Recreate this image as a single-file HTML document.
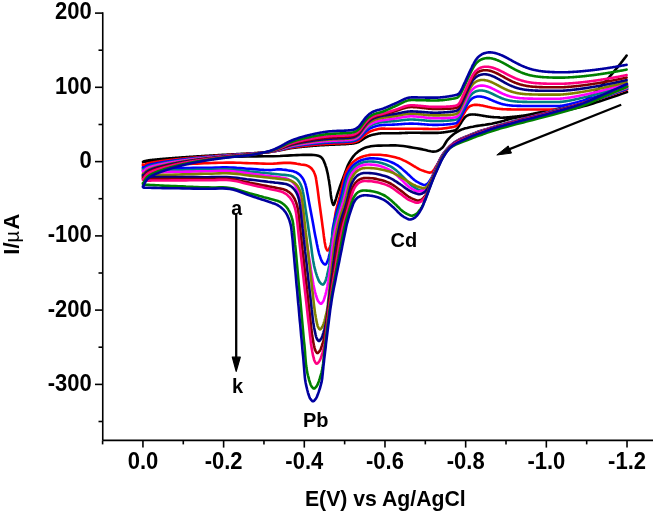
<!DOCTYPE html><html><head><meta charset="utf-8"><style>html,body{margin:0;padding:0;background:#fff;}svg{display:block}</style></head><body>
<svg width="653" height="514" viewBox="0 0 653 514" style="will-change:transform">
<g fill="none" stroke-width="2.6" stroke-linejoin="round" stroke-linecap="round">
<path stroke="#000000" d="M143.6,161.5 L144.1,161.3 L144.6,161.2 L145.1,161.0 L145.6,160.9 L146.1,160.8 L146.6,160.7 L147.1,160.6 L147.6,160.5 L148.1,160.4 L148.6,160.3 L149.1,160.3 L149.6,160.2 L150.1,160.1 L150.6,160.1 L151.1,160.0 L151.6,160.0 L152.1,159.9 L152.6,159.9 L153.1,159.8 L153.6,159.8 L154.1,159.7 L154.6,159.7 L155.1,159.6 L155.6,159.6 L156.1,159.5 L156.6,159.5 L157.1,159.4 L157.6,159.4 L158.1,159.3 L158.6,159.3 L159.1,159.2 L159.6,159.2 L160.1,159.1 L160.6,159.1 L161.1,159.1 L161.6,159.0 L162.1,159.0 L162.6,158.9 L163.1,158.9 L163.6,158.8 L164.1,158.8 L164.6,158.8 L165.1,158.7 L165.6,158.7 L166.1,158.6 L166.6,158.6 L167.1,158.6 L167.6,158.5 L168.1,158.5 L168.6,158.4 L169.1,158.4 L169.6,158.3 L170.1,158.3 L170.6,158.3 L171.1,158.2 L171.6,158.2 L172.1,158.2 L172.6,158.1 L173.1,158.1 L173.6,158.0 L174.1,158.0 L174.6,158.0 L175.1,157.9 L175.6,157.9 L176.1,157.9 L176.6,157.8 L177.1,157.8 L177.6,157.7 L178.1,157.7 L178.6,157.7 L179.1,157.6 L179.6,157.6 L180.1,157.6 L180.6,157.5 L181.1,157.5 L181.6,157.4 L182.1,157.4 L182.6,157.4 L183.1,157.3 L183.6,157.3 L184.1,157.3 L184.6,157.2 L185.1,157.2 L185.6,157.2 L186.1,157.1 L186.6,157.1 L187.1,157.1 L187.6,157.0 L188.1,157.0 L188.6,157.0 L189.1,156.9 L189.6,156.9 L190.1,156.9 L190.6,156.8 L191.1,156.8 L191.6,156.8 L192.1,156.7 L192.6,156.7 L193.1,156.7 L193.6,156.6 L194.1,156.6 L194.6,156.6 L195.1,156.5 L195.6,156.5 L196.1,156.5 L196.6,156.4 L197.1,156.4 L197.6,156.4 L198.1,156.3 L198.6,156.3 L199.1,156.3 L199.6,156.2 L200.1,156.2 L200.6,156.2 L201.1,156.2 L201.6,156.1 L202.1,156.1 L202.6,156.1 L203.1,156.0 L203.6,156.0 L204.1,156.0 L204.6,155.9 L205.1,155.9 L205.6,155.9 L206.1,155.8 L206.6,155.8 L207.1,155.8 L207.6,155.8 L208.1,155.7 L208.6,155.7 L209.1,155.7 L209.6,155.6 L210.1,155.6 L210.6,155.6 L211.1,155.6 L211.6,155.5 L212.1,155.5 L212.6,155.5 L213.1,155.4 L213.6,155.4 L214.1,155.4 L214.6,155.3 L215.1,155.3 L215.6,155.3 L216.1,155.3 L216.6,155.2 L217.1,155.2 L217.6,155.2 L218.1,155.1 L218.6,155.1 L219.1,155.1 L219.6,155.1 L220.1,155.0 L220.6,155.0 L221.1,155.0 L221.6,154.9 L222.1,154.9 L222.6,154.9 L223.1,154.9 L223.6,154.8 L224.1,154.8 L224.6,154.8 L225.1,154.8 L225.6,154.7 L226.1,154.7 L226.6,154.7 L227.1,154.6 L227.6,154.6 L228.1,154.6 L228.6,154.6 L229.1,154.5 L229.6,154.5 L230.1,154.5 L230.6,154.5 L231.1,154.4 L231.6,154.4 L232.1,154.4 L232.6,154.3 L233.1,154.3 L233.6,154.3 L234.1,154.3 L234.6,154.2 L235.1,154.2 L235.6,154.2 L236.1,154.2 L236.6,154.1 L237.1,154.1 L237.6,154.1 L238.1,154.1 L238.6,154.0 L239.1,154.0 L239.6,154.0 L240.1,154.0 L240.6,153.9 L241.1,153.9 L241.6,153.9 L242.1,153.9 L242.6,153.8 L243.1,153.8 L243.6,153.8 L244.1,153.8 L244.6,153.7 L245.1,153.7 L245.6,153.7 L246.1,153.7 L246.6,153.6 L247.1,153.6 L247.6,153.6 L248.1,153.6 L248.6,153.5 L249.1,153.5 L249.6,153.5 L250.1,153.4 L250.6,153.4 L251.1,153.4 L251.6,153.3 L252.1,153.3 L252.6,153.3 L253.1,153.2 L253.6,153.2 L254.1,153.2 L254.6,153.1 L255.1,153.1 L255.6,153.1 L256.1,153.0 L256.6,153.0 L257.1,153.0 L257.6,152.9 L258.1,152.9 L258.6,152.9 L259.1,152.8 L259.6,152.8 L260.1,152.7 L260.6,152.7 L261.1,152.7 L261.6,152.6 L262.1,152.6 L262.6,152.6 L263.1,152.5 L263.6,152.5 L264.1,152.4 L264.6,152.4 L265.1,152.4 L265.6,152.3 L266.1,152.3 L266.6,152.2 L267.1,152.2 L267.6,152.1 L268.1,152.1 L268.6,152.0 L269.1,152.0 L269.6,151.9 L270.1,151.9 L270.6,151.8 L271.1,151.7 L271.6,151.7 L272.1,151.6 L272.6,151.5 L273.1,151.5 L273.6,151.4 L274.1,151.3 L274.6,151.2 L275.1,151.2 L275.6,151.1 L276.1,151.0 L276.6,150.9 L277.1,150.8 L277.6,150.7 L278.1,150.7 L278.6,150.6 L279.1,150.5 L279.6,150.4 L280.1,150.3 L280.6,150.2 L281.1,150.1 L281.6,150.0 L282.1,149.9 L282.6,149.8 L283.1,149.7 L283.6,149.6 L284.1,149.5 L284.6,149.4 L285.1,149.3 L285.6,149.2 L286.1,149.1 L286.6,149.0 L287.1,148.9 L287.6,148.8 L288.1,148.7 L288.6,148.6 L289.1,148.5 L289.6,148.4 L290.1,148.3 L290.6,148.3 L291.1,148.2 L291.6,148.1 L292.1,148.0 L292.6,148.0 L293.1,147.9 L293.6,147.8 L294.1,147.8 L294.6,147.7 L295.1,147.6 L295.6,147.6 L296.1,147.5 L296.6,147.4 L297.1,147.4 L297.6,147.3 L298.1,147.3 L298.6,147.2 L299.1,147.1 L299.6,147.1 L300.1,147.0 L300.6,147.0 L301.1,146.9 L301.6,146.9 L302.1,146.8 L302.6,146.8 L303.1,146.7 L303.6,146.7 L304.1,146.6 L304.6,146.6 L305.1,146.5 L305.6,146.5 L306.1,146.4 L306.6,146.4 L307.1,146.4 L307.6,146.3 L308.1,146.3 L308.6,146.2 L309.1,146.2 L309.6,146.1 L310.1,146.1 L310.6,146.0 L311.1,146.0 L311.6,146.0 L312.1,145.9 L312.6,145.9 L313.1,145.8 L313.6,145.8 L314.1,145.8 L314.6,145.7 L315.1,145.7 L315.6,145.6 L316.1,145.6 L316.6,145.6 L317.1,145.5 L317.6,145.5 L318.1,145.4 L318.6,145.4 L319.1,145.4 L319.6,145.3 L320.1,145.3 L320.6,145.3 L321.1,145.3 L321.6,145.2 L322.1,145.2 L322.6,145.2 L323.1,145.1 L323.6,145.1 L324.1,145.1 L324.6,145.1 L325.1,145.0 L325.6,145.0 L326.1,145.0 L326.6,145.0 L327.1,144.9 L327.6,144.9 L328.1,144.9 L328.6,144.9 L329.1,144.8 L329.6,144.8 L330.1,144.8 L330.6,144.8 L331.1,144.7 L331.6,144.7 L332.1,144.7 L332.6,144.7 L333.1,144.7 L333.6,144.6 L334.1,144.6 L334.6,144.6 L335.1,144.6 L335.6,144.5 L336.1,144.5 L336.6,144.5 L337.1,144.5 L337.6,144.5 L338.1,144.4 L338.6,144.4 L339.1,144.4 L339.6,144.4 L340.1,144.4 L340.6,144.3 L341.1,144.3 L341.6,144.3 L342.1,144.3 L342.6,144.2 L343.1,144.2 L343.6,144.2 L344.1,144.2 L344.6,144.1 L345.1,144.1 L345.6,144.1 L346.1,144.1 L346.6,144.0 L347.1,144.0 L347.6,144.0 L348.1,143.9 L348.6,143.9 L349.1,143.8 L349.6,143.8 L350.1,143.8 L350.6,143.7 L351.1,143.7 L351.6,143.6 L352.1,143.6 L352.6,143.5 L353.1,143.4 L353.6,143.4 L354.1,143.3 L354.6,143.2 L355.1,143.1 L355.6,143.0 L356.1,142.9 L356.6,142.7 L357.1,142.6 L357.6,142.4 L358.1,142.2 L358.6,142.0 L359.1,141.8 L359.6,141.5 L360.1,141.2 L360.6,140.9 L361.1,140.6 L361.6,140.2 L362.1,139.9 L362.6,139.6 L363.1,139.2 L363.6,138.9 L364.1,138.6 L364.6,138.2 L365.1,137.9 L365.6,137.6 L366.1,137.3 L366.6,137.1 L367.1,136.8 L367.6,136.6 L368.1,136.3 L368.6,136.1 L369.1,135.9 L369.6,135.7 L370.1,135.5 L370.6,135.4 L371.1,135.2 L371.6,135.1 L372.1,134.9 L372.6,134.8 L373.1,134.7 L373.6,134.6 L374.1,134.5 L374.6,134.4 L375.1,134.3 L375.6,134.2 L376.1,134.1 L376.6,134.0 L377.1,133.9 L377.6,133.8 L378.1,133.7 L378.6,133.6 L379.1,133.5 L379.6,133.5 L380.1,133.4 L380.6,133.4 L381.1,133.3 L381.6,133.3 L382.1,133.3 L382.6,133.3 L383.1,133.3 L383.6,133.3 L384.1,133.3 L384.6,133.3 L385.1,133.3 L385.6,133.3 L386.1,133.3 L386.6,133.3 L387.1,133.3 L387.6,133.3 L388.1,133.3 L388.6,133.3 L389.1,133.3 L389.6,133.3 L390.1,133.3 L390.6,133.3 L391.1,133.3 L391.6,133.3 L392.1,133.3 L392.6,133.3 L393.1,133.3 L393.6,133.3 L394.1,133.3 L394.6,133.2 L395.1,133.2 L395.6,133.2 L396.1,133.2 L396.6,133.2 L397.1,133.2 L397.6,133.2 L398.1,133.2 L398.6,133.2 L399.1,133.2 L399.6,133.1 L400.1,133.1 L400.6,133.1 L401.1,133.1 L401.6,133.1 L402.1,133.0 L402.6,133.0 L403.1,133.0 L403.6,133.0 L404.1,133.0 L404.6,133.0 L405.1,132.9 L405.6,132.9 L406.1,132.9 L406.6,132.9 L407.1,132.9 L407.6,132.9 L408.1,132.8 L408.6,132.8 L409.1,132.8 L409.6,132.8 L410.1,132.8 L410.6,132.8 L411.1,132.8 L411.6,132.8 L412.1,132.8 L412.6,132.8 L413.1,132.8 L413.6,132.8 L414.1,132.8 L414.6,132.8 L415.1,132.8 L415.6,132.8 L416.1,132.8 L416.6,132.8 L417.1,132.8 L417.6,132.8 L418.1,132.8 L418.6,132.8 L419.1,132.8 L419.6,132.8 L420.1,132.8 L420.6,132.9 L421.1,132.9 L421.6,132.9 L422.1,132.9 L422.6,132.9 L423.1,132.9 L423.6,132.9 L424.1,132.9 L424.6,132.9 L425.1,132.9 L425.6,132.9 L426.1,132.9 L426.6,132.9 L427.1,132.9 L427.6,132.9 L428.1,132.9 L428.6,132.9 L429.1,132.9 L429.6,132.9 L430.1,132.9 L430.6,132.9 L431.1,132.9 L431.6,132.9 L432.1,132.9 L432.6,132.9 L433.1,132.9 L433.6,132.9 L434.1,132.9 L434.6,132.9 L435.1,132.9 L435.6,132.9 L436.1,132.9 L436.6,132.9 L437.1,132.9 L437.6,132.9 L438.1,132.9 L438.6,132.8 L439.1,132.8 L439.6,132.8 L440.1,132.7 L440.6,132.7 L441.1,132.6 L441.6,132.6 L442.1,132.5 L442.6,132.5 L443.1,132.4 L443.6,132.4 L444.1,132.3 L444.6,132.2 L445.1,132.2 L445.6,132.1 L446.1,132.0 L446.6,131.9 L447.1,131.9 L447.6,131.8 L448.1,131.7 L448.6,131.6 L449.1,131.5 L449.6,131.5 L450.1,131.4 L450.6,131.3 L451.1,131.2 L451.6,131.1 L452.1,131.0 L452.6,130.9 L453.1,130.8 L453.6,130.7 L454.1,130.5 L454.6,130.4 L455.1,130.2 L455.6,129.9 L456.1,129.6 L456.6,129.2 L457.1,128.7 L457.6,128.1 L458.1,127.4 L458.6,126.6 L459.1,125.9 L459.6,125.1 L460.1,124.3 L460.6,123.5 L461.1,122.7 L461.6,121.9 L462.1,121.1 L462.6,120.4 L463.1,119.6 L463.6,118.9 L464.1,118.3 L464.6,117.7 L465.1,117.2 L465.6,116.7 L466.1,116.3 L466.6,115.9 L467.1,115.6 L467.6,115.4 L468.1,115.2 L468.6,115.0 L469.1,114.8 L469.6,114.7 L470.1,114.6 L470.6,114.6 L471.1,114.5 L471.6,114.5 L472.1,114.5 L472.6,114.4 L473.1,114.5 L473.6,114.5 L474.1,114.5 L474.6,114.5 L475.1,114.6 L475.6,114.6 L476.1,114.7 L476.6,114.7 L477.1,114.8 L477.6,114.9 L478.1,114.9 L478.6,115.0 L479.1,115.1 L479.6,115.2 L480.1,115.3 L480.6,115.3 L481.1,115.4 L481.6,115.5 L482.1,115.6 L482.6,115.7 L483.1,115.8 L483.6,115.9 L484.1,115.9 L484.6,116.0 L485.1,116.1 L485.6,116.2 L486.1,116.3 L486.6,116.4 L487.1,116.4 L487.6,116.5 L488.1,116.6 L488.6,116.6 L489.1,116.7 L489.6,116.8 L490.1,116.8 L490.6,116.9 L491.1,116.9 L491.6,117.0 L492.1,117.0 L492.6,117.1 L493.1,117.1 L493.6,117.1 L494.1,117.2 L494.6,117.2 L495.1,117.2 L495.6,117.3 L496.1,117.3 L496.6,117.3 L497.1,117.3 L497.6,117.3 L498.1,117.4 L498.6,117.4 L499.1,117.4 L499.6,117.4 L500.1,117.8 L500.6,117.8 L501.1,117.8 L501.6,117.7 L502.1,117.7 L502.6,117.7 L503.1,117.7 L503.6,117.6 L504.1,117.6 L504.6,117.6 L505.1,117.5 L505.6,117.5 L506.1,117.5 L506.6,117.4 L507.1,117.4 L507.6,117.4 L508.1,117.3 L508.6,117.3 L509.1,117.2 L509.6,117.2 L510.1,117.1 L510.6,117.1 L511.1,117.0 L511.6,117.0 L512.1,116.9 L512.6,116.9 L513.1,116.8 L513.6,116.8 L514.1,116.7 L514.6,116.7 L515.1,116.6 L515.6,116.6 L516.1,116.5 L516.6,116.5 L517.1,116.4 L517.6,116.3 L518.1,116.3 L518.6,116.2 L519.1,116.2 L519.6,116.1 L520.1,116.0 L520.6,116.0 L521.1,115.9 L521.6,115.9 L522.1,115.8 L522.6,115.7 L523.1,115.7 L523.6,115.6 L524.1,115.5 L524.6,115.4 L525.1,115.3 L525.6,115.3 L526.1,115.2 L526.6,115.1 L527.1,115.0 L527.6,114.9 L528.1,114.8 L528.6,114.7 L529.1,114.6 L529.6,114.5 L530.1,114.4 L530.6,114.3 L531.1,114.2 L531.6,114.1 L532.1,114.0 L532.6,113.9 L533.1,113.8 L533.6,113.7 L534.1,113.5 L534.6,113.4 L535.1,113.3 L535.6,113.2 L536.1,113.1 L536.6,113.0 L537.1,112.9 L537.6,112.8 L538.1,112.7 L538.6,112.6 L539.1,112.5 L539.6,112.4 L540.1,112.3 L540.6,112.2 L541.1,112.1 L541.6,112.0 L542.1,111.9 L542.6,111.8 L543.1,111.7 L543.6,111.6 L544.1,111.5 L544.6,111.4 L545.1,111.3 L545.6,111.2 L546.1,111.1 L546.6,111.0 L547.1,110.9 L547.6,110.8 L548.1,110.7 L548.6,110.6 L549.1,110.5 L549.6,110.4 L550.1,110.3 L550.6,110.3 L551.1,110.2 L551.6,110.1 L552.1,110.0 L552.6,109.9 L553.1,109.8 L553.6,109.7 L554.1,109.6 L554.6,109.5 L555.1,109.4 L555.6,109.2 L556.1,109.1 L556.6,109.0 L557.1,108.9 L557.6,108.8 L558.1,108.7 L558.6,108.6 L559.1,108.5 L559.6,108.4 L560.1,108.3 L560.6,108.2 L561.1,108.1 L561.6,107.9 L562.1,107.8 L562.6,107.7 L563.1,107.6 L563.6,107.5 L564.1,107.4 L564.6,107.3 L565.1,107.2 L565.6,107.1 L566.1,107.0 L566.6,106.9 L567.1,106.8 L567.6,106.7 L568.1,106.6 L568.6,106.5 L569.1,106.4 L569.6,106.3 L570.1,106.1 L570.6,106.0 L571.1,105.9 L571.6,105.8 L572.1,105.7 L572.6,105.5 L573.1,105.4 L573.6,105.3 L574.1,105.1 L574.6,105.0 L575.1,104.9 L575.6,104.7 L576.1,104.6 L576.6,104.4 L577.1,104.2 L577.6,104.1 L578.1,103.9 L578.6,103.7 L579.1,103.5 L579.6,103.4 L580.1,103.2 L580.6,103.0 L581.1,102.7 L581.6,102.5 L582.1,102.2 L582.6,101.9 L583.1,101.6 L583.6,101.3 L584.1,101.0 L584.6,100.7 L585.1,100.3 L585.6,100.0 L586.1,99.6 L586.6,99.2 L587.1,98.8 L587.6,98.4 L588.1,98.0 L588.6,97.6 L589.1,97.2 L589.6,96.8 L590.1,96.3 L590.6,95.9 L591.1,95.4 L591.6,95.0 L592.1,94.6 L592.6,94.1 L593.1,93.7 L593.6,93.2 L594.1,92.8 L594.6,92.4 L595.1,91.9 L595.6,91.5 L596.1,91.0 L596.6,90.6 L597.1,90.1 L597.6,89.6 L598.1,89.1 L598.6,88.6 L599.1,88.1 L599.6,87.6 L600.1,87.1 L600.6,86.6 L601.1,86.1 L601.6,85.6 L602.1,85.0 L602.6,84.5 L603.1,84.0 L603.6,83.4 L604.1,82.9 L604.6,82.3 L605.1,81.8 L605.6,81.2 L606.1,80.6 L606.6,80.1 L607.1,79.5 L607.6,79.0 L608.1,78.4 L608.6,77.8 L609.1,77.3 L609.6,76.7 L610.1,76.1 L610.6,75.5 L611.1,75.0 L611.6,74.4 L612.1,73.8 L612.6,73.2 L613.1,72.6 L613.6,72.0 L614.1,71.4 L614.6,70.8 L615.1,70.2 L615.6,69.6 L616.1,69.0 L616.6,68.4 L617.1,67.8 L617.6,67.2 L618.1,66.6 L618.6,65.9 L619.1,65.3 L619.6,64.7 L620.1,64.1 L620.6,63.4 L621.1,62.8 L621.6,62.1 L622.1,61.5 L622.6,60.8 L623.1,60.2 L623.6,59.5 L624.1,58.9 L624.6,58.2 L625.1,57.6 L625.6,56.9 L626.1,56.2 L626.6,55.5 M627.0,92.0 L622.5,93.6 L617.9,95.2 L613.3,96.7 L608.7,98.3 L604.3,99.8 L600.0,101.2 L596.5,102.3 L593.1,103.4 L589.8,104.4 L586.6,105.4 L583.3,106.3 L580.0,107.2 L576.7,108.0 L573.4,108.7 L570.0,109.4 L566.7,110.1 L563.3,110.7 L560.0,111.2 L556.7,111.7 L553.3,112.1 L550.0,112.4 L546.7,112.7 L543.3,113.1 L540.0,113.5 L536.6,114.0 L533.1,114.5 L529.7,115.1 L526.3,115.6 L523.0,116.2 L520.0,116.8 L517.8,117.2 L515.7,117.7 L513.6,118.1 L511.7,118.6 L509.8,119.0 L508.0,119.5 L506.6,119.9 L505.2,120.3 L504.0,120.7 L502.7,121.1 L501.4,121.4 L500.0,121.8 L498.4,122.2 L496.8,122.6 L495.2,122.9 L493.5,123.3 L491.8,123.7 L490.0,124.0 L487.7,124.4 L485.2,124.8 L482.6,125.1 L480.0,125.5 L477.4,125.9 L475.0,126.3 L472.9,126.7 L470.9,127.0 L468.9,127.4 L467.0,127.9 L465.2,128.3 L463.4,128.9 L462.0,129.4 L460.6,130.0 L459.3,130.6 L458.1,131.3 L456.8,132.0 L455.6,132.8 L454.2,133.8 L452.9,134.8 L451.5,135.9 L450.2,137.1 L449.0,138.3 L447.8,139.6 L446.7,141.0 L445.8,142.5 L444.9,144.0 L444.0,145.5 L443.1,146.9 L442.0,148.0 L441.0,148.8 L440.0,149.6 L438.9,150.2 L437.8,150.8 L436.5,151.2 L435.2,151.5 L433.1,151.6 L430.7,151.3 L428.1,150.8 L425.5,150.1 L422.7,149.4 L420.0,148.9 L416.8,148.3 L413.4,147.7 L410.0,147.1 L406.5,146.5 L403.2,146.0 L400.0,145.7 L397.5,145.5 L395.2,145.4 L392.9,145.4 L390.6,145.4 L388.3,145.5 L386.0,145.5 L383.5,145.5 L380.8,145.6 L378.2,145.6 L375.6,145.7 L373.1,146.0 L370.8,146.3 L369.0,146.7 L367.4,147.1 L365.7,147.6 L364.2,148.1 L362.7,148.8 L361.3,149.5 L360.0,150.3 L358.8,151.1 L357.7,152.0 L356.6,152.9 L355.5,153.9 L354.5,155.0 L353.5,156.2 L352.5,157.4 L351.6,158.7 L350.7,160.1 L349.8,161.6 L349.0,163.1 L348.0,165.1 L347.1,167.3 L346.2,169.6 L345.3,172.0 L344.5,174.3 L343.6,176.7 L342.7,179.2 L341.7,181.8 L340.7,184.4 L339.8,187.0 L339.0,189.4 L338.2,191.7 L337.7,193.2 L337.2,194.7 L336.8,196.1 L336.4,197.5 L336.0,198.8 L335.6,200.0 L335.3,201.0 L334.9,202.1 L334.5,203.2 L334.2,204.1 L333.8,204.7 L333.5,204.9 L333.1,204.6 L332.8,203.8 L332.4,202.6 L332.0,201.3 L331.7,199.8 L331.4,198.5 L331.1,196.7 L330.8,194.7 L330.6,192.6 L330.3,190.4 L330.1,188.2 L329.8,186.0 L329.4,183.7 L329.1,181.3 L328.6,178.8 L328.2,176.4 L327.8,174.1 L327.3,172.0 L326.9,170.4 L326.6,168.9 L326.2,167.5 L325.7,166.1 L325.3,164.8 L324.8,163.5 L324.3,162.4 L323.9,161.3 L323.4,160.2 L322.8,159.2 L322.2,158.3 L321.5,157.5 L320.8,156.9 L320.0,156.5 L319.1,156.1 L318.2,155.8 L317.1,155.5 L316.0,155.3 L313.9,155.0 L311.4,154.9 L308.7,154.8 L305.8,154.9 L302.9,154.9 L300.0,155.0 L296.9,155.1 L293.8,155.2 L290.7,155.4 L287.4,155.6 L283.9,155.8 L280.0,156.0 L272.9,156.2 L264.9,156.3 L256.2,156.4 L247.3,156.5 L238.4,156.6 L230.0,156.8 L222.4,157.1 L214.7,157.4 L207.1,157.7 L199.7,158.1 L192.6,158.4 L186.0,158.8 L181.2,159.1 L176.6,159.4 L172.2,159.6 L168.0,159.9 L163.9,160.2 L160.0,160.5 L157.0,160.7 L154.1,160.9 L151.3,161.2 L148.5,161.4 L145.8,161.6 L143.0,161.8"/>
<path stroke="#ff0000" d="M627.0,89.5 L622.5,91.0 L617.9,92.6 L613.3,94.2 L608.7,95.8 L604.3,97.2 L600.0,98.5 L596.6,99.4 L593.4,100.3 L590.3,101.0 L587.1,101.8 L583.7,102.6 L580.0,103.5 L574.0,105.1 L567.2,106.9 L560.0,108.9 L552.8,110.8 L546.0,112.7 L540.0,114.3 L536.3,115.3 L532.8,116.2 L529.6,117.0 L526.4,117.8 L523.3,118.6 L520.0,119.5 L516.6,120.4 L513.1,121.4 L509.6,122.3 L506.2,123.3 L502.9,124.2 L500.0,125.0 L498.1,125.5 L496.4,126.1 L494.8,126.5 L493.2,127.0 L491.6,127.5 L490.0,128.0 L488.3,128.5 L486.7,129.0 L485.0,129.4 L483.3,129.9 L481.7,130.4 L480.0,131.0 L478.3,131.6 L476.7,132.3 L475.0,132.9 L473.4,133.6 L471.7,134.3 L470.0,135.0 L468.2,135.7 L466.3,136.4 L464.4,137.2 L462.6,137.9 L460.8,138.7 L459.2,139.5 L457.8,140.3 L456.5,141.1 L455.2,141.9 L454.0,142.7 L452.9,143.5 L451.8,144.4 L450.9,145.2 L450.0,146.0 L449.1,146.8 L448.3,147.6 L447.5,148.5 L446.7,149.3 L446.1,150.0 L445.5,150.8 L444.9,151.5 L444.3,152.3 L443.7,153.0 L443.2,153.8 L442.7,154.5 L442.2,155.3 L441.7,156.1 L441.3,156.8 L440.8,157.6 L440.4,158.3 L440.1,158.9 L439.8,159.5 L439.5,160.1 L439.2,160.8 L438.9,161.4 L438.5,162.1 L438.0,163.1 L437.3,164.2 L436.7,165.4 L436.0,166.6 L435.3,167.6 L434.7,168.6 L434.3,169.2 L433.9,169.8 L433.6,170.3 L433.2,170.8 L432.8,171.3 L432.4,171.6 L432.0,171.9 L431.6,172.1 L431.2,172.3 L430.8,172.4 L430.4,172.5 L430.0,172.6 L429.6,172.6 L429.1,172.6 L428.7,172.5 L428.3,172.4 L427.8,172.2 L427.2,172.1 L426.2,171.8 L425.1,171.4 L423.9,171.0 L422.6,170.6 L421.4,170.1 L420.1,169.6 L418.6,168.8 L417.1,168.0 L415.5,167.0 L413.9,166.1 L412.3,165.1 L410.7,164.2 L409.0,163.2 L407.2,162.2 L405.4,161.2 L403.5,160.3 L401.6,159.4 L399.7,158.6 L397.5,157.9 L395.2,157.3 L392.8,156.7 L390.5,156.2 L388.2,155.8 L385.9,155.4 L384.0,155.2 L382.1,155.0 L380.2,154.8 L378.4,154.7 L376.6,154.7 L374.9,154.7 L373.6,154.7 L372.4,154.8 L371.3,154.8 L370.1,154.9 L368.9,155.1 L367.8,155.3 L366.4,155.5 L365.0,155.9 L363.6,156.3 L362.2,156.7 L360.9,157.2 L359.6,157.8 L358.4,158.4 L357.2,159.0 L356.1,159.8 L355.0,160.5 L353.9,161.4 L352.9,162.3 L352.0,163.2 L351.0,164.3 L350.2,165.4 L349.3,166.5 L348.5,167.6 L347.8,168.8 L347.3,169.7 L346.8,170.7 L346.3,171.6 L345.9,172.6 L345.5,173.7 L345.0,174.9 L344.2,177.8 L343.3,181.2 L342.4,185.0 L341.5,189.0 L340.6,192.9 L339.8,196.5 L339.0,199.4 L338.3,202.2 L337.5,205.0 L336.8,207.7 L336.1,210.5 L335.5,213.2 L335.1,216.1 L334.7,219.0 L334.4,222.0 L334.2,224.8 L333.9,227.5 L333.6,230.0 L333.4,231.6 L333.1,233.1 L332.9,234.5 L332.6,235.9 L332.3,237.2 L332.1,238.5 L331.8,239.6 L331.6,240.6 L331.4,241.7 L331.1,242.7 L330.9,243.6 L330.7,244.5 L330.5,245.2 L330.3,245.8 L330.1,246.4 L329.9,246.9 L329.7,247.5 L329.5,248.0 L329.2,248.5 L328.9,249.1 L328.6,249.6 L328.2,250.1 L327.9,250.4 L327.6,250.5 L327.3,250.4 L327.0,250.0 L326.8,249.6 L326.5,249.1 L326.2,248.5 L326.0,248.0 L325.8,247.5 L325.7,246.9 L325.5,246.4 L325.4,245.8 L325.3,245.1 L325.2,244.5 L325.0,243.6 L324.8,242.7 L324.6,241.7 L324.5,240.6 L324.3,239.6 L324.2,238.5 L324.0,237.2 L323.8,235.9 L323.7,234.6 L323.5,233.2 L323.3,231.7 L323.1,230.0 L322.6,226.6 L322.1,222.7 L321.5,218.3 L320.9,213.9 L320.3,209.4 L319.7,205.1 L319.1,200.7 L318.5,196.0 L317.9,191.3 L317.3,186.9 L316.7,183.1 L316.3,180.1 L316.1,179.2 L316.0,178.5 L315.9,177.8 L315.8,177.2 L315.6,176.6 L315.4,176.0 L315.2,175.2 L314.9,174.4 L314.6,173.6 L314.3,172.9 L314.0,172.1 L313.6,171.4 L313.2,170.8 L312.8,170.2 L312.4,169.6 L312.0,169.0 L311.5,168.5 L311.0,168.0 L310.5,167.6 L309.9,167.2 L309.4,166.8 L308.8,166.4 L308.2,166.1 L307.6,165.8 L307.1,165.6 L306.6,165.4 L306.0,165.3 L305.5,165.1 L305.0,165.0 L304.5,164.9 L304.1,164.9 L303.8,164.8 L303.5,164.8 L303.1,164.8 L302.7,164.8 L302.2,164.7 L300.8,164.5 L299.0,164.1 L297.0,163.8 L294.8,163.4 L292.5,163.1 L290.2,162.9 L287.2,162.8 L283.9,162.9 L280.4,163.1 L276.9,163.4 L273.4,163.6 L270.0,163.7 L266.7,163.7 L263.3,163.6 L260.0,163.5 L256.7,163.4 L253.3,163.3 L250.0,163.2 L246.7,163.1 L243.4,163.0 L240.1,162.8 L236.7,162.7 L233.4,162.6 L230.0,162.6 L226.4,162.6 L222.7,162.7 L219.1,162.8 L215.4,162.9 L211.7,163.0 L208.0,163.2 L204.3,163.3 L200.6,163.4 L197.0,163.6 L193.3,163.7 L189.6,163.9 L186.0,164.0 L182.4,164.2 L178.8,164.3 L175.2,164.5 L171.6,164.6 L168.2,164.8 L165.0,164.9 L162.6,165.0 L160.3,165.1 L158.2,165.3 L156.0,165.4 L154.0,165.5 L152.0,165.6 L150.4,165.6 L148.9,165.7 L147.4,165.8 L145.9,165.9 L143.9,166.1 L142.9,165.4 L142.9,164.4 L143.6,165.5 L144.1,165.1 L144.6,164.8 L145.1,164.5 L145.6,164.2 L146.1,164.0 L146.6,163.8 L147.1,163.6 L147.6,163.5 L148.1,163.3 L148.6,163.2 L149.1,163.1 L149.6,163.0 L150.1,162.9 L150.6,162.8 L151.1,162.7 L151.6,162.6 L152.1,162.5 L152.6,162.4 L153.1,162.3 L153.6,162.2 L154.1,162.1 L154.6,162.1 L155.1,162.0 L155.6,161.9 L156.1,161.8 L156.6,161.8 L157.1,161.7 L157.6,161.6 L158.1,161.5 L158.6,161.5 L159.1,161.4 L159.6,161.3 L160.1,161.3 L160.6,161.2 L161.1,161.1 L161.6,161.1 L162.1,161.0 L162.6,160.9 L163.1,160.9 L163.6,160.8 L164.1,160.7 L164.6,160.7 L165.1,160.6 L165.6,160.5 L166.1,160.5 L166.6,160.4 L167.1,160.4 L167.6,160.3 L168.1,160.2 L168.6,160.2 L169.1,160.1 L169.6,160.1 L170.1,160.0 L170.6,159.9 L171.1,159.9 L171.6,159.8 L172.1,159.8 L172.6,159.7 L173.1,159.7 L173.6,159.6 L174.1,159.5 L174.6,159.5 L175.1,159.4 L175.6,159.4 L176.1,159.3 L176.6,159.3 L177.1,159.2 L177.6,159.2 L178.1,159.1 L178.6,159.1 L179.1,159.0 L179.6,159.0 L180.1,158.9 L180.6,158.9 L181.1,158.8 L181.6,158.8 L182.1,158.7 L182.6,158.7 L183.1,158.6 L183.6,158.6 L184.1,158.5 L184.6,158.5 L185.1,158.4 L185.6,158.4 L186.1,158.3 L186.6,158.3 L187.1,158.2 L187.6,158.2 L188.1,158.1 L188.6,158.1 L189.1,158.0 L189.6,158.0 L190.1,157.9 L190.6,157.9 L191.1,157.9 L191.6,157.8 L192.1,157.8 L192.6,157.7 L193.1,157.7 L193.6,157.6 L194.1,157.6 L194.6,157.5 L195.1,157.5 L195.6,157.5 L196.1,157.4 L196.6,157.4 L197.1,157.3 L197.6,157.3 L198.1,157.2 L198.6,157.2 L199.1,157.2 L199.6,157.1 L200.1,157.1 L200.6,157.0 L201.1,157.0 L201.6,157.0 L202.1,156.9 L202.6,156.9 L203.1,156.8 L203.6,156.8 L204.1,156.8 L204.6,156.7 L205.1,156.7 L205.6,156.6 L206.1,156.6 L206.6,156.6 L207.1,156.5 L207.6,156.5 L208.1,156.5 L208.6,156.4 L209.1,156.4 L209.6,156.3 L210.1,156.3 L210.6,156.3 L211.1,156.2 L211.6,156.2 L212.1,156.2 L212.6,156.1 L213.1,156.1 L213.6,156.0 L214.1,156.0 L214.6,156.0 L215.1,155.9 L215.6,155.9 L216.1,155.9 L216.6,155.8 L217.1,155.8 L217.6,155.8 L218.1,155.7 L218.6,155.7 L219.1,155.7 L219.6,155.6 L220.1,155.6 L220.6,155.6 L221.1,155.5 L221.6,155.5 L222.1,155.5 L222.6,155.4 L223.1,155.4 L223.6,155.4 L224.1,155.3 L224.6,155.3 L225.1,155.3 L225.6,155.2 L226.1,155.2 L226.6,155.2 L227.1,155.1 L227.6,155.1 L228.1,155.1 L228.6,155.0 L229.1,155.0 L229.6,155.0 L230.1,154.9 L230.6,154.9 L231.1,154.9 L231.6,154.8 L232.1,154.8 L232.6,154.8 L233.1,154.7 L233.6,154.7 L234.1,154.7 L234.6,154.6 L235.1,154.6 L235.6,154.6 L236.1,154.6 L236.6,154.5 L237.1,154.5 L237.6,154.5 L238.1,154.4 L238.6,154.4 L239.1,154.4 L239.6,154.3 L240.1,154.3 L240.6,154.3 L241.1,154.3 L241.6,154.2 L242.1,154.2 L242.6,154.2 L243.1,154.2 L243.6,154.1 L244.1,154.1 L244.6,154.1 L245.1,154.0 L245.6,154.0 L246.1,154.0 L246.6,153.9 L247.1,153.9 L247.6,153.9 L248.1,153.9 L248.6,153.8 L249.1,153.8 L249.6,153.8 L250.1,153.7 L250.6,153.7 L251.1,153.7 L251.6,153.6 L252.1,153.6 L252.6,153.5 L253.1,153.5 L253.6,153.5 L254.1,153.4 L254.6,153.4 L255.1,153.3 L255.6,153.3 L256.1,153.3 L256.6,153.2 L257.1,153.2 L257.6,153.1 L258.1,153.1 L258.6,153.1 L259.1,153.0 L259.6,153.0 L260.1,152.9 L260.6,152.9 L261.1,152.8 L261.6,152.8 L262.1,152.8 L262.6,152.7 L263.1,152.7 L263.6,152.6 L264.1,152.6 L264.6,152.5 L265.1,152.5 L265.6,152.4 L266.1,152.4 L266.6,152.3 L267.1,152.3 L267.6,152.2 L268.1,152.2 L268.6,152.1 L269.1,152.0 L269.6,152.0 L270.1,151.9 L270.6,151.9 L271.1,151.8 L271.6,151.7 L272.1,151.6 L272.6,151.6 L273.1,151.5 L273.6,151.4 L274.1,151.3 L274.6,151.2 L275.1,151.1 L275.6,151.0 L276.1,150.9 L276.6,150.8 L277.1,150.7 L277.6,150.6 L278.1,150.5 L278.6,150.4 L279.1,150.3 L279.6,150.2 L280.1,150.1 L280.6,150.0 L281.1,149.9 L281.6,149.8 L282.1,149.7 L282.6,149.6 L283.1,149.5 L283.6,149.3 L284.1,149.2 L284.6,149.1 L285.1,149.0 L285.6,148.8 L286.1,148.7 L286.6,148.6 L287.1,148.5 L287.6,148.4 L288.1,148.3 L288.6,148.2 L289.1,148.1 L289.6,148.0 L290.1,147.9 L290.6,147.8 L291.1,147.7 L291.6,147.6 L292.1,147.5 L292.6,147.4 L293.1,147.4 L293.6,147.3 L294.1,147.2 L294.6,147.1 L295.1,147.0 L295.6,147.0 L296.1,146.9 L296.6,146.8 L297.1,146.8 L297.6,146.7 L298.1,146.6 L298.6,146.6 L299.1,146.5 L299.6,146.4 L300.1,146.4 L300.6,146.3 L301.1,146.2 L301.6,146.2 L302.1,146.1 L302.6,146.1 L303.1,146.0 L303.6,146.0 L304.1,145.9 L304.6,145.8 L305.1,145.8 L305.6,145.7 L306.1,145.7 L306.6,145.6 L307.1,145.6 L307.6,145.5 L308.1,145.5 L308.6,145.4 L309.1,145.4 L309.6,145.3 L310.1,145.3 L310.6,145.2 L311.1,145.2 L311.6,145.1 L312.1,145.1 L312.6,145.0 L313.1,145.0 L313.6,144.9 L314.1,144.9 L314.6,144.8 L315.1,144.8 L315.6,144.8 L316.1,144.7 L316.6,144.7 L317.1,144.6 L317.6,144.6 L318.1,144.5 L318.6,144.5 L319.1,144.5 L319.6,144.4 L320.1,144.4 L320.6,144.4 L321.1,144.3 L321.6,144.3 L322.1,144.3 L322.6,144.2 L323.1,144.2 L323.6,144.2 L324.1,144.1 L324.6,144.1 L325.1,144.1 L325.6,144.0 L326.1,144.0 L326.6,144.0 L327.1,144.0 L327.6,143.9 L328.1,143.9 L328.6,143.9 L329.1,143.9 L329.6,143.8 L330.1,143.8 L330.6,143.8 L331.1,143.7 L331.6,143.7 L332.1,143.7 L332.6,143.7 L333.1,143.6 L333.6,143.6 L334.1,143.6 L334.6,143.6 L335.1,143.6 L335.6,143.5 L336.1,143.5 L336.6,143.5 L337.1,143.5 L337.6,143.5 L338.1,143.4 L338.6,143.4 L339.1,143.4 L339.6,143.4 L340.1,143.4 L340.6,143.3 L341.1,143.3 L341.6,143.3 L342.1,143.3 L342.6,143.3 L343.1,143.2 L343.6,143.2 L344.1,143.2 L344.6,143.2 L345.1,143.1 L345.6,143.1 L346.1,143.1 L346.6,143.0 L347.1,143.0 L347.6,143.0 L348.1,142.9 L348.6,142.9 L349.1,142.9 L349.6,142.8 L350.1,142.8 L350.6,142.7 L351.1,142.7 L351.6,142.6 L352.1,142.6 L352.6,142.5 L353.1,142.4 L353.6,142.3 L354.1,142.2 L354.6,142.1 L355.1,141.9 L355.6,141.8 L356.1,141.6 L356.6,141.4 L357.1,141.2 L357.6,140.9 L358.1,140.7 L358.6,140.4 L359.1,140.0 L359.6,139.7 L360.1,139.3 L360.6,138.8 L361.1,138.4 L361.6,137.9 L362.1,137.5 L362.6,137.0 L363.1,136.5 L363.6,136.1 L364.1,135.6 L364.6,135.2 L365.1,134.8 L365.6,134.4 L366.1,134.0 L366.6,133.6 L367.1,133.3 L367.6,132.9 L368.1,132.6 L368.6,132.3 L369.1,132.0 L369.6,131.8 L370.1,131.5 L370.6,131.3 L371.1,131.1 L371.6,130.9 L372.1,130.7 L372.6,130.5 L373.1,130.4 L373.6,130.2 L374.1,130.1 L374.6,129.9 L375.1,129.8 L375.6,129.7 L376.1,129.5 L376.6,129.4 L377.1,129.3 L377.6,129.2 L378.1,129.1 L378.6,128.9 L379.1,128.9 L379.6,128.8 L380.1,128.7 L380.6,128.7 L381.1,128.6 L381.6,128.6 L382.1,128.6 L382.6,128.6 L383.1,128.6 L383.6,128.6 L384.1,128.6 L384.6,128.6 L385.1,128.7 L385.6,128.7 L386.1,128.7 L386.6,128.7 L387.1,128.7 L387.6,128.7 L388.1,128.7 L388.6,128.7 L389.1,128.8 L389.6,128.8 L390.1,128.8 L390.6,128.8 L391.1,128.8 L391.6,128.8 L392.1,128.8 L392.6,128.8 L393.1,128.8 L393.6,128.8 L394.1,128.8 L394.6,128.8 L395.1,128.8 L395.6,128.8 L396.1,128.8 L396.6,128.8 L397.1,128.8 L397.6,128.8 L398.1,128.8 L398.6,128.8 L399.1,128.8 L399.6,128.8 L400.1,128.8 L400.6,128.8 L401.1,128.8 L401.6,128.8 L402.1,128.8 L402.6,128.8 L403.1,128.8 L403.6,128.8 L404.1,128.8 L404.6,128.8 L405.1,128.7 L405.6,128.7 L406.1,128.7 L406.6,128.7 L407.1,128.7 L407.6,128.7 L408.1,128.7 L408.6,128.7 L409.1,128.7 L409.6,128.7 L410.1,128.7 L410.6,128.7 L411.1,128.7 L411.6,128.7 L412.1,128.7 L412.6,128.7 L413.1,128.7 L413.6,128.7 L414.1,128.7 L414.6,128.7 L415.1,128.7 L415.6,128.7 L416.1,128.7 L416.6,128.7 L417.1,128.7 L417.6,128.8 L418.1,128.8 L418.6,128.8 L419.1,128.8 L419.6,128.8 L420.1,128.8 L420.6,128.8 L421.1,128.8 L421.6,128.8 L422.1,128.8 L422.6,128.8 L423.1,128.9 L423.6,128.9 L424.1,128.9 L424.6,128.9 L425.1,128.9 L425.6,128.9 L426.1,128.9 L426.6,128.9 L427.1,128.9 L427.6,128.9 L428.1,128.9 L428.6,128.9 L429.1,129.0 L429.6,129.0 L430.1,129.0 L430.6,129.0 L431.1,129.0 L431.6,129.0 L432.1,129.0 L432.6,129.0 L433.1,129.0 L433.6,129.0 L434.1,129.0 L434.6,129.0 L435.1,129.0 L435.6,129.0 L436.1,129.0 L436.6,129.0 L437.1,129.0 L437.6,128.9 L438.1,128.9 L438.6,128.9 L439.1,128.9 L439.6,128.8 L440.1,128.8 L440.6,128.7 L441.1,128.7 L441.6,128.7 L442.1,128.6 L442.6,128.6 L443.1,128.5 L443.6,128.4 L444.1,128.4 L444.6,128.3 L445.1,128.3 L445.6,128.2 L446.1,128.1 L446.6,128.1 L447.1,128.0 L447.6,127.9 L448.1,127.8 L448.6,127.8 L449.1,127.7 L449.6,127.6 L450.1,127.5 L450.6,127.4 L451.1,127.4 L451.6,127.3 L452.1,127.2 L452.6,127.1 L453.1,127.0 L453.6,126.9 L454.1,126.7 L454.6,126.6 L455.1,126.5 L455.6,126.3 L456.1,126.0 L456.6,125.6 L457.1,125.2 L457.6,124.6 L458.1,123.9 L458.6,123.2 L459.1,122.3 L459.6,121.4 L460.1,120.6 L460.6,119.6 L461.1,118.7 L461.6,117.8 L462.1,116.9 L462.6,116.0 L463.1,115.1 L463.6,114.2 L464.1,113.3 L464.6,112.5 L465.1,111.6 L465.6,110.8 L466.1,110.1 L466.6,109.4 L467.1,108.8 L467.6,108.2 L468.1,107.7 L468.6,107.2 L469.1,106.8 L469.6,106.5 L470.1,106.2 L470.6,105.9 L471.1,105.7 L471.6,105.5 L472.1,105.4 L472.6,105.2 L473.1,105.1 L473.6,105.0 L474.1,104.9 L474.6,104.9 L475.1,104.9 L475.6,104.9 L476.1,104.9 L476.6,104.9 L477.1,104.9 L477.6,104.9 L478.1,105.0 L478.6,105.0 L479.1,105.1 L479.6,105.1 L480.1,105.2 L480.6,105.3 L481.1,105.4 L481.6,105.5 L482.1,105.5 L482.6,105.6 L483.1,105.7 L483.6,105.9 L484.1,106.0 L484.6,106.1 L485.1,106.2 L485.6,106.3 L486.1,106.4 L486.6,106.5 L487.1,106.6 L487.6,106.8 L488.1,106.9 L488.6,107.0 L489.1,107.1 L489.6,107.2 L490.1,107.3 L490.6,107.4 L491.1,107.6 L491.6,107.7 L492.1,107.8 L492.6,107.9 L493.1,108.0 L493.6,108.1 L494.1,108.1 L494.6,108.2 L495.1,108.3 L495.6,108.4 L496.1,108.5 L496.6,108.5 L497.1,108.6 L497.6,108.7 L498.1,108.7 L498.6,108.8 L499.1,108.8 L499.6,108.9 L500.1,108.9 L500.6,109.0 L501.1,109.0 L501.6,109.1 L502.1,109.1 L502.6,109.1 L503.1,109.2 L503.6,109.2 L504.1,109.2 L504.6,109.3 L505.1,109.3 L505.6,109.3 L506.1,109.3 L506.6,109.3 L507.1,109.4 L507.6,109.4 L508.1,109.4 L508.6,109.4 L509.1,109.4 L509.6,109.4 L510.1,109.4 L510.6,109.4 L511.1,109.4 L511.6,109.5 L512.1,109.5 L512.6,109.5 L513.1,109.5 L513.6,109.5 L514.1,109.5 L514.6,109.5 L515.1,109.5 L515.6,109.5 L516.1,109.5 L516.6,109.5 L517.1,109.5 L517.6,109.5 L518.1,109.5 L518.6,109.5 L519.1,109.5 L519.6,109.5 L520.1,109.5 L520.6,109.5 L521.1,109.5 L521.6,109.5 L522.1,109.5 L522.6,109.5 L523.1,109.5 L523.6,109.5 L524.1,109.5 L524.6,109.5 L525.1,109.5 L525.6,109.5 L526.1,109.5 L526.6,109.5 L527.1,109.5 L527.6,109.5 L528.1,109.5 L528.6,109.5 L529.1,109.5 L529.6,109.5 L530.1,109.5 L530.6,109.5 L531.1,109.5 L531.6,109.5 L532.1,109.5 L532.6,109.5 L533.1,109.5 L533.6,109.5 L534.1,109.5 L534.6,109.5 L535.1,109.5 L535.6,109.5 L536.1,109.5 L536.6,109.5 L537.1,109.5 L537.6,109.5 L538.1,109.5 L538.6,109.5 L539.1,109.5 L539.6,109.5 L540.1,109.5 L540.6,109.5 L541.1,109.5 L541.6,109.5 L542.1,109.5 L542.6,109.5 L543.1,109.5 L543.6,109.5 L544.1,109.5 L544.6,109.5 L545.1,109.5 L545.6,109.5 L546.1,109.5 L546.6,109.5 L547.1,109.5 L547.6,109.5 L548.1,109.5 L548.6,109.5 L549.1,109.5 L549.6,109.5 L550.1,109.5 L550.6,109.5 L551.1,109.5 L551.6,109.5 L552.1,109.5 L552.6,109.5 L553.1,109.5 L553.6,109.5 L554.1,109.5 L554.6,109.5 L555.1,109.5 L555.6,109.5 L556.1,109.5 L556.6,109.5 L557.1,109.5 L557.6,109.5 L558.1,109.5 L558.6,109.5 L559.1,109.5 L559.6,109.4 L560.1,109.4 L560.6,109.3 L561.1,109.3 L561.6,109.2 L562.1,109.1 L562.6,109.0 L563.1,108.9 L563.6,108.8 L564.1,108.6 L564.6,108.5 L565.1,108.4 L565.6,108.3 L566.1,108.2 L566.6,108.0 L567.1,107.9 L567.6,107.8 L568.1,107.6 L568.6,107.5 L569.1,107.4 L569.6,107.2 L570.1,107.1 L570.6,107.0 L571.1,106.8 L571.6,106.7 L572.1,106.6 L572.6,106.4 L573.1,106.3 L573.6,106.1 L574.1,106.0 L574.6,105.9 L575.1,105.7 L575.6,105.6 L576.1,105.4 L576.6,105.3 L577.1,105.1 L577.6,105.0 L578.1,104.8 L578.6,104.7 L579.1,104.5 L579.6,104.4 L580.1,104.2 L580.6,104.1 L581.1,103.9 L581.6,103.8 L582.1,103.6 L582.6,103.5 L583.1,103.3 L583.6,103.2 L584.1,103.0 L584.6,102.9 L585.1,102.7 L585.6,102.6 L586.1,102.4 L586.6,102.2 L587.1,102.1 L587.6,101.9 L588.1,101.8 L588.6,101.6 L589.1,101.5 L589.6,101.3 L590.1,101.1 L590.6,101.0 L591.1,100.8 L591.6,100.7 L592.1,100.5 L592.6,100.3 L593.1,100.2 L593.6,100.0 L594.1,99.8 L594.6,99.7 L595.1,99.5 L595.6,99.4 L596.1,99.2 L596.6,99.0 L597.1,98.9 L597.6,98.7 L598.1,98.5 L598.6,98.4 L599.1,98.2 L599.6,98.0 L600.1,97.9 L600.6,97.7 L601.1,97.5 L601.6,97.4 L602.1,97.2 L602.6,97.0 L603.1,96.9 L603.6,96.7 L604.1,96.5 L604.6,96.3 L605.1,96.2 L605.6,96.0 L606.1,95.8 L606.6,95.7 L607.1,95.5 L607.6,95.3 L608.1,95.2 L608.6,95.0 L609.1,94.8 L609.6,94.6 L610.1,94.5 L610.6,94.3 L611.1,94.1 L611.6,93.9 L612.1,93.8 L612.6,93.6 L613.1,93.4 L613.6,93.3 L614.1,93.1 L614.6,92.9 L615.1,92.7 L615.6,92.6 L616.1,92.4 L616.6,92.2 L617.1,92.0 L617.6,91.9 L618.1,91.7 L618.6,91.5 L619.1,91.3 L619.6,91.1 L620.1,91.0 L620.6,90.8 L621.1,90.6 L621.6,90.4 L622.1,90.3 L622.6,90.1 L623.1,89.9 L623.6,89.7 L624.1,89.5 L624.6,89.4 L625.1,89.2 L625.6,89.0 L626.1,88.8 L626.6,88.6"/>
<path stroke="#0000ff" d="M627.0,88.9 L622.5,90.5 L617.9,92.1 L613.3,93.8 L608.7,95.4 L604.3,96.9 L600.0,98.2 L596.6,99.2 L593.4,100.1 L590.3,100.9 L587.1,101.8 L583.7,102.6 L580.0,103.6 L574.0,105.3 L567.2,107.1 L560.0,109.1 L552.8,111.0 L546.0,112.9 L540.0,114.5 L536.3,115.5 L532.8,116.4 L529.6,117.2 L526.4,118.0 L523.3,118.8 L520.0,119.7 L516.6,120.6 L513.1,121.5 L509.6,122.5 L506.2,123.4 L502.9,124.3 L500.0,125.2 L498.1,125.7 L496.4,126.2 L494.8,126.7 L493.2,127.2 L491.6,127.7 L490.0,128.2 L488.3,128.7 L486.7,129.2 L485.0,129.7 L483.3,130.2 L481.7,130.7 L480.0,131.2 L478.3,131.8 L476.7,132.5 L475.1,133.1 L473.4,133.8 L471.7,134.5 L470.0,135.2 L467.8,136.1 L465.5,137.0 L463.2,138.0 L460.8,139.0 L458.6,140.1 L456.6,141.2 L455.1,142.2 L453.6,143.2 L452.2,144.3 L450.9,145.4 L449.7,146.5 L448.5,147.7 L447.5,148.7 L446.5,149.8 L445.6,150.8 L444.8,151.9 L444.0,153.0 L443.2,154.1 L442.6,155.1 L441.9,156.1 L441.4,157.1 L440.8,158.1 L440.3,159.1 L439.7,160.1 L439.2,161.1 L438.7,162.1 L438.3,163.1 L437.8,164.1 L437.4,165.1 L436.9,166.1 L436.5,166.9 L436.1,167.8 L435.8,168.6 L435.4,169.5 L435.0,170.3 L434.7,171.1 L434.4,171.7 L434.1,172.4 L433.8,173.0 L433.5,173.7 L433.2,174.3 L432.9,175.0 L432.4,176.0 L431.9,177.0 L431.3,178.1 L430.7,179.1 L430.1,180.1 L429.5,181.0 L429.1,181.6 L428.7,182.2 L428.3,182.7 L427.9,183.2 L427.4,183.7 L427.0,184.0 L426.6,184.3 L426.2,184.5 L425.8,184.7 L425.4,184.9 L424.9,185.0 L424.5,185.0 L424.1,185.0 L423.7,184.9 L423.3,184.8 L422.8,184.6 L422.4,184.4 L421.9,184.2 L420.9,183.8 L419.9,183.3 L418.7,182.7 L417.5,182.0 L416.3,181.3 L415.1,180.5 L413.6,179.4 L412.2,178.1 L410.7,176.7 L409.3,175.3 L407.7,173.9 L406.2,172.5 L404.5,171.1 L402.9,169.6 L401.2,168.1 L399.4,166.7 L397.6,165.4 L395.7,164.3 L393.7,163.2 L391.5,162.2 L389.3,161.4 L387.0,160.6 L384.8,160.0 L382.7,159.5 L380.8,159.1 L379.0,158.8 L377.2,158.6 L375.5,158.5 L373.8,158.4 L372.2,158.4 L371.1,158.4 L370.0,158.4 L369.0,158.5 L368.0,158.6 L367.1,158.7 L366.0,158.9 L364.9,159.2 L363.6,159.5 L362.4,159.9 L361.2,160.3 L360.1,160.8 L358.9,161.3 L357.9,161.9 L356.9,162.5 L355.9,163.2 L354.9,163.9 L354.0,164.7 L353.1,165.5 L352.3,166.4 L351.4,167.4 L350.6,168.5 L349.9,169.5 L349.2,170.6 L348.6,171.7 L348.1,172.6 L347.6,173.4 L347.2,174.3 L346.8,175.2 L346.5,176.3 L346.0,177.5 L345.2,180.1 L344.4,183.3 L343.6,186.9 L342.7,190.5 L341.9,194.1 L341.0,197.5 L340.3,200.2 L339.5,202.8 L338.7,205.3 L338.0,207.9 L337.2,210.4 L336.5,213.0 L335.8,215.6 L335.1,218.1 L334.5,220.7 L333.8,223.3 L333.3,225.9 L332.8,228.5 L332.5,231.1 L332.2,233.8 L332.1,236.5 L331.9,239.2 L331.8,241.7 L331.5,244.0 L331.3,245.6 L331.0,247.1 L330.8,248.5 L330.5,249.9 L330.2,251.2 L329.9,252.5 L329.7,253.6 L329.4,254.6 L329.2,255.7 L328.9,256.7 L328.7,257.6 L328.4,258.5 L328.2,259.2 L328.0,259.8 L327.9,260.4 L327.7,260.9 L327.4,261.5 L327.2,262.0 L326.9,262.5 L326.6,263.1 L326.3,263.6 L325.9,264.0 L325.6,264.4 L325.2,264.5 L324.7,264.4 L324.2,264.1 L323.7,263.7 L323.2,263.1 L322.7,262.5 L322.3,262.0 L322.0,261.5 L321.7,260.9 L321.4,260.4 L321.2,259.8 L321.0,259.2 L320.7,258.5 L320.4,257.6 L320.1,256.7 L319.8,255.7 L319.4,254.6 L319.1,253.6 L318.8,252.5 L318.5,251.2 L318.2,250.0 L317.9,248.7 L317.6,247.3 L317.3,245.7 L316.9,244.0 L316.2,240.3 L315.3,236.0 L314.4,231.2 L313.5,226.1 L312.6,221.1 L311.7,216.3 L310.8,211.4 L309.8,206.2 L308.8,201.0 L307.9,196.1 L307.1,191.9 L306.5,188.6 L306.2,187.7 L306.1,186.9 L305.9,186.2 L305.7,185.5 L305.6,184.9 L305.3,184.1 L305.0,183.3 L304.7,182.5 L304.4,181.6 L304.0,180.8 L303.6,179.9 L303.2,179.2 L302.8,178.5 L302.3,177.8 L301.8,177.1 L301.3,176.5 L300.8,175.9 L300.3,175.3 L299.7,174.8 L299.1,174.3 L298.5,173.8 L297.9,173.4 L297.2,173.0 L296.6,172.6 L296.1,172.3 L295.5,172.1 L295.0,171.9 L294.4,171.7 L293.9,171.5 L293.4,171.3 L293.0,171.2 L292.6,171.1 L292.3,171.0 L291.9,171.0 L291.5,170.9 L291.0,170.8 L289.5,170.6 L287.6,170.3 L285.5,169.9 L283.2,169.7 L281.0,169.4 L279.0,169.3 L277.5,169.4 L276.0,169.5 L274.6,169.7 L273.2,169.8 L271.7,170.0 L270.0,170.1 L267.1,170.0 L263.9,169.9 L260.5,169.7 L257.0,169.4 L253.4,169.1 L250.0,168.9 L246.7,168.7 L243.4,168.4 L240.1,168.1 L236.7,167.9 L233.4,167.6 L230.0,167.5 L226.4,167.4 L222.7,167.4 L219.1,167.5 L215.4,167.6 L211.7,167.7 L208.0,167.7 L204.3,167.8 L200.6,167.8 L197.0,167.9 L193.3,167.9 L189.6,168.0 L186.0,168.0 L182.4,168.1 L178.8,168.2 L175.2,168.2 L171.6,168.3 L168.2,168.3 L165.0,168.4 L162.6,168.4 L160.3,168.5 L158.2,168.5 L156.0,168.6 L154.0,168.6 L152.0,168.6 L150.4,168.7 L148.9,168.7 L147.4,168.7 L145.9,168.7 L143.9,168.9 L142.9,168.2 L142.9,167.2 L143.6,168.1 L144.1,167.6 L144.6,167.2 L145.1,166.8 L145.6,166.5 L146.1,166.2 L146.6,165.9 L147.1,165.7 L147.6,165.5 L148.1,165.3 L148.6,165.1 L149.1,165.0 L149.6,164.8 L150.1,164.7 L150.6,164.5 L151.1,164.4 L151.6,164.3 L152.1,164.2 L152.6,164.1 L153.1,164.0 L153.6,163.9 L154.1,163.8 L154.6,163.7 L155.1,163.6 L155.6,163.5 L156.1,163.4 L156.6,163.3 L157.1,163.2 L157.6,163.1 L158.1,163.0 L158.6,162.9 L159.1,162.8 L159.6,162.7 L160.1,162.7 L160.6,162.6 L161.1,162.5 L161.6,162.4 L162.1,162.3 L162.6,162.3 L163.1,162.2 L163.6,162.1 L164.1,162.0 L164.6,161.9 L165.1,161.9 L165.6,161.8 L166.1,161.7 L166.6,161.6 L167.1,161.6 L167.6,161.5 L168.1,161.4 L168.6,161.3 L169.1,161.3 L169.6,161.2 L170.1,161.1 L170.6,161.1 L171.1,161.0 L171.6,160.9 L172.1,160.9 L172.6,160.8 L173.1,160.7 L173.6,160.6 L174.1,160.6 L174.6,160.5 L175.1,160.4 L175.6,160.4 L176.1,160.3 L176.6,160.3 L177.1,160.2 L177.6,160.1 L178.1,160.1 L178.6,160.0 L179.1,159.9 L179.6,159.9 L180.1,159.8 L180.6,159.8 L181.1,159.7 L181.6,159.6 L182.1,159.6 L182.6,159.5 L183.1,159.5 L183.6,159.4 L184.1,159.3 L184.6,159.3 L185.1,159.2 L185.6,159.2 L186.1,159.1 L186.6,159.1 L187.1,159.0 L187.6,158.9 L188.1,158.9 L188.6,158.8 L189.1,158.8 L189.6,158.7 L190.1,158.7 L190.6,158.6 L191.1,158.6 L191.6,158.5 L192.1,158.5 L192.6,158.4 L193.1,158.4 L193.6,158.3 L194.1,158.3 L194.6,158.2 L195.1,158.2 L195.6,158.1 L196.1,158.1 L196.6,158.0 L197.1,158.0 L197.6,157.9 L198.1,157.9 L198.6,157.8 L199.1,157.8 L199.6,157.7 L200.1,157.7 L200.6,157.6 L201.1,157.6 L201.6,157.5 L202.1,157.5 L202.6,157.4 L203.1,157.4 L203.6,157.3 L204.1,157.3 L204.6,157.2 L205.1,157.2 L205.6,157.2 L206.1,157.1 L206.6,157.1 L207.1,157.0 L207.6,157.0 L208.1,156.9 L208.6,156.9 L209.1,156.9 L209.6,156.8 L210.1,156.8 L210.6,156.7 L211.1,156.7 L211.6,156.6 L212.1,156.6 L212.6,156.6 L213.1,156.5 L213.6,156.5 L214.1,156.4 L214.6,156.4 L215.1,156.4 L215.6,156.3 L216.1,156.3 L216.6,156.2 L217.1,156.2 L217.6,156.2 L218.1,156.1 L218.6,156.1 L219.1,156.0 L219.6,156.0 L220.1,156.0 L220.6,155.9 L221.1,155.9 L221.6,155.8 L222.1,155.8 L222.6,155.8 L223.1,155.7 L223.6,155.7 L224.1,155.7 L224.6,155.6 L225.1,155.6 L225.6,155.6 L226.1,155.5 L226.6,155.5 L227.1,155.4 L227.6,155.4 L228.1,155.4 L228.6,155.3 L229.1,155.3 L229.6,155.3 L230.1,155.2 L230.6,155.2 L231.1,155.2 L231.6,155.1 L232.1,155.1 L232.6,155.1 L233.1,155.0 L233.6,155.0 L234.1,155.0 L234.6,154.9 L235.1,154.9 L235.6,154.8 L236.1,154.8 L236.6,154.8 L237.1,154.7 L237.6,154.7 L238.1,154.7 L238.6,154.7 L239.1,154.6 L239.6,154.6 L240.1,154.6 L240.6,154.5 L241.1,154.5 L241.6,154.5 L242.1,154.4 L242.6,154.4 L243.1,154.4 L243.6,154.3 L244.1,154.3 L244.6,154.3 L245.1,154.3 L245.6,154.2 L246.1,154.2 L246.6,154.2 L247.1,154.1 L247.6,154.1 L248.1,154.1 L248.6,154.0 L249.1,154.0 L249.6,153.9 L250.1,153.9 L250.6,153.9 L251.1,153.8 L251.6,153.8 L252.1,153.8 L252.6,153.7 L253.1,153.7 L253.6,153.6 L254.1,153.6 L254.6,153.5 L255.1,153.5 L255.6,153.4 L256.1,153.4 L256.6,153.3 L257.1,153.3 L257.6,153.2 L258.1,153.2 L258.6,153.1 L259.1,153.1 L259.6,153.0 L260.1,153.0 L260.6,152.9 L261.1,152.9 L261.6,152.8 L262.1,152.8 L262.6,152.7 L263.1,152.7 L263.6,152.6 L264.1,152.6 L264.6,152.5 L265.1,152.5 L265.6,152.4 L266.1,152.4 L266.6,152.3 L267.1,152.2 L267.6,152.2 L268.1,152.1 L268.6,152.1 L269.1,152.0 L269.6,151.9 L270.1,151.8 L270.6,151.8 L271.1,151.7 L271.6,151.6 L272.1,151.5 L272.6,151.4 L273.1,151.3 L273.6,151.2 L274.1,151.1 L274.6,151.0 L275.1,150.9 L275.6,150.8 L276.1,150.7 L276.6,150.6 L277.1,150.5 L277.6,150.4 L278.1,150.2 L278.6,150.1 L279.1,150.0 L279.6,149.9 L280.1,149.8 L280.6,149.7 L281.1,149.5 L281.6,149.4 L282.1,149.3 L282.6,149.1 L283.1,149.0 L283.6,148.9 L284.1,148.7 L284.6,148.6 L285.1,148.4 L285.6,148.3 L286.1,148.2 L286.6,148.0 L287.1,147.9 L287.6,147.8 L288.1,147.6 L288.6,147.5 L289.1,147.4 L289.6,147.3 L290.1,147.2 L290.6,147.1 L291.1,147.0 L291.6,146.9 L292.1,146.8 L292.6,146.7 L293.1,146.6 L293.6,146.5 L294.1,146.4 L294.6,146.3 L295.1,146.2 L295.6,146.2 L296.1,146.1 L296.6,146.0 L297.1,145.9 L297.6,145.8 L298.1,145.8 L298.6,145.7 L299.1,145.6 L299.6,145.5 L300.1,145.5 L300.6,145.4 L301.1,145.3 L301.6,145.2 L302.1,145.2 L302.6,145.1 L303.1,145.0 L303.6,145.0 L304.1,144.9 L304.6,144.9 L305.1,144.8 L305.6,144.7 L306.1,144.7 L306.6,144.6 L307.1,144.5 L307.6,144.5 L308.1,144.4 L308.6,144.4 L309.1,144.3 L309.6,144.3 L310.1,144.2 L310.6,144.1 L311.1,144.1 L311.6,144.0 L312.1,144.0 L312.6,143.9 L313.1,143.9 L313.6,143.8 L314.1,143.8 L314.6,143.7 L315.1,143.7 L315.6,143.6 L316.1,143.5 L316.6,143.5 L317.1,143.5 L317.6,143.4 L318.1,143.4 L318.6,143.3 L319.1,143.3 L319.6,143.2 L320.1,143.2 L320.6,143.1 L321.1,143.1 L321.6,143.1 L322.1,143.0 L322.6,143.0 L323.1,143.0 L323.6,142.9 L324.1,142.9 L324.6,142.8 L325.1,142.8 L325.6,142.8 L326.1,142.7 L326.6,142.7 L327.1,142.7 L327.6,142.6 L328.1,142.6 L328.6,142.6 L329.1,142.6 L329.6,142.5 L330.1,142.5 L330.6,142.5 L331.1,142.4 L331.6,142.4 L332.1,142.4 L332.6,142.4 L333.1,142.3 L333.6,142.3 L334.1,142.3 L334.6,142.3 L335.1,142.3 L335.6,142.2 L336.1,142.2 L336.6,142.2 L337.1,142.2 L337.6,142.2 L338.1,142.1 L338.6,142.1 L339.1,142.1 L339.6,142.1 L340.1,142.1 L340.6,142.0 L341.1,142.0 L341.6,142.0 L342.1,142.0 L342.6,142.0 L343.1,141.9 L343.6,141.9 L344.1,141.9 L344.6,141.9 L345.1,141.8 L345.6,141.8 L346.1,141.8 L346.6,141.7 L347.1,141.7 L347.6,141.7 L348.1,141.6 L348.6,141.6 L349.1,141.6 L349.6,141.5 L350.1,141.5 L350.6,141.4 L351.1,141.4 L351.6,141.3 L352.1,141.2 L352.6,141.2 L353.1,141.1 L353.6,140.9 L354.1,140.8 L354.6,140.7 L355.1,140.5 L355.6,140.3 L356.1,140.1 L356.6,139.9 L357.1,139.6 L357.6,139.4 L358.1,139.0 L358.6,138.7 L359.1,138.3 L359.6,137.9 L360.1,137.4 L360.6,136.9 L361.1,136.4 L361.6,135.8 L362.1,135.3 L362.6,134.8 L363.1,134.2 L363.6,133.7 L364.1,133.2 L364.6,132.7 L365.1,132.2 L365.6,131.7 L366.1,131.3 L366.6,130.8 L367.1,130.4 L367.6,130.1 L368.1,129.7 L368.6,129.3 L369.1,129.0 L369.6,128.7 L370.1,128.4 L370.6,128.2 L371.1,127.9 L371.6,127.7 L372.1,127.5 L372.6,127.3 L373.1,127.1 L373.6,126.9 L374.1,126.7 L374.6,126.6 L375.1,126.4 L375.6,126.3 L376.1,126.1 L376.6,126.0 L377.1,125.9 L377.6,125.7 L378.1,125.6 L378.6,125.5 L379.1,125.4 L379.6,125.3 L380.1,125.2 L380.6,125.2 L381.1,125.1 L381.6,125.1 L382.1,125.0 L382.6,125.0 L383.1,125.0 L383.6,124.9 L384.1,124.9 L384.6,124.9 L385.1,124.9 L385.6,124.9 L386.1,124.8 L386.6,124.8 L387.1,124.8 L387.6,124.8 L388.1,124.8 L388.6,124.8 L389.1,124.7 L389.6,124.7 L390.1,124.7 L390.6,124.7 L391.1,124.7 L391.6,124.7 L392.1,124.7 L392.6,124.6 L393.1,124.6 L393.6,124.6 L394.1,124.6 L394.6,124.6 L395.1,124.5 L395.6,124.5 L396.1,124.5 L396.6,124.5 L397.1,124.4 L397.6,124.4 L398.1,124.4 L398.6,124.3 L399.1,124.3 L399.6,124.2 L400.1,124.2 L400.6,124.2 L401.1,124.1 L401.6,124.1 L402.1,124.1 L402.6,124.0 L403.1,124.0 L403.6,123.9 L404.1,123.9 L404.6,123.9 L405.1,123.8 L405.6,123.8 L406.1,123.8 L406.6,123.7 L407.1,123.7 L407.6,123.7 L408.1,123.7 L408.6,123.7 L409.1,123.6 L409.6,123.6 L410.1,123.6 L410.6,123.6 L411.1,123.6 L411.6,123.6 L412.1,123.6 L412.6,123.6 L413.1,123.6 L413.6,123.7 L414.1,123.7 L414.6,123.7 L415.1,123.7 L415.6,123.7 L416.1,123.8 L416.6,123.8 L417.1,123.8 L417.6,123.8 L418.1,123.9 L418.6,123.9 L419.1,123.9 L419.6,124.0 L420.1,124.0 L420.6,124.1 L421.1,124.1 L421.6,124.1 L422.1,124.2 L422.6,124.2 L423.1,124.3 L423.6,124.3 L424.1,124.3 L424.6,124.4 L425.1,124.4 L425.6,124.5 L426.1,124.5 L426.6,124.5 L427.1,124.6 L427.6,124.6 L428.1,124.6 L428.6,124.7 L429.1,124.7 L429.6,124.7 L430.1,124.8 L430.6,124.8 L431.1,124.8 L431.6,124.8 L432.1,124.8 L432.6,124.9 L433.1,124.9 L433.6,124.9 L434.1,124.9 L434.6,124.9 L435.1,124.9 L435.6,124.9 L436.1,124.9 L436.6,124.9 L437.1,124.9 L437.6,124.9 L438.1,124.9 L438.6,124.8 L439.1,124.8 L439.6,124.8 L440.1,124.8 L440.6,124.8 L441.1,124.8 L441.6,124.7 L442.1,124.7 L442.6,124.7 L443.1,124.7 L443.6,124.6 L444.1,124.6 L444.6,124.6 L445.1,124.5 L445.6,124.5 L446.1,124.5 L446.6,124.4 L447.1,124.4 L447.6,124.3 L448.1,124.3 L448.6,124.3 L449.1,124.2 L449.6,124.2 L450.1,124.1 L450.6,124.1 L451.1,124.0 L451.6,124.0 L452.1,123.9 L452.6,123.8 L453.1,123.8 L453.6,123.7 L454.1,123.6 L454.6,123.5 L455.1,123.4 L455.6,123.3 L456.1,123.1 L456.6,122.8 L457.1,122.4 L457.6,122.0 L458.1,121.4 L458.6,120.6 L459.1,119.8 L459.6,119.0 L460.1,118.0 L460.6,117.1 L461.1,116.1 L461.6,115.1 L462.1,114.2 L462.6,113.2 L463.1,112.2 L463.6,111.2 L464.1,110.2 L464.6,109.3 L465.1,108.3 L465.6,107.4 L466.1,106.4 L466.6,105.5 L467.1,104.6 L467.6,103.8 L468.1,103.0 L468.6,102.2 L469.1,101.5 L469.6,100.9 L470.1,100.3 L470.6,99.8 L471.1,99.3 L471.6,98.9 L472.1,98.5 L472.6,98.2 L473.1,97.9 L473.6,97.7 L474.1,97.4 L474.6,97.2 L475.1,97.1 L475.6,96.9 L476.1,96.8 L476.6,96.7 L477.1,96.6 L477.6,96.5 L478.1,96.5 L478.6,96.5 L479.1,96.5 L479.6,96.5 L480.1,96.5 L480.6,96.6 L481.1,96.6 L481.6,96.7 L482.1,96.8 L482.6,96.9 L483.1,97.0 L483.6,97.1 L484.1,97.2 L484.6,97.4 L485.1,97.5 L485.6,97.7 L486.1,97.9 L486.6,98.1 L487.1,98.2 L487.6,98.4 L488.1,98.6 L488.6,98.8 L489.1,99.0 L489.6,99.3 L490.1,99.5 L490.6,99.7 L491.1,99.9 L491.6,100.1 L492.1,100.3 L492.6,100.6 L493.1,100.8 L493.6,101.0 L494.1,101.2 L494.6,101.4 L495.1,101.6 L495.6,101.8 L496.1,102.0 L496.6,102.2 L497.1,102.4 L497.6,102.6 L498.1,102.8 L498.6,103.0 L499.1,103.1 L499.6,103.3 L500.1,103.5 L500.6,103.6 L501.1,103.8 L501.6,103.9 L502.1,104.0 L502.6,104.2 L503.1,104.3 L503.6,104.4 L504.1,104.5 L504.6,104.6 L505.1,104.7 L505.6,104.8 L506.1,104.9 L506.6,105.0 L507.1,105.1 L507.6,105.1 L508.1,105.2 L508.6,105.3 L509.1,105.3 L509.6,105.4 L510.1,105.4 L510.6,105.5 L511.1,105.5 L511.6,105.6 L512.1,105.6 L512.6,105.7 L513.1,105.7 L513.6,105.7 L514.1,105.7 L514.6,105.8 L515.1,105.8 L515.6,105.8 L516.1,105.8 L516.6,105.8 L517.1,105.9 L517.6,105.9 L518.1,105.9 L518.6,105.9 L519.1,105.9 L519.6,105.9 L520.1,105.9 L520.6,105.9 L521.1,105.9 L521.6,106.0 L522.1,106.0 L522.6,106.0 L523.1,106.0 L523.6,106.0 L524.1,106.0 L524.6,106.0 L525.1,106.0 L525.6,106.0 L526.1,106.0 L526.6,106.0 L527.1,106.0 L527.6,106.0 L528.1,106.0 L528.6,106.0 L529.1,106.0 L529.6,106.0 L530.1,106.0 L530.6,106.0 L531.1,106.0 L531.6,106.0 L532.1,106.0 L532.6,106.0 L533.1,106.0 L533.6,106.0 L534.1,106.0 L534.6,106.0 L535.1,106.0 L535.6,106.0 L536.1,106.0 L536.6,106.0 L537.1,106.0 L537.6,106.0 L538.1,106.0 L538.6,106.0 L539.1,106.0 L539.6,106.0 L540.1,106.0 L540.6,106.0 L541.1,106.0 L541.6,106.0 L542.1,106.0 L542.6,106.0 L543.1,106.0 L543.6,106.0 L544.1,106.0 L544.6,106.0 L545.1,106.0 L545.6,106.0 L546.1,106.0 L546.6,106.0 L547.1,106.0 L547.6,106.0 L548.1,106.0 L548.6,106.0 L549.1,106.0 L549.6,106.0 L550.1,106.0 L550.6,106.0 L551.1,106.0 L551.6,106.0 L552.1,106.0 L552.6,106.0 L553.1,106.0 L553.6,106.0 L554.1,106.0 L554.6,106.0 L555.1,106.0 L555.6,106.0 L556.1,106.0 L556.6,106.0 L557.1,106.0 L557.6,106.0 L558.1,106.0 L558.6,106.0 L559.1,106.0 L559.6,106.0 L560.1,105.9 L560.6,105.9 L561.1,105.8 L561.6,105.8 L562.1,105.7 L562.6,105.6 L563.1,105.5 L563.6,105.4 L564.1,105.3 L564.6,105.2 L565.1,105.1 L565.6,105.0 L566.1,104.9 L566.6,104.8 L567.1,104.7 L567.6,104.6 L568.1,104.5 L568.6,104.4 L569.1,104.3 L569.6,104.1 L570.1,104.0 L570.6,103.9 L571.1,103.8 L571.6,103.7 L572.1,103.5 L572.6,103.4 L573.1,103.3 L573.6,103.2 L574.1,103.0 L574.6,102.9 L575.1,102.8 L575.6,102.7 L576.1,102.5 L576.6,102.4 L577.1,102.3 L577.6,102.1 L578.1,102.0 L578.6,101.9 L579.1,101.7 L579.6,101.6 L580.1,101.5 L580.6,101.3 L581.1,101.2 L581.6,101.0 L582.1,100.9 L582.6,100.8 L583.1,100.6 L583.6,100.5 L584.1,100.3 L584.6,100.2 L585.1,100.1 L585.6,99.9 L586.1,99.8 L586.6,99.6 L587.1,99.5 L587.6,99.3 L588.1,99.2 L588.6,99.0 L589.1,98.9 L589.6,98.7 L590.1,98.6 L590.6,98.5 L591.1,98.3 L591.6,98.2 L592.1,98.0 L592.6,97.8 L593.1,97.7 L593.6,97.5 L594.1,97.4 L594.6,97.2 L595.1,97.1 L595.6,96.9 L596.1,96.8 L596.6,96.6 L597.1,96.5 L597.6,96.3 L598.1,96.2 L598.6,96.0 L599.1,95.8 L599.6,95.7 L600.1,95.5 L600.6,95.4 L601.1,95.2 L601.6,95.1 L602.1,94.9 L602.6,94.7 L603.1,94.6 L603.6,94.4 L604.1,94.2 L604.6,94.1 L605.1,93.9 L605.6,93.8 L606.1,93.6 L606.6,93.4 L607.1,93.3 L607.6,93.1 L608.1,92.9 L608.6,92.8 L609.1,92.6 L609.6,92.5 L610.1,92.3 L610.6,92.1 L611.1,92.0 L611.6,91.8 L612.1,91.6 L612.6,91.5 L613.1,91.3 L613.6,91.1 L614.1,90.9 L614.6,90.8 L615.1,90.6 L615.6,90.4 L616.1,90.3 L616.6,90.1 L617.1,89.9 L617.6,89.8 L618.1,89.6 L618.6,89.4 L619.1,89.2 L619.6,89.1 L620.1,88.9 L620.6,88.7 L621.1,88.6 L621.6,88.4 L622.1,88.2 L622.6,88.0 L623.1,87.9 L623.6,87.7 L624.1,87.5 L624.6,87.3 L625.1,87.2 L625.6,87.0 L626.1,86.8 L626.6,86.6"/>
<path stroke="#008080" d="M627.0,88.3 L622.5,89.9 L617.9,91.6 L613.3,93.3 L608.7,95.0 L604.3,96.5 L600.0,97.9 L596.6,99.0 L593.4,100.0 L590.3,100.9 L587.1,101.8 L583.7,102.7 L580.0,103.7 L574.0,105.4 L567.2,107.3 L560.0,109.3 L552.8,111.2 L546.0,113.1 L540.0,114.7 L536.3,115.7 L532.8,116.5 L529.6,117.4 L526.4,118.2 L523.3,119.0 L520.0,119.9 L516.6,120.8 L513.1,121.7 L509.6,122.7 L506.2,123.6 L502.9,124.5 L500.0,125.3 L498.1,125.9 L496.4,126.4 L494.8,126.9 L493.2,127.4 L491.6,127.9 L490.0,128.4 L488.3,128.9 L486.7,129.4 L485.0,129.9 L483.3,130.4 L481.7,130.9 L480.0,131.5 L478.3,132.1 L476.7,132.7 L475.1,133.3 L473.5,134.0 L471.8,134.7 L470.0,135.4 L467.7,136.4 L465.2,137.4 L462.6,138.5 L460.1,139.6 L457.7,140.8 L455.6,142.0 L454.0,143.1 L452.5,144.3 L451.1,145.5 L449.8,146.7 L448.5,147.9 L447.3,149.2 L446.3,150.3 L445.3,151.5 L444.5,152.7 L443.6,153.9 L442.8,155.1 L442.0,156.4 L441.4,157.4 L440.8,158.5 L440.2,159.6 L439.7,160.7 L439.1,161.9 L438.6,163.0 L438.1,164.1 L437.5,165.2 L437.0,166.3 L436.5,167.4 L436.1,168.5 L435.6,169.6 L435.1,170.5 L434.7,171.5 L434.3,172.4 L433.9,173.3 L433.5,174.2 L433.1,175.1 L432.8,175.8 L432.5,176.5 L432.2,177.3 L432.0,178.0 L431.6,178.7 L431.3,179.5 L430.7,180.6 L430.1,181.8 L429.4,183.1 L428.7,184.4 L428.0,185.5 L427.3,186.5 L426.7,187.1 L426.2,187.7 L425.7,188.3 L425.2,188.7 L424.6,189.2 L424.1,189.5 L423.6,189.8 L423.0,190.1 L422.5,190.2 L421.9,190.4 L421.4,190.5 L420.9,190.5 L420.5,190.5 L420.1,190.4 L419.7,190.2 L419.3,190.1 L418.8,189.9 L418.4,189.6 L417.4,189.2 L416.4,188.6 L415.2,188.0 L414.1,187.2 L412.9,186.4 L411.7,185.6 L410.3,184.4 L408.9,183.0 L407.5,181.5 L406.1,179.9 L404.6,178.4 L403.1,176.9 L401.5,175.3 L399.9,173.7 L398.2,172.1 L396.5,170.6 L394.8,169.2 L392.9,167.9 L390.9,166.7 L388.8,165.7 L386.6,164.8 L384.4,163.9 L382.3,163.2 L380.2,162.7 L378.4,162.3 L376.6,162.0 L374.8,161.8 L373.1,161.6 L371.5,161.5 L370.0,161.5 L369.0,161.5 L368.1,161.5 L367.3,161.6 L366.4,161.7 L365.6,161.8 L364.7,162.0 L363.7,162.2 L362.7,162.5 L361.6,162.9 L360.6,163.3 L359.6,163.7 L358.6,164.2 L357.7,164.8 L356.8,165.3 L355.9,166.0 L355.1,166.7 L354.3,167.4 L353.5,168.2 L352.8,169.1 L352.1,170.0 L351.4,170.9 L350.7,171.9 L350.1,172.9 L349.5,173.9 L349.1,174.8 L348.7,175.6 L348.3,176.4 L348.0,177.3 L347.6,178.3 L347.2,179.4 L346.4,182.1 L345.6,185.3 L344.8,188.9 L343.9,192.6 L343.0,196.3 L342.1,199.7 L341.3,202.5 L340.4,205.2 L339.6,207.9 L338.7,210.5 L337.9,213.1 L337.1,215.8 L336.4,218.5 L335.6,221.2 L335.0,223.8 L334.3,226.5 L333.7,229.2 L333.1,231.9 L332.6,234.6 L332.2,237.3 L331.8,239.9 L331.4,242.6 L331.1,245.3 L330.8,248.0 L330.5,250.7 L330.3,253.6 L330.1,256.4 L329.9,259.1 L329.7,261.7 L329.4,264.1 L329.2,265.7 L328.9,267.2 L328.6,268.6 L328.3,270.0 L328.0,271.3 L327.7,272.6 L327.5,273.7 L327.2,274.7 L327.0,275.8 L326.7,276.8 L326.4,277.7 L326.2,278.6 L326.0,279.3 L325.8,279.9 L325.6,280.5 L325.4,281.0 L325.2,281.6 L324.9,282.1 L324.6,282.6 L324.3,283.2 L323.9,283.7 L323.6,284.1 L323.2,284.5 L322.8,284.6 L322.3,284.5 L321.8,284.2 L321.2,283.8 L320.6,283.2 L320.1,282.6 L319.7,282.1 L319.3,281.6 L319.0,281.0 L318.7,280.5 L318.4,279.9 L318.2,279.3 L317.9,278.6 L317.6,277.7 L317.2,276.8 L316.9,275.8 L316.6,274.7 L316.2,273.7 L315.9,272.6 L315.5,271.3 L315.2,270.0 L314.8,268.7 L314.5,267.3 L314.1,265.8 L313.8,264.1 L313.2,260.9 L312.6,257.1 L312.0,253.1 L311.5,248.9 L310.9,244.6 L310.3,240.6 L309.7,236.7 L309.1,232.8 L308.5,228.8 L308.0,224.9 L307.4,221.0 L306.8,217.1 L306.2,213.0 L305.5,208.6 L304.9,204.2 L304.3,200.1 L303.8,196.5 L303.3,193.6 L303.1,192.6 L302.9,191.7 L302.8,191.0 L302.7,190.3 L302.5,189.6 L302.3,188.8 L302.0,188.0 L301.7,187.1 L301.4,186.2 L301.0,185.3 L300.6,184.4 L300.2,183.6 L299.8,182.9 L299.4,182.2 L298.9,181.5 L298.4,180.8 L297.9,180.2 L297.4,179.6 L296.8,179.1 L296.2,178.6 L295.6,178.1 L294.9,177.7 L294.3,177.3 L293.6,176.9 L293.1,176.6 L292.5,176.4 L292.0,176.2 L291.4,176.0 L290.9,175.8 L290.3,175.7 L289.9,175.6 L289.5,175.5 L289.2,175.5 L288.8,175.4 L288.4,175.4 L287.8,175.3 L286.3,175.1 L284.4,174.9 L282.1,174.7 L279.9,174.5 L277.7,174.3 L275.8,174.1 L274.8,174.0 L273.9,173.9 L273.0,173.8 L272.1,173.7 L271.2,173.6 L270.0,173.5 L267.4,173.2 L264.2,172.9 L260.7,172.6 L257.1,172.2 L253.5,171.8 L250.0,171.5 L246.7,171.1 L243.4,170.8 L240.1,170.4 L236.7,170.0 L233.4,169.7 L230.0,169.5 L226.4,169.4 L222.7,169.4 L219.1,169.5 L215.4,169.6 L211.7,169.7 L208.0,169.8 L204.3,169.8 L200.6,169.9 L197.0,169.9 L193.3,170.0 L189.6,170.1 L186.0,170.1 L182.4,170.2 L178.8,170.3 L175.2,170.3 L171.6,170.4 L168.2,170.5 L165.0,170.5 L162.6,170.6 L160.3,170.6 L158.2,170.7 L156.0,170.7 L154.0,170.8 L152.0,170.8 L150.4,170.8 L148.9,170.9 L147.4,170.9 L145.9,170.9 L143.9,171.1 L142.9,170.4 L142.9,169.4 L143.6,170.2 L144.1,169.6 L144.6,169.1 L145.1,168.6 L145.6,168.2 L146.1,167.9 L146.6,167.6 L147.1,167.3 L147.6,167.0 L148.1,166.8 L148.6,166.6 L149.1,166.4 L149.6,166.3 L150.1,166.1 L150.6,165.9 L151.1,165.8 L151.6,165.7 L152.1,165.5 L152.6,165.4 L153.1,165.3 L153.6,165.1 L154.1,165.0 L154.6,164.9 L155.1,164.8 L155.6,164.7 L156.1,164.6 L156.6,164.5 L157.1,164.4 L157.6,164.3 L158.1,164.2 L158.6,164.1 L159.1,164.0 L159.6,163.9 L160.1,163.8 L160.6,163.7 L161.1,163.6 L161.6,163.5 L162.1,163.4 L162.6,163.3 L163.1,163.2 L163.6,163.1 L164.1,163.0 L164.6,162.9 L165.1,162.9 L165.6,162.8 L166.1,162.7 L166.6,162.6 L167.1,162.5 L167.6,162.4 L168.1,162.3 L168.6,162.3 L169.1,162.2 L169.6,162.1 L170.1,162.0 L170.6,161.9 L171.1,161.9 L171.6,161.8 L172.1,161.7 L172.6,161.6 L173.1,161.5 L173.6,161.5 L174.1,161.4 L174.6,161.3 L175.1,161.2 L175.6,161.2 L176.1,161.1 L176.6,161.0 L177.1,160.9 L177.6,160.9 L178.1,160.8 L178.6,160.7 L179.1,160.7 L179.6,160.6 L180.1,160.5 L180.6,160.5 L181.1,160.4 L181.6,160.3 L182.1,160.2 L182.6,160.2 L183.1,160.1 L183.6,160.1 L184.1,160.0 L184.6,159.9 L185.1,159.9 L185.6,159.8 L186.1,159.7 L186.6,159.7 L187.1,159.6 L187.6,159.5 L188.1,159.5 L188.6,159.4 L189.1,159.4 L189.6,159.3 L190.1,159.2 L190.6,159.2 L191.1,159.1 L191.6,159.1 L192.1,159.0 L192.6,158.9 L193.1,158.9 L193.6,158.8 L194.1,158.8 L194.6,158.7 L195.1,158.7 L195.6,158.6 L196.1,158.5 L196.6,158.5 L197.1,158.4 L197.6,158.4 L198.1,158.3 L198.6,158.3 L199.1,158.2 L199.6,158.2 L200.1,158.1 L200.6,158.1 L201.1,158.0 L201.6,158.0 L202.1,157.9 L202.6,157.9 L203.1,157.8 L203.6,157.8 L204.1,157.7 L204.6,157.7 L205.1,157.6 L205.6,157.6 L206.1,157.5 L206.6,157.5 L207.1,157.4 L207.6,157.4 L208.1,157.3 L208.6,157.3 L209.1,157.2 L209.6,157.2 L210.1,157.1 L210.6,157.1 L211.1,157.0 L211.6,157.0 L212.1,157.0 L212.6,156.9 L213.1,156.9 L213.6,156.8 L214.1,156.8 L214.6,156.7 L215.1,156.7 L215.6,156.6 L216.1,156.6 L216.6,156.6 L217.1,156.5 L217.6,156.5 L218.1,156.4 L218.6,156.4 L219.1,156.3 L219.6,156.3 L220.1,156.3 L220.6,156.2 L221.1,156.2 L221.6,156.1 L222.1,156.1 L222.6,156.0 L223.1,156.0 L223.6,156.0 L224.1,155.9 L224.6,155.9 L225.1,155.8 L225.6,155.8 L226.1,155.8 L226.6,155.7 L227.1,155.7 L227.6,155.7 L228.1,155.6 L228.6,155.6 L229.1,155.5 L229.6,155.5 L230.1,155.5 L230.6,155.4 L231.1,155.4 L231.6,155.3 L232.1,155.3 L232.6,155.3 L233.1,155.2 L233.6,155.2 L234.1,155.2 L234.6,155.1 L235.1,155.1 L235.6,155.1 L236.1,155.0 L236.6,155.0 L237.1,154.9 L237.6,154.9 L238.1,154.9 L238.6,154.8 L239.1,154.8 L239.6,154.8 L240.1,154.7 L240.6,154.7 L241.1,154.7 L241.6,154.7 L242.1,154.6 L242.6,154.6 L243.1,154.6 L243.6,154.5 L244.1,154.5 L244.6,154.5 L245.1,154.4 L245.6,154.4 L246.1,154.4 L246.6,154.3 L247.1,154.3 L247.6,154.3 L248.1,154.2 L248.6,154.2 L249.1,154.1 L249.6,154.1 L250.1,154.1 L250.6,154.0 L251.1,154.0 L251.6,153.9 L252.1,153.9 L252.6,153.8 L253.1,153.8 L253.6,153.7 L254.1,153.7 L254.6,153.6 L255.1,153.6 L255.6,153.5 L256.1,153.5 L256.6,153.4 L257.1,153.4 L257.6,153.3 L258.1,153.3 L258.6,153.2 L259.1,153.2 L259.6,153.1 L260.1,153.1 L260.6,153.0 L261.1,153.0 L261.6,152.9 L262.1,152.9 L262.6,152.8 L263.1,152.7 L263.6,152.7 L264.1,152.6 L264.6,152.6 L265.1,152.5 L265.6,152.4 L266.1,152.4 L266.6,152.3 L267.1,152.3 L267.6,152.2 L268.1,152.1 L268.6,152.0 L269.1,152.0 L269.6,151.9 L270.1,151.8 L270.6,151.7 L271.1,151.6 L271.6,151.6 L272.1,151.5 L272.6,151.4 L273.1,151.3 L273.6,151.1 L274.1,151.0 L274.6,150.9 L275.1,150.8 L275.6,150.7 L276.1,150.6 L276.6,150.5 L277.1,150.3 L277.6,150.2 L278.1,150.1 L278.6,150.0 L279.1,149.8 L279.6,149.7 L280.1,149.6 L280.6,149.5 L281.1,149.3 L281.6,149.2 L282.1,149.0 L282.6,148.9 L283.1,148.7 L283.6,148.6 L284.1,148.4 L284.6,148.3 L285.1,148.1 L285.6,148.0 L286.1,147.8 L286.6,147.7 L287.1,147.5 L287.6,147.4 L288.1,147.3 L288.6,147.1 L289.1,147.0 L289.6,146.9 L290.1,146.8 L290.6,146.7 L291.1,146.5 L291.6,146.4 L292.1,146.3 L292.6,146.2 L293.1,146.1 L293.6,146.0 L294.1,145.9 L294.6,145.8 L295.1,145.7 L295.6,145.7 L296.1,145.6 L296.6,145.5 L297.1,145.4 L297.6,145.3 L298.1,145.2 L298.6,145.1 L299.1,145.1 L299.6,145.0 L300.1,144.9 L300.6,144.8 L301.1,144.8 L301.6,144.7 L302.1,144.6 L302.6,144.5 L303.1,144.5 L303.6,144.4 L304.1,144.3 L304.6,144.2 L305.1,144.2 L305.6,144.1 L306.1,144.0 L306.6,144.0 L307.1,143.9 L307.6,143.9 L308.1,143.8 L308.6,143.7 L309.1,143.7 L309.6,143.6 L310.1,143.5 L310.6,143.5 L311.1,143.4 L311.6,143.4 L312.1,143.3 L312.6,143.2 L313.1,143.2 L313.6,143.1 L314.1,143.1 L314.6,143.0 L315.1,142.9 L315.6,142.9 L316.1,142.8 L316.6,142.8 L317.1,142.7 L317.6,142.7 L318.1,142.6 L318.6,142.6 L319.1,142.5 L319.6,142.5 L320.1,142.4 L320.6,142.4 L321.1,142.3 L321.6,142.3 L322.1,142.3 L322.6,142.2 L323.1,142.2 L323.6,142.1 L324.1,142.1 L324.6,142.1 L325.1,142.0 L325.6,142.0 L326.1,142.0 L326.6,141.9 L327.1,141.9 L327.6,141.9 L328.1,141.8 L328.6,141.8 L329.1,141.8 L329.6,141.7 L330.1,141.7 L330.6,141.7 L331.1,141.6 L331.6,141.6 L332.1,141.6 L332.6,141.6 L333.1,141.5 L333.6,141.5 L334.1,141.5 L334.6,141.5 L335.1,141.4 L335.6,141.4 L336.1,141.4 L336.6,141.4 L337.1,141.4 L337.6,141.4 L338.1,141.3 L338.6,141.3 L339.1,141.3 L339.6,141.3 L340.1,141.3 L340.6,141.2 L341.1,141.2 L341.6,141.2 L342.1,141.2 L342.6,141.2 L343.1,141.1 L343.6,141.1 L344.1,141.1 L344.6,141.1 L345.1,141.0 L345.6,141.0 L346.1,141.0 L346.6,141.0 L347.1,140.9 L347.6,140.9 L348.1,140.9 L348.6,140.8 L349.1,140.8 L349.6,140.7 L350.1,140.7 L350.6,140.6 L351.1,140.6 L351.6,140.5 L352.1,140.4 L352.6,140.3 L353.1,140.2 L353.6,140.1 L354.1,140.0 L354.6,139.8 L355.1,139.6 L355.6,139.4 L356.1,139.1 L356.6,138.9 L357.1,138.6 L357.6,138.3 L358.1,137.9 L358.6,137.5 L359.1,137.1 L359.6,136.6 L360.1,136.0 L360.6,135.5 L361.1,134.9 L361.6,134.3 L362.1,133.7 L362.6,133.1 L363.1,132.5 L363.6,131.9 L364.1,131.3 L364.6,130.7 L365.1,130.2 L365.6,129.6 L366.1,129.1 L366.6,128.6 L367.1,128.2 L367.6,127.8 L368.1,127.3 L368.6,127.0 L369.1,126.6 L369.6,126.2 L370.1,125.9 L370.6,125.6 L371.1,125.3 L371.6,125.1 L372.1,124.8 L372.6,124.6 L373.1,124.4 L373.6,124.2 L374.1,124.0 L374.6,123.8 L375.1,123.6 L375.6,123.5 L376.1,123.3 L376.6,123.2 L377.1,123.0 L377.6,122.9 L378.1,122.8 L378.6,122.7 L379.1,122.6 L379.6,122.5 L380.1,122.4 L380.6,122.3 L381.1,122.2 L381.6,122.1 L382.1,122.1 L382.6,122.0 L383.1,122.0 L383.6,121.9 L384.1,121.9 L384.6,121.8 L385.1,121.8 L385.6,121.7 L386.1,121.7 L386.6,121.7 L387.1,121.6 L387.6,121.6 L388.1,121.5 L388.6,121.5 L389.1,121.5 L389.6,121.4 L390.1,121.4 L390.6,121.4 L391.1,121.3 L391.6,121.3 L392.1,121.3 L392.6,121.2 L393.1,121.2 L393.6,121.2 L394.1,121.1 L394.6,121.1 L395.1,121.0 L395.6,121.0 L396.1,120.9 L396.6,120.9 L397.1,120.8 L397.6,120.8 L398.1,120.7 L398.6,120.7 L399.1,120.6 L399.6,120.5 L400.1,120.5 L400.6,120.4 L401.1,120.3 L401.6,120.3 L402.1,120.2 L402.6,120.2 L403.1,120.1 L403.6,120.0 L404.1,120.0 L404.6,119.9 L405.1,119.9 L405.6,119.8 L406.1,119.8 L406.6,119.7 L407.1,119.7 L407.6,119.6 L408.1,119.6 L408.6,119.6 L409.1,119.6 L409.6,119.5 L410.1,119.5 L410.6,119.5 L411.1,119.5 L411.6,119.5 L412.1,119.5 L412.6,119.5 L413.1,119.5 L413.6,119.6 L414.1,119.6 L414.6,119.6 L415.1,119.6 L415.6,119.7 L416.1,119.7 L416.6,119.7 L417.1,119.8 L417.6,119.8 L418.1,119.8 L418.6,119.9 L419.1,119.9 L419.6,120.0 L420.1,120.0 L420.6,120.0 L421.1,120.1 L421.6,120.1 L422.1,120.2 L422.6,120.2 L423.1,120.3 L423.6,120.3 L424.1,120.4 L424.6,120.4 L425.1,120.5 L425.6,120.5 L426.1,120.6 L426.6,120.6 L427.1,120.7 L427.6,120.7 L428.1,120.7 L428.6,120.8 L429.1,120.8 L429.6,120.8 L430.1,120.9 L430.6,120.9 L431.1,120.9 L431.6,121.0 L432.1,121.0 L432.6,121.0 L433.1,121.0 L433.6,121.0 L434.1,121.0 L434.6,121.0 L435.1,121.0 L435.6,121.0 L436.1,121.0 L436.6,121.0 L437.1,121.0 L437.6,121.0 L438.1,121.0 L438.6,121.0 L439.1,121.0 L439.6,121.0 L440.1,121.0 L440.6,121.0 L441.1,120.9 L441.6,120.9 L442.1,120.9 L442.6,120.9 L443.1,120.9 L443.6,120.9 L444.1,120.8 L444.6,120.8 L445.1,120.8 L445.6,120.8 L446.1,120.7 L446.6,120.7 L447.1,120.7 L447.6,120.6 L448.1,120.6 L448.6,120.6 L449.1,120.5 L449.6,120.5 L450.1,120.4 L450.6,120.4 L451.1,120.4 L451.6,120.3 L452.1,120.3 L452.6,120.2 L453.1,120.1 L453.6,120.1 L454.1,120.0 L454.6,119.9 L455.1,119.8 L455.6,119.7 L456.1,119.5 L456.6,119.3 L457.1,119.0 L457.6,118.6 L458.1,118.0 L458.6,117.4 L459.1,116.6 L459.6,115.8 L460.1,114.9 L460.6,113.9 L461.1,112.9 L461.6,111.9 L462.1,111.0 L462.6,110.0 L463.1,109.0 L463.6,108.0 L464.1,107.0 L464.6,106.0 L465.1,105.0 L465.6,104.0 L466.1,103.0 L466.6,102.1 L467.1,101.1 L467.6,100.2 L468.1,99.3 L468.6,98.4 L469.1,97.6 L469.6,96.8 L470.1,96.1 L470.6,95.4 L471.1,94.8 L471.6,94.3 L472.1,93.8 L472.6,93.3 L473.1,92.9 L473.6,92.6 L474.1,92.3 L474.6,92.0 L475.1,91.7 L475.6,91.5 L476.1,91.3 L476.6,91.1 L477.1,91.0 L477.6,90.9 L478.1,90.7 L478.6,90.7 L479.1,90.6 L479.6,90.5 L480.1,90.5 L480.6,90.5 L481.1,90.5 L481.6,90.5 L482.1,90.5 L482.6,90.6 L483.1,90.7 L483.6,90.7 L484.1,90.8 L484.6,90.9 L485.1,91.1 L485.6,91.2 L486.1,91.3 L486.6,91.5 L487.1,91.7 L487.6,91.8 L488.1,92.0 L488.6,92.2 L489.1,92.4 L489.6,92.6 L490.1,92.8 L490.6,93.1 L491.1,93.3 L491.6,93.5 L492.1,93.7 L492.6,94.0 L493.1,94.2 L493.6,94.5 L494.1,94.7 L494.6,95.0 L495.1,95.2 L495.6,95.4 L496.1,95.7 L496.6,95.9 L497.1,96.2 L497.6,96.4 L498.1,96.6 L498.6,96.9 L499.1,97.1 L499.6,97.3 L500.1,97.5 L500.6,97.8 L501.1,98.0 L501.6,98.2 L502.1,98.4 L502.6,98.5 L503.1,98.7 L503.6,98.9 L504.1,99.1 L504.6,99.3 L505.1,99.4 L505.6,99.6 L506.1,99.7 L506.6,99.9 L507.1,100.0 L507.6,100.1 L508.1,100.2 L508.6,100.4 L509.1,100.5 L509.6,100.6 L510.1,100.7 L510.6,100.8 L511.1,100.9 L511.6,100.9 L512.1,101.0 L512.6,101.1 L513.1,101.2 L513.6,101.2 L514.1,101.3 L514.6,101.3 L515.1,101.4 L515.6,101.4 L516.1,101.5 L516.6,101.5 L517.1,101.6 L517.6,101.6 L518.1,101.6 L518.6,101.7 L519.1,101.7 L519.6,101.7 L520.1,101.8 L520.6,101.8 L521.1,101.8 L521.6,101.8 L522.1,101.8 L522.6,101.9 L523.1,101.9 L523.6,101.9 L524.1,101.9 L524.6,101.9 L525.1,101.9 L525.6,101.9 L526.1,101.9 L526.6,101.9 L527.1,101.9 L527.6,102.0 L528.1,102.0 L528.6,102.0 L529.1,102.0 L529.6,102.0 L530.1,102.0 L530.6,102.0 L531.1,102.0 L531.6,102.0 L532.1,102.0 L532.6,102.0 L533.1,102.0 L533.6,102.0 L534.1,102.0 L534.6,102.0 L535.1,102.0 L535.6,102.0 L536.1,102.0 L536.6,102.0 L537.1,102.0 L537.6,102.0 L538.1,102.0 L538.6,102.0 L539.1,102.0 L539.6,102.0 L540.1,102.0 L540.6,102.0 L541.1,102.0 L541.6,102.0 L542.1,102.0 L542.6,102.0 L543.1,102.0 L543.6,102.0 L544.1,102.0 L544.6,102.0 L545.1,102.0 L545.6,102.0 L546.1,102.0 L546.6,102.0 L547.1,102.0 L547.6,102.0 L548.1,102.0 L548.6,102.0 L549.1,102.0 L549.6,102.0 L550.1,102.0 L550.6,102.0 L551.1,102.0 L551.6,102.0 L552.1,102.0 L552.6,102.0 L553.1,102.0 L553.6,102.0 L554.1,102.0 L554.6,102.0 L555.1,102.0 L555.6,102.0 L556.1,102.0 L556.6,102.0 L557.1,102.0 L557.6,102.0 L558.1,102.0 L558.6,102.0 L559.1,102.0 L559.6,102.0 L560.1,101.9 L560.6,101.9 L561.1,101.9 L561.6,101.8 L562.1,101.8 L562.6,101.7 L563.1,101.6 L563.6,101.6 L564.1,101.5 L564.6,101.4 L565.1,101.4 L565.6,101.3 L566.1,101.2 L566.6,101.1 L567.1,101.0 L567.6,100.9 L568.1,100.8 L568.6,100.7 L569.1,100.7 L569.6,100.6 L570.1,100.5 L570.6,100.4 L571.1,100.3 L571.6,100.2 L572.1,100.1 L572.6,100.0 L573.1,99.9 L573.6,99.8 L574.1,99.7 L574.6,99.5 L575.1,99.4 L575.6,99.3 L576.1,99.2 L576.6,99.1 L577.1,99.0 L577.6,98.9 L578.1,98.8 L578.6,98.7 L579.1,98.6 L579.6,98.4 L580.1,98.3 L580.6,98.2 L581.1,98.1 L581.6,98.0 L582.1,97.9 L582.6,97.7 L583.1,97.6 L583.6,97.5 L584.1,97.4 L584.6,97.2 L585.1,97.1 L585.6,97.0 L586.1,96.9 L586.6,96.7 L587.1,96.6 L587.6,96.5 L588.1,96.4 L588.6,96.2 L589.1,96.1 L589.6,96.0 L590.1,95.9 L590.6,95.7 L591.1,95.6 L591.6,95.5 L592.1,95.3 L592.6,95.2 L593.1,95.1 L593.6,94.9 L594.1,94.8 L594.6,94.7 L595.1,94.5 L595.6,94.4 L596.1,94.3 L596.6,94.1 L597.1,94.0 L597.6,93.8 L598.1,93.7 L598.6,93.6 L599.1,93.4 L599.6,93.3 L600.1,93.2 L600.6,93.0 L601.1,92.9 L601.6,92.7 L602.1,92.6 L602.6,92.4 L603.1,92.3 L603.6,92.2 L604.1,92.0 L604.6,91.9 L605.1,91.7 L605.6,91.6 L606.1,91.4 L606.6,91.3 L607.1,91.1 L607.6,91.0 L608.1,90.8 L608.6,90.7 L609.1,90.6 L609.6,90.4 L610.1,90.3 L610.6,90.1 L611.1,90.0 L611.6,89.8 L612.1,89.7 L612.6,89.5 L613.1,89.4 L613.6,89.2 L614.1,89.0 L614.6,88.9 L615.1,88.7 L615.6,88.6 L616.1,88.4 L616.6,88.3 L617.1,88.1 L617.6,88.0 L618.1,87.8 L618.6,87.7 L619.1,87.5 L619.6,87.4 L620.1,87.2 L620.6,87.0 L621.1,86.9 L621.6,86.7 L622.1,86.6 L622.6,86.4 L623.1,86.2 L623.6,86.1 L624.1,85.9 L624.6,85.8 L625.1,85.6 L625.6,85.5 L626.1,85.3 L626.6,85.1"/>
<path stroke="#ff00ff" d="M627.0,87.7 L622.5,89.4 L617.9,91.1 L613.3,92.9 L608.7,94.6 L604.3,96.2 L600.0,97.7 L596.6,98.8 L593.4,99.8 L590.3,100.8 L587.1,101.8 L583.7,102.8 L580.0,103.8 L574.0,105.6 L567.2,107.5 L560.0,109.5 L552.8,111.4 L546.0,113.2 L540.0,114.9 L536.3,115.8 L532.8,116.7 L529.6,117.6 L526.4,118.4 L523.3,119.2 L520.0,120.0 L516.6,120.9 L513.1,121.9 L509.6,122.8 L506.2,123.8 L502.9,124.7 L500.0,125.5 L498.1,126.0 L496.4,126.6 L494.8,127.1 L493.2,127.5 L491.6,128.0 L490.0,128.5 L488.3,129.0 L486.7,129.6 L485.0,130.1 L483.3,130.6 L481.7,131.2 L480.0,131.7 L478.3,132.3 L476.7,132.9 L475.1,133.6 L473.5,134.2 L471.8,134.9 L470.0,135.6 L467.7,136.6 L465.1,137.6 L462.5,138.7 L459.9,139.9 L457.5,141.1 L455.4,142.3 L453.8,143.4 L452.3,144.6 L450.9,145.8 L449.6,147.1 L448.4,148.3 L447.2,149.6 L446.2,150.8 L445.3,152.0 L444.4,153.2 L443.5,154.4 L442.7,155.6 L442.0,156.9 L441.3,158.0 L440.7,159.1 L440.2,160.2 L439.6,161.3 L439.1,162.4 L438.6,163.6 L438.0,164.7 L437.5,165.8 L437.0,167.0 L436.5,168.1 L436.0,169.2 L435.5,170.3 L435.1,171.2 L434.6,172.2 L434.2,173.1 L433.8,174.1 L433.4,175.0 L433.0,175.9 L432.7,176.6 L432.4,177.4 L432.2,178.1 L431.9,178.8 L431.6,179.5 L431.2,180.3 L430.6,181.5 L429.9,182.7 L429.1,184.1 L428.3,185.3 L427.4,186.5 L426.6,187.5 L425.9,188.2 L425.2,188.8 L424.5,189.3 L423.8,189.8 L423.0,190.2 L422.3,190.5 L421.6,190.8 L420.8,191.1 L420.1,191.3 L419.4,191.4 L418.6,191.5 L418.0,191.5 L417.6,191.5 L417.2,191.4 L416.8,191.2 L416.4,191.1 L416.0,190.9 L415.5,190.7 L414.6,190.3 L413.6,189.7 L412.4,189.1 L411.3,188.5 L410.1,187.7 L409.0,186.9 L407.6,185.8 L406.2,184.5 L404.8,183.1 L403.4,181.6 L402.0,180.2 L400.5,178.8 L398.9,177.4 L397.3,175.9 L395.7,174.4 L394.0,173.0 L392.3,171.6 L390.5,170.4 L388.5,169.4 L386.5,168.4 L384.3,167.5 L382.2,166.8 L380.1,166.1 L378.0,165.6 L376.2,165.2 L374.5,164.9 L372.7,164.7 L371.0,164.6 L369.4,164.5 L368.0,164.5 L367.2,164.5 L366.4,164.5 L365.7,164.6 L365.0,164.7 L364.3,164.8 L363.6,165.0 L362.7,165.2 L361.8,165.5 L360.9,165.8 L360.0,166.2 L359.2,166.6 L358.4,167.0 L357.6,167.5 L356.8,168.1 L356.1,168.7 L355.4,169.4 L354.7,170.0 L354.0,170.8 L353.4,171.6 L352.7,172.4 L352.1,173.3 L351.6,174.3 L351.0,175.2 L350.5,176.1 L350.1,176.9 L349.8,177.7 L349.5,178.5 L349.1,179.3 L348.8,180.2 L348.5,181.2 L347.8,183.6 L347.1,186.5 L346.3,189.7 L345.5,193.0 L344.7,196.2 L344.0,199.2 L343.3,201.6 L342.5,204.0 L341.8,206.3 L341.1,208.6 L340.3,210.9 L339.7,213.2 L339.0,215.5 L338.3,217.9 L337.7,220.2 L337.0,222.5 L336.4,224.9 L335.8,227.2 L335.3,229.6 L334.8,231.9 L334.3,234.2 L333.8,236.6 L333.4,238.9 L333.0,241.2 L332.7,243.6 L332.5,245.9 L332.2,248.2 L332.0,250.6 L331.8,252.9 L331.6,255.3 L331.3,257.6 L331.1,259.9 L330.8,262.3 L330.5,264.6 L330.3,266.9 L330.0,269.3 L329.7,271.7 L329.3,274.1 L329.0,276.5 L328.6,278.9 L328.3,281.2 L327.9,283.3 L327.6,284.9 L327.4,286.4 L327.1,287.8 L326.8,289.2 L326.5,290.5 L326.2,291.8 L325.9,292.9 L325.6,293.9 L325.4,295.0 L325.1,296.0 L324.8,296.9 L324.5,297.8 L324.3,298.5 L324.1,299.1 L323.9,299.7 L323.7,300.2 L323.5,300.8 L323.2,301.3 L322.9,301.8 L322.5,302.4 L322.2,302.9 L321.8,303.3 L321.4,303.7 L321.0,303.8 L320.6,303.7 L320.1,303.4 L319.6,302.9 L319.1,302.4 L318.7,301.8 L318.3,301.3 L318.0,300.8 L317.7,300.2 L317.4,299.7 L317.2,299.1 L317.0,298.5 L316.8,297.8 L316.5,296.9 L316.2,296.0 L315.9,295.0 L315.6,293.9 L315.3,292.9 L315.0,291.8 L314.7,290.5 L314.4,289.2 L314.1,287.9 L313.8,286.5 L313.5,285.0 L313.2,283.3 L312.7,280.3 L312.1,276.9 L311.5,273.2 L310.9,269.4 L310.4,265.6 L309.8,261.9 L309.2,258.3 L308.6,254.8 L308.1,251.2 L307.5,247.6 L306.9,244.0 L306.3,240.5 L305.8,236.9 L305.2,233.3 L304.6,229.8 L304.1,226.2 L303.5,222.6 L302.9,219.1 L302.3,215.3 L301.7,211.4 L301.1,207.4 L300.5,203.7 L300.0,200.4 L299.5,197.7 L299.3,196.6 L299.1,195.7 L299.0,194.9 L298.8,194.2 L298.6,193.4 L298.4,192.6 L298.1,191.7 L297.8,190.7 L297.4,189.8 L297.1,188.8 L296.6,187.9 L296.2,187.1 L295.8,186.3 L295.3,185.5 L294.8,184.8 L294.3,184.1 L293.7,183.4 L293.2,182.8 L292.6,182.2 L291.9,181.7 L291.3,181.1 L290.6,180.6 L290.0,180.2 L289.3,179.8 L288.7,179.5 L288.1,179.2 L287.5,179.0 L287.0,178.8 L286.4,178.6 L285.8,178.4 L285.4,178.3 L285.0,178.2 L284.7,178.2 L284.3,178.1 L283.8,178.0 L283.3,177.9 L281.7,177.7 L279.5,177.4 L277.1,177.1 L274.7,176.8 L272.7,176.5 L271.3,176.4 L271.0,176.3 L270.8,176.3 L270.7,176.3 L270.5,176.3 L270.3,176.2 L270.0,176.2 L268.0,175.9 L265.1,175.6 L261.5,175.1 L257.5,174.6 L253.6,174.1 L250.0,173.6 L246.7,173.1 L243.4,172.6 L240.1,172.1 L236.7,171.7 L233.4,171.3 L230.0,171.0 L226.4,170.9 L222.8,170.9 L219.1,170.9 L215.4,171.0 L211.7,171.2 L208.0,171.3 L204.3,171.3 L200.6,171.4 L197.0,171.4 L193.3,171.5 L189.6,171.6 L186.0,171.6 L182.4,171.7 L178.8,171.8 L175.2,171.8 L171.6,171.9 L168.2,172.0 L165.0,172.0 L162.6,172.1 L160.3,172.1 L158.2,172.2 L156.0,172.2 L154.0,172.3 L152.0,172.3 L150.4,172.3 L148.9,172.4 L147.4,172.4 L145.9,172.4 L143.9,172.6 L142.9,171.9 L142.9,170.9 L143.6,171.6 L144.1,170.9 L144.6,170.3 L145.1,169.8 L145.6,169.4 L146.1,169.0 L146.6,168.7 L147.1,168.4 L147.6,168.1 L148.1,167.9 L148.6,167.6 L149.1,167.4 L149.6,167.2 L150.1,167.1 L150.6,166.9 L151.1,166.7 L151.6,166.6 L152.1,166.4 L152.6,166.3 L153.1,166.2 L153.6,166.0 L154.1,165.9 L154.6,165.8 L155.1,165.6 L155.6,165.5 L156.1,165.4 L156.6,165.3 L157.1,165.2 L157.6,165.1 L158.1,165.0 L158.6,164.8 L159.1,164.7 L159.6,164.6 L160.1,164.5 L160.6,164.4 L161.1,164.3 L161.6,164.2 L162.1,164.1 L162.6,164.0 L163.1,163.9 L163.6,163.8 L164.1,163.7 L164.6,163.6 L165.1,163.5 L165.6,163.4 L166.1,163.3 L166.6,163.2 L167.1,163.2 L167.6,163.1 L168.1,163.0 L168.6,162.9 L169.1,162.8 L169.6,162.7 L170.1,162.6 L170.6,162.5 L171.1,162.4 L171.6,162.4 L172.1,162.3 L172.6,162.2 L173.1,162.1 L173.6,162.0 L174.1,161.9 L174.6,161.9 L175.1,161.8 L175.6,161.7 L176.1,161.6 L176.6,161.5 L177.1,161.5 L177.6,161.4 L178.1,161.3 L178.6,161.2 L179.1,161.2 L179.6,161.1 L180.1,161.0 L180.6,160.9 L181.1,160.9 L181.6,160.8 L182.1,160.7 L182.6,160.6 L183.1,160.6 L183.6,160.5 L184.1,160.4 L184.6,160.4 L185.1,160.3 L185.6,160.2 L186.1,160.2 L186.6,160.1 L187.1,160.0 L187.6,160.0 L188.1,159.9 L188.6,159.8 L189.1,159.8 L189.6,159.7 L190.1,159.6 L190.6,159.6 L191.1,159.5 L191.6,159.4 L192.1,159.4 L192.6,159.3 L193.1,159.2 L193.6,159.2 L194.1,159.1 L194.6,159.1 L195.1,159.0 L195.6,158.9 L196.1,158.9 L196.6,158.8 L197.1,158.8 L197.6,158.7 L198.1,158.7 L198.6,158.6 L199.1,158.5 L199.6,158.5 L200.1,158.4 L200.6,158.4 L201.1,158.3 L201.6,158.3 L202.1,158.2 L202.6,158.2 L203.1,158.1 L203.6,158.0 L204.1,158.0 L204.6,157.9 L205.1,157.9 L205.6,157.8 L206.1,157.8 L206.6,157.7 L207.1,157.7 L207.6,157.6 L208.1,157.6 L208.6,157.5 L209.1,157.5 L209.6,157.4 L210.1,157.4 L210.6,157.3 L211.1,157.3 L211.6,157.2 L212.1,157.2 L212.6,157.1 L213.1,157.1 L213.6,157.0 L214.1,157.0 L214.6,157.0 L215.1,156.9 L215.6,156.9 L216.1,156.8 L216.6,156.8 L217.1,156.7 L217.6,156.7 L218.1,156.6 L218.6,156.6 L219.1,156.5 L219.6,156.5 L220.1,156.5 L220.6,156.4 L221.1,156.4 L221.6,156.3 L222.1,156.3 L222.6,156.2 L223.1,156.2 L223.6,156.2 L224.1,156.1 L224.6,156.1 L225.1,156.0 L225.6,156.0 L226.1,155.9 L226.6,155.9 L227.1,155.9 L227.6,155.8 L228.1,155.8 L228.6,155.7 L229.1,155.7 L229.6,155.7 L230.1,155.6 L230.6,155.6 L231.1,155.5 L231.6,155.5 L232.1,155.5 L232.6,155.4 L233.1,155.4 L233.6,155.3 L234.1,155.3 L234.6,155.3 L235.1,155.2 L235.6,155.2 L236.1,155.2 L236.6,155.1 L237.1,155.1 L237.6,155.0 L238.1,155.0 L238.6,155.0 L239.1,154.9 L239.6,154.9 L240.1,154.9 L240.6,154.8 L241.1,154.8 L241.6,154.8 L242.1,154.7 L242.6,154.7 L243.1,154.7 L243.6,154.6 L244.1,154.6 L244.6,154.6 L245.1,154.5 L245.6,154.5 L246.1,154.5 L246.6,154.4 L247.1,154.4 L247.6,154.4 L248.1,154.3 L248.6,154.3 L249.1,154.2 L249.6,154.2 L250.1,154.2 L250.6,154.1 L251.1,154.1 L251.6,154.0 L252.1,154.0 L252.6,153.9 L253.1,153.9 L253.6,153.8 L254.1,153.8 L254.6,153.7 L255.1,153.7 L255.6,153.6 L256.1,153.6 L256.6,153.5 L257.1,153.4 L257.6,153.4 L258.1,153.3 L258.6,153.3 L259.1,153.2 L259.6,153.2 L260.1,153.1 L260.6,153.0 L261.1,153.0 L261.6,152.9 L262.1,152.9 L262.6,152.8 L263.1,152.7 L263.6,152.7 L264.1,152.6 L264.6,152.6 L265.1,152.5 L265.6,152.4 L266.1,152.4 L266.6,152.3 L267.1,152.2 L267.6,152.2 L268.1,152.1 L268.6,152.0 L269.1,151.9 L269.6,151.8 L270.1,151.8 L270.6,151.7 L271.1,151.6 L271.6,151.5 L272.1,151.4 L272.6,151.3 L273.1,151.2 L273.6,151.0 L274.1,150.9 L274.6,150.8 L275.1,150.7 L275.6,150.6 L276.1,150.4 L276.6,150.3 L277.1,150.2 L277.6,150.0 L278.1,149.9 L278.6,149.8 L279.1,149.6 L279.6,149.5 L280.1,149.4 L280.6,149.2 L281.1,149.1 L281.6,148.9 L282.1,148.8 L282.6,148.6 L283.1,148.5 L283.6,148.3 L284.1,148.1 L284.6,148.0 L285.1,147.8 L285.6,147.6 L286.1,147.5 L286.6,147.3 L287.1,147.2 L287.6,147.0 L288.1,146.9 L288.6,146.7 L289.1,146.6 L289.6,146.5 L290.1,146.3 L290.6,146.2 L291.1,146.1 L291.6,146.0 L292.1,145.9 L292.6,145.8 L293.1,145.6 L293.6,145.5 L294.1,145.4 L294.6,145.3 L295.1,145.2 L295.6,145.1 L296.1,145.0 L296.6,145.0 L297.1,144.9 L297.6,144.8 L298.1,144.7 L298.6,144.6 L299.1,144.5 L299.6,144.4 L300.1,144.3 L300.6,144.3 L301.1,144.2 L301.6,144.1 L302.1,144.0 L302.6,143.9 L303.1,143.9 L303.6,143.8 L304.1,143.7 L304.6,143.6 L305.1,143.6 L305.6,143.5 L306.1,143.4 L306.6,143.4 L307.1,143.3 L307.6,143.2 L308.1,143.1 L308.6,143.1 L309.1,143.0 L309.6,142.9 L310.1,142.9 L310.6,142.8 L311.1,142.7 L311.6,142.7 L312.1,142.6 L312.6,142.6 L313.1,142.5 L313.6,142.4 L314.1,142.4 L314.6,142.3 L315.1,142.2 L315.6,142.2 L316.1,142.1 L316.6,142.1 L317.1,142.0 L317.6,141.9 L318.1,141.9 L318.6,141.8 L319.1,141.8 L319.6,141.7 L320.1,141.7 L320.6,141.6 L321.1,141.6 L321.6,141.6 L322.1,141.5 L322.6,141.5 L323.1,141.4 L323.6,141.4 L324.1,141.3 L324.6,141.3 L325.1,141.3 L325.6,141.2 L326.1,141.2 L326.6,141.1 L327.1,141.1 L327.6,141.1 L328.1,141.0 L328.6,141.0 L329.1,141.0 L329.6,140.9 L330.1,140.9 L330.6,140.9 L331.1,140.8 L331.6,140.8 L332.1,140.8 L332.6,140.8 L333.1,140.7 L333.6,140.7 L334.1,140.7 L334.6,140.7 L335.1,140.6 L335.6,140.6 L336.1,140.6 L336.6,140.6 L337.1,140.6 L337.6,140.5 L338.1,140.5 L338.6,140.5 L339.1,140.5 L339.6,140.5 L340.1,140.5 L340.6,140.4 L341.1,140.4 L341.6,140.4 L342.1,140.4 L342.6,140.4 L343.1,140.3 L343.6,140.3 L344.1,140.3 L344.6,140.3 L345.1,140.2 L345.6,140.2 L346.1,140.2 L346.6,140.2 L347.1,140.1 L347.6,140.1 L348.1,140.1 L348.6,140.0 L349.1,140.0 L349.6,139.9 L350.1,139.9 L350.6,139.8 L351.1,139.8 L351.6,139.7 L352.1,139.6 L352.6,139.5 L353.1,139.4 L353.6,139.3 L354.1,139.1 L354.6,138.9 L355.1,138.7 L355.6,138.5 L356.1,138.3 L356.6,138.0 L357.1,137.7 L357.6,137.4 L358.1,137.0 L358.6,136.6 L359.1,136.1 L359.6,135.6 L360.1,135.0 L360.6,134.4 L361.1,133.8 L361.6,133.2 L362.1,132.6 L362.6,131.9 L363.1,131.3 L363.6,130.6 L364.1,130.0 L364.6,129.4 L365.1,128.8 L365.6,128.3 L366.1,127.7 L366.6,127.2 L367.1,126.8 L367.6,126.3 L368.1,125.9 L368.6,125.5 L369.1,125.1 L369.6,124.7 L370.1,124.4 L370.6,124.1 L371.1,123.8 L371.6,123.5 L372.1,123.2 L372.6,123.0 L373.1,122.8 L373.6,122.5 L374.1,122.3 L374.6,122.2 L375.1,122.0 L375.6,121.8 L376.1,121.7 L376.6,121.5 L377.1,121.4 L377.6,121.2 L378.1,121.1 L378.6,121.0 L379.1,120.9 L379.6,120.8 L380.1,120.7 L380.6,120.6 L381.1,120.5 L381.6,120.4 L382.1,120.3 L382.6,120.2 L383.1,120.2 L383.6,120.1 L384.1,120.0 L384.6,119.9 L385.1,119.9 L385.6,119.8 L386.1,119.7 L386.6,119.7 L387.1,119.6 L387.6,119.5 L388.1,119.5 L388.6,119.4 L389.1,119.3 L389.6,119.3 L390.1,119.2 L390.6,119.2 L391.1,119.1 L391.6,119.0 L392.1,119.0 L392.6,118.9 L393.1,118.8 L393.6,118.8 L394.1,118.7 L394.6,118.6 L395.1,118.6 L395.6,118.5 L396.1,118.4 L396.6,118.3 L397.1,118.3 L397.6,118.2 L398.1,118.1 L398.6,118.0 L399.1,117.9 L399.6,117.8 L400.1,117.7 L400.6,117.6 L401.1,117.5 L401.6,117.4 L402.1,117.3 L402.6,117.2 L403.1,117.2 L403.6,117.1 L404.1,117.0 L404.6,116.9 L405.1,116.8 L405.6,116.8 L406.1,116.7 L406.6,116.6 L407.1,116.6 L407.6,116.5 L408.1,116.5 L408.6,116.4 L409.1,116.4 L409.6,116.4 L410.1,116.3 L410.6,116.3 L411.1,116.3 L411.6,116.3 L412.1,116.3 L412.6,116.3 L413.1,116.4 L413.6,116.4 L414.1,116.4 L414.6,116.4 L415.1,116.5 L415.6,116.5 L416.1,116.5 L416.6,116.6 L417.1,116.6 L417.6,116.7 L418.1,116.7 L418.6,116.8 L419.1,116.8 L419.6,116.9 L420.1,116.9 L420.6,117.0 L421.1,117.0 L421.6,117.1 L422.1,117.1 L422.6,117.2 L423.1,117.3 L423.6,117.3 L424.1,117.4 L424.6,117.4 L425.1,117.5 L425.6,117.6 L426.1,117.6 L426.6,117.7 L427.1,117.7 L427.6,117.8 L428.1,117.8 L428.6,117.9 L429.1,117.9 L429.6,117.9 L430.1,118.0 L430.6,118.0 L431.1,118.1 L431.6,118.1 L432.1,118.1 L432.6,118.1 L433.1,118.2 L433.6,118.2 L434.1,118.2 L434.6,118.2 L435.1,118.2 L435.6,118.2 L436.1,118.2 L436.6,118.2 L437.1,118.2 L437.6,118.2 L438.1,118.2 L438.6,118.2 L439.1,118.2 L439.6,118.2 L440.1,118.2 L440.6,118.2 L441.1,118.2 L441.6,118.1 L442.1,118.1 L442.6,118.1 L443.1,118.1 L443.6,118.1 L444.1,118.1 L444.6,118.1 L445.1,118.1 L445.6,118.0 L446.1,118.0 L446.6,118.0 L447.1,118.0 L447.6,118.0 L448.1,117.9 L448.6,117.9 L449.1,117.9 L449.6,117.9 L450.1,117.8 L450.6,117.8 L451.1,117.8 L451.6,117.7 L452.1,117.7 L452.6,117.7 L453.1,117.6 L453.6,117.6 L454.1,117.5 L454.6,117.4 L455.1,117.3 L455.6,117.2 L456.1,117.0 L456.6,116.8 L457.1,116.5 L457.6,116.1 L458.1,115.6 L458.6,114.9 L459.1,114.2 L459.6,113.3 L460.1,112.4 L460.6,111.4 L461.1,110.4 L461.6,109.3 L462.1,108.3 L462.6,107.3 L463.1,106.2 L463.6,105.2 L464.1,104.2 L464.6,103.1 L465.1,102.1 L465.6,101.0 L466.1,100.0 L466.6,99.0 L467.1,98.0 L467.6,97.0 L468.1,96.0 L468.6,95.1 L469.1,94.2 L469.6,93.3 L470.1,92.5 L470.6,91.7 L471.1,91.0 L471.6,90.4 L472.1,89.8 L472.6,89.3 L473.1,88.8 L473.6,88.4 L474.1,88.0 L474.6,87.6 L475.1,87.3 L475.6,87.0 L476.1,86.8 L476.6,86.6 L477.1,86.4 L477.6,86.2 L478.1,86.1 L478.6,85.9 L479.1,85.8 L479.6,85.7 L480.1,85.7 L480.6,85.6 L481.1,85.6 L481.6,85.6 L482.1,85.6 L482.6,85.6 L483.1,85.6 L483.6,85.7 L484.1,85.8 L484.6,85.8 L485.1,85.9 L485.6,86.1 L486.1,86.2 L486.6,86.3 L487.1,86.5 L487.6,86.6 L488.1,86.8 L488.6,87.0 L489.1,87.1 L489.6,87.3 L490.1,87.5 L490.6,87.7 L491.1,88.0 L491.6,88.2 L492.1,88.4 L492.6,88.7 L493.1,88.9 L493.6,89.1 L494.1,89.4 L494.6,89.7 L495.1,89.9 L495.6,90.2 L496.1,90.4 L496.6,90.7 L497.1,90.9 L497.6,91.2 L498.1,91.5 L498.6,91.7 L499.1,92.0 L499.6,92.2 L500.1,92.5 L500.6,92.7 L501.1,93.0 L501.6,93.2 L502.1,93.4 L502.6,93.7 L503.1,93.9 L503.6,94.1 L504.1,94.3 L504.6,94.5 L505.1,94.7 L505.6,94.9 L506.1,95.1 L506.6,95.3 L507.1,95.5 L507.6,95.7 L508.1,95.8 L508.6,96.0 L509.1,96.1 L509.6,96.3 L510.1,96.4 L510.6,96.6 L511.1,96.7 L511.6,96.8 L512.1,96.9 L512.6,97.0 L513.1,97.1 L513.6,97.3 L514.1,97.3 L514.6,97.4 L515.1,97.5 L515.6,97.6 L516.1,97.7 L516.6,97.8 L517.1,97.8 L517.6,97.9 L518.1,97.9 L518.6,98.0 L519.1,98.1 L519.6,98.1 L520.1,98.2 L520.6,98.2 L521.1,98.2 L521.6,98.3 L522.1,98.3 L522.6,98.3 L523.1,98.4 L523.6,98.4 L524.1,98.4 L524.6,98.5 L525.1,98.5 L525.6,98.5 L526.1,98.5 L526.6,98.5 L527.1,98.5 L527.6,98.6 L528.1,98.6 L528.6,98.6 L529.1,98.6 L529.6,98.6 L530.1,98.6 L530.6,98.6 L531.1,98.6 L531.6,98.6 L532.1,98.6 L532.6,98.6 L533.1,98.7 L533.6,98.7 L534.1,98.7 L534.6,98.7 L535.1,98.7 L535.6,98.7 L536.1,98.7 L536.6,98.7 L537.1,98.7 L537.6,98.7 L538.1,98.7 L538.6,98.7 L539.1,98.7 L539.6,98.7 L540.1,98.7 L540.6,98.7 L541.1,98.7 L541.6,98.7 L542.1,98.7 L542.6,98.7 L543.1,98.7 L543.6,98.7 L544.1,98.7 L544.6,98.7 L545.1,98.7 L545.6,98.7 L546.1,98.7 L546.6,98.7 L547.1,98.7 L547.6,98.7 L548.1,98.7 L548.6,98.7 L549.1,98.7 L549.6,98.7 L550.1,98.7 L550.6,98.7 L551.1,98.7 L551.6,98.7 L552.1,98.7 L552.6,98.7 L553.1,98.7 L553.6,98.7 L554.1,98.7 L554.6,98.7 L555.1,98.7 L555.6,98.7 L556.1,98.7 L556.6,98.7 L557.1,98.7 L557.6,98.7 L558.1,98.7 L558.6,98.7 L559.1,98.7 L559.6,98.7 L560.1,98.7 L560.6,98.6 L561.1,98.6 L561.6,98.6 L562.1,98.5 L562.6,98.5 L563.1,98.4 L563.6,98.4 L564.1,98.3 L564.6,98.3 L565.1,98.2 L565.6,98.1 L566.1,98.1 L566.6,98.0 L567.1,97.9 L567.6,97.9 L568.1,97.8 L568.6,97.7 L569.1,97.6 L569.6,97.6 L570.1,97.5 L570.6,97.4 L571.1,97.3 L571.6,97.2 L572.1,97.1 L572.6,97.1 L573.1,97.0 L573.6,96.9 L574.1,96.8 L574.6,96.7 L575.1,96.6 L575.6,96.5 L576.1,96.4 L576.6,96.3 L577.1,96.2 L577.6,96.1 L578.1,96.0 L578.6,95.9 L579.1,95.8 L579.6,95.7 L580.1,95.6 L580.6,95.5 L581.1,95.4 L581.6,95.3 L582.1,95.2 L582.6,95.1 L583.1,95.0 L583.6,94.9 L584.1,94.8 L584.6,94.7 L585.1,94.6 L585.6,94.5 L586.1,94.4 L586.6,94.3 L587.1,94.2 L587.6,94.0 L588.1,93.9 L588.6,93.8 L589.1,93.7 L589.6,93.6 L590.1,93.5 L590.6,93.4 L591.1,93.2 L591.6,93.1 L592.1,93.0 L592.6,92.9 L593.1,92.8 L593.6,92.6 L594.1,92.5 L594.6,92.4 L595.1,92.3 L595.6,92.2 L596.1,92.0 L596.6,91.9 L597.1,91.8 L597.6,91.7 L598.1,91.5 L598.6,91.4 L599.1,91.3 L599.6,91.2 L600.1,91.0 L600.6,90.9 L601.1,90.8 L601.6,90.6 L602.1,90.5 L602.6,90.4 L603.1,90.3 L603.6,90.1 L604.1,90.0 L604.6,89.9 L605.1,89.7 L605.6,89.6 L606.1,89.5 L606.6,89.3 L607.1,89.2 L607.6,89.1 L608.1,88.9 L608.6,88.8 L609.1,88.7 L609.6,88.5 L610.1,88.4 L610.6,88.2 L611.1,88.1 L611.6,88.0 L612.1,87.8 L612.6,87.7 L613.1,87.6 L613.6,87.4 L614.1,87.3 L614.6,87.1 L615.1,87.0 L615.6,86.8 L616.1,86.7 L616.6,86.6 L617.1,86.4 L617.6,86.3 L618.1,86.1 L618.6,86.0 L619.1,85.8 L619.6,85.7 L620.1,85.5 L620.6,85.4 L621.1,85.3 L621.6,85.1 L622.1,85.0 L622.6,84.8 L623.1,84.7 L623.6,84.5 L624.1,84.4 L624.6,84.2 L625.1,84.1 L625.6,83.9 L626.1,83.8 L626.6,83.6"/>
<path stroke="#808000" d="M627.0,87.1 L622.5,88.8 L617.9,90.6 L613.3,92.4 L608.7,94.2 L604.3,95.8 L600.0,97.4 L596.6,98.6 L593.4,99.7 L590.3,100.7 L587.1,101.8 L583.7,102.8 L580.0,103.9 L574.0,105.7 L567.2,107.6 L560.0,109.6 L552.8,111.6 L546.0,113.4 L540.0,115.1 L536.3,116.0 L532.8,116.9 L529.6,117.8 L526.4,118.6 L523.3,119.4 L520.0,120.2 L516.6,121.1 L513.1,122.1 L509.6,123.0 L506.2,123.9 L502.9,124.8 L500.0,125.7 L498.1,126.2 L496.4,126.7 L494.8,127.2 L493.2,127.7 L491.6,128.2 L490.0,128.7 L488.3,129.2 L486.7,129.8 L485.0,130.3 L483.3,130.8 L481.7,131.4 L480.0,132.0 L478.3,132.6 L476.7,133.2 L475.1,133.8 L473.4,134.4 L471.8,135.1 L470.0,135.8 L467.7,136.8 L465.3,137.7 L462.8,138.7 L460.3,139.8 L458.0,140.9 L455.9,142.1 L454.4,143.2 L453.0,144.2 L451.6,145.4 L450.4,146.5 L449.2,147.7 L448.1,148.9 L447.1,150.0 L446.2,151.1 L445.3,152.3 L444.5,153.4 L443.7,154.6 L442.9,155.7 L442.3,156.7 L441.7,157.8 L441.1,158.8 L440.6,159.9 L440.1,160.9 L439.5,162.0 L439.0,163.0 L438.5,164.1 L438.1,165.1 L437.6,166.2 L437.1,167.2 L436.7,168.2 L436.3,169.1 L435.9,170.0 L435.5,170.9 L435.1,171.8 L434.7,172.6 L434.3,173.5 L434.0,174.2 L433.7,174.9 L433.5,175.5 L433.2,176.2 L432.9,176.9 L432.5,177.6 L432.0,178.7 L431.4,179.8 L430.8,181.0 L430.2,182.1 L429.5,183.2 L428.9,184.1 L428.5,184.7 L428.0,185.3 L427.6,185.8 L427.2,186.3 L426.7,186.8 L426.3,187.1 L425.8,187.4 L425.4,187.6 L425.0,187.8 L424.5,187.9 L424.1,188.0 L423.6,188.1 L423.1,188.1 L422.7,188.0 L422.2,188.0 L421.8,187.8 L421.3,187.7 L420.7,187.5 L419.7,187.2 L418.5,186.8 L417.2,186.4 L415.9,185.9 L414.6,185.3 L413.2,184.7 L411.7,183.8 L410.1,182.9 L408.5,181.8 L406.8,180.8 L405.1,179.7 L403.4,178.7 L401.6,177.6 L399.8,176.5 L397.9,175.4 L395.9,174.3 L394.0,173.3 L391.9,172.4 L389.6,171.6 L387.2,170.9 L384.8,170.2 L382.3,169.7 L379.9,169.2 L377.5,168.8 L375.5,168.5 L373.4,168.3 L371.3,168.1 L369.3,168.0 L367.5,168.0 L366.0,168.0 L365.3,168.0 L364.6,168.1 L364.1,168.1 L363.5,168.2 L363.0,168.3 L362.4,168.4 L361.6,168.6 L360.9,168.9 L360.2,169.2 L359.5,169.6 L358.7,169.9 L358.1,170.4 L357.4,170.8 L356.8,171.4 L356.1,171.9 L355.6,172.5 L355.0,173.2 L354.4,173.8 L353.9,174.6 L353.3,175.4 L352.8,176.2 L352.3,177.1 L351.9,178.0 L351.4,178.8 L351.1,179.6 L350.8,180.3 L350.5,181.0 L350.2,181.7 L349.9,182.6 L349.6,183.6 L348.9,186.0 L348.2,189.0 L347.4,192.3 L346.6,195.8 L345.7,199.3 L344.9,202.4 L344.1,205.1 L343.3,207.6 L342.4,210.1 L341.5,212.6 L340.7,215.1 L340.0,217.6 L339.3,220.2 L338.6,222.7 L338.0,225.2 L337.5,227.8 L336.9,230.3 L336.4,232.9 L335.9,235.4 L335.5,237.9 L335.1,240.4 L334.7,243.0 L334.3,245.5 L334.0,248.1 L333.7,250.6 L333.4,253.1 L333.1,255.7 L332.8,258.2 L332.6,260.7 L332.3,263.3 L332.0,265.8 L331.7,268.3 L331.4,270.9 L331.1,273.4 L330.8,275.9 L330.5,278.5 L330.2,281.0 L330.0,283.5 L329.7,286.1 L329.5,288.6 L329.2,291.2 L328.9,293.7 L328.7,296.3 L328.4,298.9 L328.1,301.6 L327.9,304.2 L327.6,306.6 L327.2,308.9 L327.0,310.5 L326.7,312.0 L326.4,313.4 L326.0,314.8 L325.7,316.1 L325.4,317.4 L325.1,318.5 L324.8,319.5 L324.6,320.6 L324.3,321.6 L324.0,322.5 L323.7,323.4 L323.5,324.1 L323.3,324.7 L323.0,325.3 L322.8,325.8 L322.6,326.4 L322.3,326.9 L321.9,327.4 L321.6,328.0 L321.2,328.5 L320.8,329.0 L320.4,329.3 L320.0,329.4 L319.7,329.3 L319.3,329.0 L319.0,328.5 L318.6,328.0 L318.3,327.4 L318.1,326.9 L317.8,326.4 L317.6,325.8 L317.5,325.3 L317.3,324.7 L317.2,324.1 L317.0,323.4 L316.8,322.5 L316.6,321.6 L316.4,320.6 L316.2,319.5 L316.0,318.5 L315.8,317.4 L315.6,316.1 L315.4,314.8 L315.1,313.5 L314.9,312.1 L314.7,310.6 L314.5,308.9 L314.1,305.9 L313.7,302.4 L313.3,298.6 L312.9,294.8 L312.4,290.9 L312.0,287.1 L311.6,283.5 L311.2,279.9 L310.8,276.3 L310.4,272.6 L310.0,269.0 L309.6,265.4 L309.1,261.8 L308.7,258.1 L308.3,254.5 L307.9,250.9 L307.5,247.2 L307.1,243.6 L306.7,240.0 L306.3,236.4 L305.8,232.7 L305.4,229.1 L305.0,225.5 L304.6,221.9 L304.2,218.1 L303.8,214.1 L303.3,210.1 L302.9,206.3 L302.5,202.9 L302.1,200.1 L302.0,199.0 L301.9,198.1 L301.7,197.2 L301.6,196.4 L301.4,195.6 L301.2,194.8 L301.0,193.8 L300.7,192.8 L300.4,191.8 L300.0,190.8 L299.6,189.9 L299.2,188.9 L298.8,188.1 L298.3,187.3 L297.9,186.6 L297.4,185.8 L296.8,185.1 L296.2,184.5 L295.7,183.9 L295.0,183.3 L294.4,182.8 L293.7,182.3 L293.0,181.8 L292.4,181.4 L291.8,181.1 L291.2,180.9 L290.6,180.6 L290.0,180.4 L289.4,180.2 L288.8,180.1 L288.4,179.9 L288.0,179.9 L287.6,179.8 L287.2,179.7 L286.7,179.7 L286.2,179.6 L284.6,179.4 L282.6,179.1 L280.4,178.9 L278.1,178.7 L275.9,178.4 L274.2,178.3 L273.4,178.2 L272.8,178.1 L272.2,178.0 L271.6,178.0 L270.9,177.9 L270.0,177.8 L267.5,177.5 L264.4,177.2 L260.9,176.8 L257.2,176.4 L253.5,176.0 L250.0,175.6 L246.7,175.2 L243.4,174.8 L240.1,174.3 L236.7,173.9 L233.4,173.6 L230.0,173.4 L226.4,173.3 L222.7,173.3 L219.1,173.4 L215.4,173.5 L211.7,173.7 L208.0,173.8 L204.3,173.8 L200.6,173.9 L197.0,174.0 L193.3,174.1 L189.6,174.2 L186.0,174.3 L182.4,174.4 L178.8,174.5 L175.2,174.6 L171.6,174.7 L168.2,174.7 L165.0,174.8 L162.6,174.9 L160.3,175.0 L158.2,175.0 L156.0,175.1 L154.0,175.2 L152.0,175.2 L150.4,175.3 L148.9,175.3 L147.4,175.4 L145.9,175.4 L143.9,175.6 L142.9,174.9 L142.9,173.9 L143.6,174.4 L144.1,173.6 L144.6,172.9 L145.1,172.3 L145.6,171.8 L146.1,171.3 L146.6,170.9 L147.1,170.6 L147.6,170.3 L148.1,170.0 L148.6,169.7 L149.1,169.4 L149.6,169.2 L150.1,169.0 L150.6,168.8 L151.1,168.6 L151.6,168.4 L152.1,168.3 L152.6,168.1 L153.1,167.9 L153.6,167.8 L154.1,167.6 L154.6,167.5 L155.1,167.3 L155.6,167.2 L156.1,167.1 L156.6,166.9 L157.1,166.8 L157.6,166.7 L158.1,166.5 L158.6,166.4 L159.1,166.3 L159.6,166.2 L160.1,166.0 L160.6,165.9 L161.1,165.8 L161.6,165.7 L162.1,165.6 L162.6,165.4 L163.1,165.3 L163.6,165.2 L164.1,165.1 L164.6,165.0 L165.1,164.9 L165.6,164.8 L166.1,164.7 L166.6,164.6 L167.1,164.4 L167.6,164.3 L168.1,164.2 L168.6,164.1 L169.1,164.0 L169.6,163.9 L170.1,163.8 L170.6,163.7 L171.1,163.6 L171.6,163.5 L172.1,163.4 L172.6,163.3 L173.1,163.2 L173.6,163.1 L174.1,163.1 L174.6,163.0 L175.1,162.9 L175.6,162.8 L176.1,162.7 L176.6,162.6 L177.1,162.5 L177.6,162.4 L178.1,162.3 L178.6,162.2 L179.1,162.1 L179.6,162.1 L180.1,162.0 L180.6,161.9 L181.1,161.8 L181.6,161.7 L182.1,161.6 L182.6,161.6 L183.1,161.5 L183.6,161.4 L184.1,161.3 L184.6,161.2 L185.1,161.2 L185.6,161.1 L186.1,161.0 L186.6,160.9 L187.1,160.8 L187.6,160.8 L188.1,160.7 L188.6,160.6 L189.1,160.5 L189.6,160.5 L190.1,160.4 L190.6,160.3 L191.1,160.3 L191.6,160.2 L192.1,160.1 L192.6,160.0 L193.1,160.0 L193.6,159.9 L194.1,159.8 L194.6,159.8 L195.1,159.7 L195.6,159.6 L196.1,159.6 L196.6,159.5 L197.1,159.4 L197.6,159.4 L198.1,159.3 L198.6,159.2 L199.1,159.2 L199.6,159.1 L200.1,159.0 L200.6,159.0 L201.1,158.9 L201.6,158.9 L202.1,158.8 L202.6,158.7 L203.1,158.7 L203.6,158.6 L204.1,158.6 L204.6,158.5 L205.1,158.4 L205.6,158.4 L206.1,158.3 L206.6,158.3 L207.1,158.2 L207.6,158.2 L208.1,158.1 L208.6,158.0 L209.1,158.0 L209.6,157.9 L210.1,157.9 L210.6,157.8 L211.1,157.8 L211.6,157.7 L212.1,157.7 L212.6,157.6 L213.1,157.6 L213.6,157.5 L214.1,157.5 L214.6,157.4 L215.1,157.3 L215.6,157.3 L216.1,157.2 L216.6,157.2 L217.1,157.1 L217.6,157.1 L218.1,157.0 L218.6,157.0 L219.1,156.9 L219.6,156.9 L220.1,156.8 L220.6,156.8 L221.1,156.8 L221.6,156.7 L222.1,156.7 L222.6,156.6 L223.1,156.6 L223.6,156.5 L224.1,156.5 L224.6,156.4 L225.1,156.4 L225.6,156.3 L226.1,156.3 L226.6,156.2 L227.1,156.2 L227.6,156.2 L228.1,156.1 L228.6,156.1 L229.1,156.0 L229.6,156.0 L230.1,155.9 L230.6,155.9 L231.1,155.9 L231.6,155.8 L232.1,155.8 L232.6,155.7 L233.1,155.7 L233.6,155.6 L234.1,155.6 L234.6,155.6 L235.1,155.5 L235.6,155.5 L236.1,155.4 L236.6,155.4 L237.1,155.4 L237.6,155.3 L238.1,155.3 L238.6,155.2 L239.1,155.2 L239.6,155.2 L240.1,155.1 L240.6,155.1 L241.1,155.1 L241.6,155.0 L242.1,155.0 L242.6,155.0 L243.1,154.9 L243.6,154.9 L244.1,154.9 L244.6,154.8 L245.1,154.8 L245.6,154.7 L246.1,154.7 L246.6,154.7 L247.1,154.6 L247.6,154.6 L248.1,154.5 L248.6,154.5 L249.1,154.5 L249.6,154.4 L250.1,154.4 L250.6,154.3 L251.1,154.3 L251.6,154.2 L252.1,154.2 L252.6,154.1 L253.1,154.1 L253.6,154.0 L254.1,153.9 L254.6,153.9 L255.1,153.8 L255.6,153.8 L256.1,153.7 L256.6,153.6 L257.1,153.6 L257.6,153.5 L258.1,153.4 L258.6,153.4 L259.1,153.3 L259.6,153.2 L260.1,153.2 L260.6,153.1 L261.1,153.0 L261.6,153.0 L262.1,152.9 L262.6,152.8 L263.1,152.8 L263.6,152.7 L264.1,152.6 L264.6,152.6 L265.1,152.5 L265.6,152.4 L266.1,152.4 L266.6,152.3 L267.1,152.2 L267.6,152.1 L268.1,152.0 L268.6,151.9 L269.1,151.9 L269.6,151.8 L270.1,151.7 L270.6,151.6 L271.1,151.5 L271.6,151.3 L272.1,151.2 L272.6,151.1 L273.1,151.0 L273.6,150.9 L274.1,150.7 L274.6,150.6 L275.1,150.5 L275.6,150.3 L276.1,150.2 L276.6,150.0 L277.1,149.9 L277.6,149.7 L278.1,149.6 L278.6,149.4 L279.1,149.3 L279.6,149.1 L280.1,149.0 L280.6,148.8 L281.1,148.7 L281.6,148.5 L282.1,148.3 L282.6,148.1 L283.1,148.0 L283.6,147.8 L284.1,147.6 L284.6,147.4 L285.1,147.2 L285.6,147.1 L286.1,146.9 L286.6,146.7 L287.1,146.5 L287.6,146.4 L288.1,146.2 L288.6,146.0 L289.1,145.9 L289.6,145.7 L290.1,145.6 L290.6,145.5 L291.1,145.3 L291.6,145.2 L292.1,145.1 L292.6,144.9 L293.1,144.8 L293.6,144.7 L294.1,144.6 L294.6,144.5 L295.1,144.4 L295.6,144.3 L296.1,144.2 L296.6,144.0 L297.1,143.9 L297.6,143.8 L298.1,143.7 L298.6,143.6 L299.1,143.5 L299.6,143.4 L300.1,143.4 L300.6,143.3 L301.1,143.2 L301.6,143.1 L302.1,143.0 L302.6,142.9 L303.1,142.8 L303.6,142.7 L304.1,142.6 L304.6,142.6 L305.1,142.5 L305.6,142.4 L306.1,142.3 L306.6,142.2 L307.1,142.2 L307.6,142.1 L308.1,142.0 L308.6,141.9 L309.1,141.9 L309.6,141.8 L310.1,141.7 L310.6,141.6 L311.1,141.6 L311.6,141.5 L312.1,141.4 L312.6,141.4 L313.1,141.3 L313.6,141.2 L314.1,141.1 L314.6,141.1 L315.1,141.0 L315.6,140.9 L316.1,140.9 L316.6,140.8 L317.1,140.7 L317.6,140.7 L318.1,140.6 L318.6,140.6 L319.1,140.5 L319.6,140.4 L320.1,140.4 L320.6,140.3 L321.1,140.3 L321.6,140.2 L322.1,140.2 L322.6,140.1 L323.1,140.1 L323.6,140.0 L324.1,140.0 L324.6,139.9 L325.1,139.9 L325.6,139.8 L326.1,139.8 L326.6,139.8 L327.1,139.7 L327.6,139.7 L328.1,139.6 L328.6,139.6 L329.1,139.6 L329.6,139.5 L330.1,139.5 L330.6,139.5 L331.1,139.4 L331.6,139.4 L332.1,139.4 L332.6,139.3 L333.1,139.3 L333.6,139.3 L334.1,139.3 L334.6,139.3 L335.1,139.2 L335.6,139.2 L336.1,139.2 L336.6,139.2 L337.1,139.2 L337.6,139.1 L338.1,139.1 L338.6,139.1 L339.1,139.1 L339.6,139.1 L340.1,139.1 L340.6,139.0 L341.1,139.0 L341.6,139.0 L342.1,139.0 L342.6,139.0 L343.1,138.9 L343.6,138.9 L344.1,138.9 L344.6,138.9 L345.1,138.8 L345.6,138.8 L346.1,138.8 L346.6,138.8 L347.1,138.7 L347.6,138.7 L348.1,138.7 L348.6,138.6 L349.1,138.6 L349.6,138.5 L350.1,138.5 L350.6,138.4 L351.1,138.4 L351.6,138.3 L352.1,138.2 L352.6,138.1 L353.1,138.0 L353.6,137.9 L354.1,137.7 L354.6,137.5 L355.1,137.3 L355.6,137.0 L356.1,136.8 L356.6,136.5 L357.1,136.2 L357.6,135.8 L358.1,135.4 L358.6,135.0 L359.1,134.5 L359.6,133.9 L360.1,133.4 L360.6,132.7 L361.1,132.1 L361.6,131.4 L362.1,130.8 L362.6,130.1 L363.1,129.4 L363.6,128.8 L364.1,128.1 L364.6,127.5 L365.1,126.9 L365.6,126.3 L366.1,125.7 L366.6,125.2 L367.1,124.7 L367.6,124.2 L368.1,123.7 L368.6,123.3 L369.1,122.9 L369.6,122.5 L370.1,122.2 L370.6,121.8 L371.1,121.5 L371.6,121.2 L372.1,121.0 L372.6,120.7 L373.1,120.5 L373.6,120.2 L374.1,120.0 L374.6,119.8 L375.1,119.6 L375.6,119.5 L376.1,119.3 L376.6,119.1 L377.1,119.0 L377.6,118.9 L378.1,118.7 L378.6,118.6 L379.1,118.5 L379.6,118.4 L380.1,118.3 L380.6,118.2 L381.1,118.1 L381.6,118.0 L382.1,117.9 L382.6,117.8 L383.1,117.7 L383.6,117.7 L384.1,117.6 L384.6,117.5 L385.1,117.4 L385.6,117.4 L386.1,117.3 L386.6,117.2 L387.1,117.2 L387.6,117.1 L388.1,117.0 L388.6,117.0 L389.1,116.9 L389.6,116.8 L390.1,116.8 L390.6,116.7 L391.1,116.6 L391.6,116.6 L392.1,116.5 L392.6,116.4 L393.1,116.4 L393.6,116.3 L394.1,116.2 L394.6,116.2 L395.1,116.1 L395.6,116.0 L396.1,115.9 L396.6,115.8 L397.1,115.7 L397.6,115.7 L398.1,115.6 L398.6,115.5 L399.1,115.4 L399.6,115.3 L400.1,115.2 L400.6,115.1 L401.1,115.0 L401.6,114.9 L402.1,114.8 L402.6,114.7 L403.1,114.6 L403.6,114.5 L404.1,114.4 L404.6,114.3 L405.1,114.3 L405.6,114.2 L406.1,114.1 L406.6,114.0 L407.1,114.0 L407.6,113.9 L408.1,113.9 L408.6,113.8 L409.1,113.8 L409.6,113.8 L410.1,113.7 L410.6,113.7 L411.1,113.7 L411.6,113.7 L412.1,113.7 L412.6,113.7 L413.1,113.7 L413.6,113.8 L414.1,113.8 L414.6,113.8 L415.1,113.8 L415.6,113.9 L416.1,113.9 L416.6,113.9 L417.1,114.0 L417.6,114.0 L418.1,114.1 L418.6,114.1 L419.1,114.2 L419.6,114.2 L420.1,114.3 L420.6,114.3 L421.1,114.4 L421.6,114.4 L422.1,114.5 L422.6,114.5 L423.1,114.6 L423.6,114.6 L424.1,114.7 L424.6,114.7 L425.1,114.8 L425.6,114.8 L426.1,114.9 L426.6,114.9 L427.1,115.0 L427.6,115.0 L428.1,115.1 L428.6,115.1 L429.1,115.1 L429.6,115.2 L430.1,115.2 L430.6,115.2 L431.1,115.3 L431.6,115.3 L432.1,115.3 L432.6,115.3 L433.1,115.4 L433.6,115.4 L434.1,115.4 L434.6,115.4 L435.1,115.4 L435.6,115.4 L436.1,115.4 L436.6,115.4 L437.1,115.4 L437.6,115.4 L438.1,115.4 L438.6,115.4 L439.1,115.4 L439.6,115.4 L440.1,115.3 L440.6,115.3 L441.1,115.3 L441.6,115.3 L442.1,115.3 L442.6,115.3 L443.1,115.3 L443.6,115.2 L444.1,115.2 L444.6,115.2 L445.1,115.2 L445.6,115.2 L446.1,115.1 L446.6,115.1 L447.1,115.1 L447.6,115.1 L448.1,115.0 L448.6,115.0 L449.1,115.0 L449.6,114.9 L450.1,114.9 L450.6,114.9 L451.1,114.8 L451.6,114.8 L452.1,114.7 L452.6,114.7 L453.1,114.6 L453.6,114.6 L454.1,114.5 L454.6,114.4 L455.1,114.3 L455.6,114.2 L456.1,114.0 L456.6,113.8 L457.1,113.5 L457.6,113.1 L458.1,112.6 L458.6,112.0 L459.1,111.2 L459.6,110.3 L460.1,109.4 L460.6,108.3 L461.1,107.3 L461.6,106.2 L462.1,105.1 L462.6,104.0 L463.1,102.9 L463.6,101.8 L464.1,100.7 L464.6,99.6 L465.1,98.5 L465.6,97.4 L466.1,96.4 L466.6,95.3 L467.1,94.2 L467.6,93.2 L468.1,92.2 L468.6,91.1 L469.1,90.1 L469.6,89.2 L470.1,88.3 L470.6,87.4 L471.1,86.6 L471.6,85.9 L472.1,85.2 L472.6,84.6 L473.1,84.0 L473.6,83.5 L474.1,83.1 L474.6,82.6 L475.1,82.3 L475.6,81.9 L476.1,81.6 L476.6,81.4 L477.1,81.1 L477.6,80.9 L478.1,80.7 L478.6,80.6 L479.1,80.4 L479.6,80.3 L480.1,80.2 L480.6,80.1 L481.1,80.0 L481.6,80.0 L482.1,80.0 L482.6,80.0 L483.1,80.0 L483.6,80.0 L484.1,80.1 L484.6,80.1 L485.1,80.2 L485.6,80.3 L486.1,80.4 L486.6,80.5 L487.1,80.6 L487.6,80.7 L488.1,80.9 L488.6,81.0 L489.1,81.2 L489.6,81.4 L490.1,81.6 L490.6,81.8 L491.1,82.0 L491.6,82.2 L492.1,82.4 L492.6,82.6 L493.1,82.9 L493.6,83.1 L494.1,83.4 L494.6,83.6 L495.1,83.9 L495.6,84.1 L496.1,84.4 L496.6,84.7 L497.1,84.9 L497.6,85.2 L498.1,85.5 L498.6,85.7 L499.1,86.0 L499.6,86.3 L500.1,86.5 L500.6,86.8 L501.1,87.1 L501.6,87.3 L502.1,87.6 L502.6,87.8 L503.1,88.1 L503.6,88.3 L504.1,88.6 L504.6,88.8 L505.1,89.1 L505.6,89.3 L506.1,89.5 L506.6,89.8 L507.1,90.0 L507.6,90.2 L508.1,90.4 L508.6,90.6 L509.1,90.8 L509.6,91.0 L510.1,91.1 L510.6,91.3 L511.1,91.5 L511.6,91.7 L512.1,91.8 L512.6,92.0 L513.1,92.1 L513.6,92.2 L514.1,92.4 L514.6,92.5 L515.1,92.6 L515.6,92.7 L516.1,92.9 L516.6,93.0 L517.1,93.1 L517.6,93.2 L518.1,93.3 L518.6,93.3 L519.1,93.4 L519.6,93.5 L520.1,93.6 L520.6,93.6 L521.1,93.7 L521.6,93.8 L522.1,93.8 L522.6,93.9 L523.1,93.9 L523.6,94.0 L524.1,94.0 L524.6,94.1 L525.1,94.1 L525.6,94.2 L526.1,94.2 L526.6,94.2 L527.1,94.2 L527.6,94.3 L528.1,94.3 L528.6,94.3 L529.1,94.3 L529.6,94.4 L530.1,94.4 L530.6,94.4 L531.1,94.4 L531.6,94.4 L532.1,94.5 L532.6,94.5 L533.1,94.5 L533.6,94.5 L534.1,94.5 L534.6,94.5 L535.1,94.5 L535.6,94.5 L536.1,94.5 L536.6,94.5 L537.1,94.5 L537.6,94.5 L538.1,94.6 L538.6,94.6 L539.1,94.6 L539.6,94.6 L540.1,94.6 L540.6,94.6 L541.1,94.6 L541.6,94.6 L542.1,94.6 L542.6,94.6 L543.1,94.6 L543.6,94.6 L544.1,94.6 L544.6,94.6 L545.1,94.6 L545.6,94.6 L546.1,94.6 L546.6,94.6 L547.1,94.6 L547.6,94.6 L548.1,94.6 L548.6,94.6 L549.1,94.6 L549.6,94.6 L550.1,94.6 L550.6,94.6 L551.1,94.6 L551.6,94.6 L552.1,94.6 L552.6,94.6 L553.1,94.6 L553.6,94.6 L554.1,94.6 L554.6,94.6 L555.1,94.6 L555.6,94.6 L556.1,94.6 L556.6,94.6 L557.1,94.6 L557.6,94.6 L558.1,94.6 L558.6,94.6 L559.1,94.6 L559.6,94.6 L560.1,94.6 L560.6,94.6 L561.1,94.5 L561.6,94.5 L562.1,94.5 L562.6,94.5 L563.1,94.4 L563.6,94.4 L564.1,94.3 L564.6,94.3 L565.1,94.2 L565.6,94.2 L566.1,94.1 L566.6,94.1 L567.1,94.0 L567.6,94.0 L568.1,93.9 L568.6,93.9 L569.1,93.8 L569.6,93.8 L570.1,93.7 L570.6,93.6 L571.1,93.6 L571.6,93.5 L572.1,93.4 L572.6,93.4 L573.1,93.3 L573.6,93.2 L574.1,93.2 L574.6,93.1 L575.1,93.0 L575.6,92.9 L576.1,92.9 L576.6,92.8 L577.1,92.7 L577.6,92.6 L578.1,92.6 L578.6,92.5 L579.1,92.4 L579.6,92.3 L580.1,92.2 L580.6,92.2 L581.1,92.1 L581.6,92.0 L582.1,91.9 L582.6,91.8 L583.1,91.7 L583.6,91.7 L584.1,91.6 L584.6,91.5 L585.1,91.4 L585.6,91.3 L586.1,91.2 L586.6,91.1 L587.1,91.0 L587.6,90.9 L588.1,90.8 L588.6,90.8 L589.1,90.7 L589.6,90.6 L590.1,90.5 L590.6,90.4 L591.1,90.3 L591.6,90.2 L592.1,90.1 L592.6,90.0 L593.1,89.9 L593.6,89.8 L594.1,89.7 L594.6,89.6 L595.1,89.5 L595.6,89.4 L596.1,89.3 L596.6,89.2 L597.1,89.1 L597.6,89.0 L598.1,88.9 L598.6,88.8 L599.1,88.7 L599.6,88.5 L600.1,88.4 L600.6,88.3 L601.1,88.2 L601.6,88.1 L602.1,88.0 L602.6,87.9 L603.1,87.8 L603.6,87.7 L604.1,87.6 L604.6,87.5 L605.1,87.3 L605.6,87.2 L606.1,87.1 L606.6,87.0 L607.1,86.9 L607.6,86.8 L608.1,86.7 L608.6,86.5 L609.1,86.4 L609.6,86.3 L610.1,86.2 L610.6,86.1 L611.1,86.0 L611.6,85.8 L612.1,85.7 L612.6,85.6 L613.1,85.5 L613.6,85.4 L614.1,85.2 L614.6,85.1 L615.1,85.0 L615.6,84.9 L616.1,84.8 L616.6,84.6 L617.1,84.5 L617.6,84.4 L618.1,84.3 L618.6,84.1 L619.1,84.0 L619.6,83.9 L620.1,83.8 L620.6,83.6 L621.1,83.5 L621.6,83.4 L622.1,83.3 L622.6,83.1 L623.1,83.0 L623.6,82.9 L624.1,82.8 L624.6,82.6 L625.1,82.5 L625.6,82.4 L626.1,82.2 L626.6,82.1"/>
<path stroke="#000080" d="M627.0,86.4 L622.5,88.3 L617.9,90.1 L613.3,91.9 L608.7,93.8 L604.3,95.5 L600.0,97.1 L596.6,98.4 L593.4,99.5 L590.3,100.7 L587.1,101.8 L583.7,102.9 L580.0,104.1 L574.0,105.9 L567.2,107.8 L560.0,109.8 L552.8,111.8 L546.0,113.6 L540.0,115.2 L536.3,116.2 L532.8,117.1 L529.6,117.9 L526.4,118.7 L523.3,119.5 L520.0,120.4 L516.6,121.3 L513.1,122.2 L509.6,123.2 L506.2,124.1 L502.9,125.0 L500.0,125.8 L498.1,126.4 L496.4,126.9 L494.8,127.4 L493.2,127.9 L491.6,128.4 L490.0,128.9 L488.3,129.4 L486.7,130.0 L485.0,130.5 L483.3,131.1 L481.7,131.6 L480.0,132.2 L478.4,132.8 L476.7,133.4 L475.1,134.0 L473.5,134.6 L471.8,135.3 L470.0,136.1 L467.6,137.0 L465.0,138.1 L462.2,139.2 L459.6,140.4 L457.1,141.7 L454.8,143.0 L453.3,144.2 L451.8,145.4 L450.5,146.7 L449.2,148.0 L448.0,149.3 L446.9,150.6 L445.9,151.8 L444.9,153.1 L444.1,154.3 L443.2,155.6 L442.5,156.9 L441.7,158.2 L441.1,159.3 L440.5,160.5 L439.9,161.6 L439.4,162.8 L438.9,164.0 L438.3,165.1 L437.8,166.3 L437.3,167.5 L436.7,168.7 L436.2,169.8 L435.7,171.0 L435.2,172.1 L434.7,173.1 L434.3,174.1 L433.9,175.1 L433.4,176.0 L433.0,177.0 L432.6,177.9 L432.3,178.7 L432.0,179.5 L431.8,180.2 L431.5,181.0 L431.1,181.7 L430.8,182.6 L430.2,183.8 L429.5,185.1 L428.8,186.5 L428.0,187.9 L427.2,189.1 L426.4,190.2 L425.8,190.9 L425.2,191.5 L424.6,192.0 L424.0,192.5 L423.3,192.9 L422.7,193.2 L422.1,193.5 L421.5,193.8 L420.8,193.9 L420.2,194.1 L419.6,194.2 L419.0,194.2 L418.5,194.2 L418.1,194.1 L417.7,194.0 L417.3,193.9 L416.8,193.7 L416.3,193.6 L415.3,193.2 L414.2,192.8 L413.0,192.4 L411.8,191.8 L410.5,191.2 L409.3,190.6 L407.8,189.7 L406.3,188.7 L404.8,187.6 L403.3,186.5 L401.7,185.3 L400.1,184.2 L398.4,183.1 L396.7,181.9 L394.9,180.8 L393.1,179.6 L391.2,178.6 L389.3,177.7 L387.2,176.8 L384.9,176.0 L382.6,175.4 L380.3,174.8 L378.0,174.3 L375.8,173.8 L373.9,173.5 L371.9,173.3 L369.9,173.1 L368.1,173.0 L366.4,173.0 L365.0,173.0 L364.4,173.0 L363.8,173.0 L363.3,173.1 L362.8,173.2 L362.3,173.3 L361.8,173.4 L361.2,173.6 L360.5,173.8 L359.9,174.1 L359.2,174.4 L358.6,174.8 L358.0,175.2 L357.4,175.6 L356.8,176.1 L356.3,176.6 L355.7,177.2 L355.2,177.8 L354.7,178.4 L354.2,179.1 L353.7,179.8 L353.3,180.6 L352.8,181.4 L352.4,182.2 L352.0,183.0 L351.7,183.7 L351.4,184.3 L351.2,185.0 L350.9,185.7 L350.7,186.5 L350.4,187.4 L349.7,189.7 L349.0,192.5 L348.3,195.7 L347.5,199.0 L346.8,202.2 L345.9,205.2 L345.2,207.7 L344.3,210.1 L343.5,212.5 L342.7,214.8 L341.9,217.2 L341.1,219.6 L340.5,222.0 L339.9,224.4 L339.4,226.8 L338.9,229.2 L338.4,231.6 L337.9,234.0 L337.4,236.4 L337.0,238.8 L336.6,241.2 L336.2,243.6 L335.9,246.0 L335.5,248.4 L335.2,250.8 L334.9,253.2 L334.6,255.6 L334.3,258.0 L334.0,260.4 L333.6,262.8 L333.3,265.2 L333.0,267.7 L332.7,270.1 L332.4,272.5 L332.0,274.9 L331.7,277.3 L331.4,279.7 L331.1,282.1 L330.8,284.5 L330.5,286.9 L330.2,289.3 L329.9,291.7 L329.6,294.1 L329.3,296.5 L329.0,298.9 L328.7,301.3 L328.4,303.7 L328.2,306.1 L327.9,308.5 L327.6,311.0 L327.4,313.5 L327.1,316.0 L326.8,318.3 L326.5,320.5 L326.2,322.1 L325.9,323.6 L325.5,325.0 L325.2,326.4 L324.9,327.7 L324.5,329.0 L324.2,330.1 L323.9,331.1 L323.7,332.2 L323.4,333.2 L323.0,334.1 L322.7,335.0 L322.5,335.7 L322.3,336.3 L322.1,336.9 L321.8,337.4 L321.6,338.0 L321.3,338.5 L320.9,339.0 L320.5,339.6 L320.1,340.1 L319.7,340.6 L319.3,340.9 L318.9,341.0 L318.5,340.9 L318.2,340.6 L317.8,340.1 L317.4,339.6 L317.1,339.0 L316.8,338.5 L316.6,338.0 L316.4,337.4 L316.2,336.9 L316.0,336.3 L315.9,335.7 L315.7,335.0 L315.5,334.1 L315.3,333.2 L315.0,332.2 L314.8,331.1 L314.6,330.1 L314.4,329.0 L314.1,327.7 L313.9,326.4 L313.7,325.1 L313.5,323.7 L313.2,322.2 L313.0,320.5 L312.6,317.3 L312.2,313.7 L311.7,309.7 L311.3,305.6 L310.8,301.4 L310.4,297.5 L309.9,293.6 L309.5,289.8 L309.1,285.9 L308.6,282.1 L308.2,278.3 L307.8,274.4 L307.3,270.6 L306.9,266.7 L306.5,262.9 L306.0,259.1 L305.6,255.2 L305.1,251.4 L304.7,247.6 L304.3,243.7 L303.8,239.9 L303.4,236.0 L303.0,232.2 L302.5,228.4 L302.1,224.3 L301.6,220.1 L301.2,215.9 L300.7,211.8 L300.3,208.2 L299.9,205.3 L299.8,204.2 L299.6,203.2 L299.5,202.3 L299.3,201.5 L299.2,200.6 L299.0,199.7 L298.7,198.7 L298.4,197.6 L298.1,196.6 L297.7,195.5 L297.3,194.5 L296.9,193.6 L296.4,192.7 L296.0,191.9 L295.5,191.1 L294.9,190.3 L294.4,189.5 L293.8,188.9 L293.2,188.2 L292.5,187.6 L291.9,187.0 L291.2,186.5 L290.5,186.0 L289.8,185.6 L289.2,185.3 L288.6,185.0 L287.9,184.7 L287.3,184.5 L286.7,184.3 L286.1,184.1 L285.7,184.0 L285.3,183.9 L284.9,183.8 L284.5,183.8 L284.0,183.7 L283.4,183.6 L281.8,183.4 L279.6,183.1 L277.2,182.8 L274.9,182.6 L272.8,182.3 L271.4,182.2 L271.1,182.1 L270.9,182.1 L270.7,182.1 L270.5,182.1 L270.3,182.0 L270.0,182.0 L268.0,181.8 L265.1,181.4 L261.4,181.0 L257.5,180.5 L253.6,180.0 L250.0,179.6 L246.7,179.2 L243.4,178.7 L240.1,178.3 L236.7,177.8 L233.4,177.5 L230.0,177.2 L226.4,177.0 L222.7,177.0 L219.1,177.0 L215.4,177.1 L211.7,177.1 L208.0,177.2 L204.3,177.2 L200.6,177.2 L197.0,177.1 L193.3,177.1 L189.6,177.1 L186.0,177.1 L182.4,177.1 L178.8,177.1 L175.2,177.1 L171.6,177.1 L168.2,177.1 L165.0,177.1 L162.6,177.1 L160.3,177.1 L158.2,177.0 L156.0,177.0 L154.0,177.0 L152.0,177.0 L150.4,177.0 L148.9,177.0 L147.4,177.0 L145.9,177.0 L143.9,177.1 L142.9,176.4 L142.9,175.4 L143.6,175.8 L144.1,174.9 L144.6,174.2 L145.1,173.6 L145.6,173.0 L146.1,172.5 L146.6,172.1 L147.1,171.7 L147.6,171.3 L148.1,171.0 L148.6,170.7 L149.1,170.4 L149.6,170.2 L150.1,170.0 L150.6,169.8 L151.1,169.6 L151.6,169.4 L152.1,169.2 L152.6,169.0 L153.1,168.8 L153.6,168.7 L154.1,168.5 L154.6,168.3 L155.1,168.2 L155.6,168.0 L156.1,167.9 L156.6,167.7 L157.1,167.6 L157.6,167.5 L158.1,167.3 L158.6,167.2 L159.1,167.1 L159.6,166.9 L160.1,166.8 L160.6,166.7 L161.1,166.5 L161.6,166.4 L162.1,166.3 L162.6,166.2 L163.1,166.0 L163.6,165.9 L164.1,165.8 L164.6,165.7 L165.1,165.6 L165.6,165.4 L166.1,165.3 L166.6,165.2 L167.1,165.1 L167.6,165.0 L168.1,164.9 L168.6,164.8 L169.1,164.6 L169.6,164.5 L170.1,164.4 L170.6,164.3 L171.1,164.2 L171.6,164.1 L172.1,164.0 L172.6,163.9 L173.1,163.8 L173.6,163.7 L174.1,163.6 L174.6,163.5 L175.1,163.4 L175.6,163.3 L176.1,163.2 L176.6,163.1 L177.1,163.0 L177.6,162.9 L178.1,162.8 L178.6,162.7 L179.1,162.6 L179.6,162.5 L180.1,162.5 L180.6,162.4 L181.1,162.3 L181.6,162.2 L182.1,162.1 L182.6,162.0 L183.1,161.9 L183.6,161.8 L184.1,161.8 L184.6,161.7 L185.1,161.6 L185.6,161.5 L186.1,161.4 L186.6,161.3 L187.1,161.3 L187.6,161.2 L188.1,161.1 L188.6,161.0 L189.1,160.9 L189.6,160.9 L190.1,160.8 L190.6,160.7 L191.1,160.6 L191.6,160.6 L192.1,160.5 L192.6,160.4 L193.1,160.3 L193.6,160.3 L194.1,160.2 L194.6,160.1 L195.1,160.0 L195.6,160.0 L196.1,159.9 L196.6,159.8 L197.1,159.8 L197.6,159.7 L198.1,159.6 L198.6,159.6 L199.1,159.5 L199.6,159.4 L200.1,159.4 L200.6,159.3 L201.1,159.2 L201.6,159.2 L202.1,159.1 L202.6,159.0 L203.1,159.0 L203.6,158.9 L204.1,158.8 L204.6,158.8 L205.1,158.7 L205.6,158.7 L206.1,158.6 L206.6,158.5 L207.1,158.5 L207.6,158.4 L208.1,158.4 L208.6,158.3 L209.1,158.2 L209.6,158.2 L210.1,158.1 L210.6,158.1 L211.1,158.0 L211.6,158.0 L212.1,157.9 L212.6,157.8 L213.1,157.8 L213.6,157.7 L214.1,157.7 L214.6,157.6 L215.1,157.6 L215.6,157.5 L216.1,157.5 L216.6,157.4 L217.1,157.4 L217.6,157.3 L218.1,157.3 L218.6,157.2 L219.1,157.2 L219.6,157.1 L220.1,157.0 L220.6,157.0 L221.1,156.9 L221.6,156.9 L222.1,156.8 L222.6,156.8 L223.1,156.8 L223.6,156.7 L224.1,156.7 L224.6,156.6 L225.1,156.6 L225.6,156.5 L226.1,156.5 L226.6,156.4 L227.1,156.4 L227.6,156.3 L228.1,156.3 L228.6,156.2 L229.1,156.2 L229.6,156.1 L230.1,156.1 L230.6,156.1 L231.1,156.0 L231.6,156.0 L232.1,155.9 L232.6,155.9 L233.1,155.8 L233.6,155.8 L234.1,155.7 L234.6,155.7 L235.1,155.7 L235.6,155.6 L236.1,155.6 L236.6,155.5 L237.1,155.5 L237.6,155.5 L238.1,155.4 L238.6,155.4 L239.1,155.3 L239.6,155.3 L240.1,155.3 L240.6,155.2 L241.1,155.2 L241.6,155.2 L242.1,155.1 L242.6,155.1 L243.1,155.0 L243.6,155.0 L244.1,155.0 L244.6,154.9 L245.1,154.9 L245.6,154.9 L246.1,154.8 L246.6,154.8 L247.1,154.7 L247.6,154.7 L248.1,154.7 L248.6,154.6 L249.1,154.6 L249.6,154.5 L250.1,154.5 L250.6,154.4 L251.1,154.4 L251.6,154.3 L252.1,154.3 L252.6,154.2 L253.1,154.1 L253.6,154.1 L254.1,154.0 L254.6,153.9 L255.1,153.9 L255.6,153.8 L256.1,153.8 L256.6,153.7 L257.1,153.6 L257.6,153.6 L258.1,153.5 L258.6,153.4 L259.1,153.3 L259.6,153.3 L260.1,153.2 L260.6,153.1 L261.1,153.1 L261.6,153.0 L262.1,152.9 L262.6,152.9 L263.1,152.8 L263.6,152.7 L264.1,152.6 L264.6,152.6 L265.1,152.5 L265.6,152.4 L266.1,152.3 L266.6,152.2 L267.1,152.2 L267.6,152.1 L268.1,152.0 L268.6,151.9 L269.1,151.8 L269.6,151.7 L270.1,151.6 L270.6,151.5 L271.1,151.4 L271.6,151.3 L272.1,151.1 L272.6,151.0 L273.1,150.9 L273.6,150.8 L274.1,150.6 L274.6,150.5 L275.1,150.3 L275.6,150.2 L276.1,150.0 L276.6,149.9 L277.1,149.7 L277.6,149.6 L278.1,149.4 L278.6,149.2 L279.1,149.1 L279.6,148.9 L280.1,148.8 L280.6,148.6 L281.1,148.4 L281.6,148.2 L282.1,148.1 L282.6,147.9 L283.1,147.7 L283.6,147.5 L284.1,147.3 L284.6,147.1 L285.1,146.9 L285.6,146.7 L286.1,146.5 L286.6,146.3 L287.1,146.2 L287.6,146.0 L288.1,145.8 L288.6,145.6 L289.1,145.5 L289.6,145.3 L290.1,145.2 L290.6,145.0 L291.1,144.9 L291.6,144.7 L292.1,144.6 L292.6,144.5 L293.1,144.3 L293.6,144.2 L294.1,144.1 L294.6,144.0 L295.1,143.9 L295.6,143.7 L296.1,143.6 L296.6,143.5 L297.1,143.4 L297.6,143.3 L298.1,143.2 L298.6,143.1 L299.1,143.0 L299.6,142.9 L300.1,142.8 L300.6,142.7 L301.1,142.6 L301.6,142.5 L302.1,142.4 L302.6,142.3 L303.1,142.2 L303.6,142.1 L304.1,142.0 L304.6,142.0 L305.1,141.9 L305.6,141.8 L306.1,141.7 L306.6,141.6 L307.1,141.5 L307.6,141.5 L308.1,141.4 L308.6,141.3 L309.1,141.2 L309.6,141.1 L310.1,141.1 L310.6,141.0 L311.1,140.9 L311.6,140.8 L312.1,140.7 L312.6,140.7 L313.1,140.6 L313.6,140.5 L314.1,140.4 L314.6,140.4 L315.1,140.3 L315.6,140.2 L316.1,140.2 L316.6,140.1 L317.1,140.0 L317.6,139.9 L318.1,139.9 L318.6,139.8 L319.1,139.8 L319.6,139.7 L320.1,139.6 L320.6,139.6 L321.1,139.5 L321.6,139.5 L322.1,139.4 L322.6,139.4 L323.1,139.3 L323.6,139.3 L324.1,139.2 L324.6,139.2 L325.1,139.1 L325.6,139.1 L326.1,139.0 L326.6,139.0 L327.1,138.9 L327.6,138.9 L328.1,138.8 L328.6,138.8 L329.1,138.8 L329.6,138.7 L330.1,138.7 L330.6,138.7 L331.1,138.6 L331.6,138.6 L332.1,138.6 L332.6,138.5 L333.1,138.5 L333.6,138.5 L334.1,138.5 L334.6,138.4 L335.1,138.4 L335.6,138.4 L336.1,138.4 L336.6,138.4 L337.1,138.4 L337.6,138.3 L338.1,138.3 L338.6,138.3 L339.1,138.3 L339.6,138.3 L340.1,138.2 L340.6,138.2 L341.1,138.2 L341.6,138.2 L342.1,138.2 L342.6,138.2 L343.1,138.1 L343.6,138.1 L344.1,138.1 L344.6,138.1 L345.1,138.0 L345.6,138.0 L346.1,138.0 L346.6,138.0 L347.1,137.9 L347.6,137.9 L348.1,137.9 L348.6,137.8 L349.1,137.8 L349.6,137.7 L350.1,137.7 L350.6,137.6 L351.1,137.6 L351.6,137.5 L352.1,137.4 L352.6,137.3 L353.1,137.2 L353.6,137.0 L354.1,136.9 L354.6,136.7 L355.1,136.4 L355.6,136.2 L356.1,135.9 L356.6,135.6 L357.1,135.2 L357.6,134.9 L358.1,134.5 L358.6,134.0 L359.1,133.5 L359.6,132.9 L360.1,132.2 L360.6,131.6 L361.1,130.9 L361.6,130.2 L362.1,129.5 L362.6,128.8 L363.1,128.1 L363.6,127.4 L364.1,126.7 L364.6,126.0 L365.1,125.4 L365.6,124.7 L366.1,124.1 L366.6,123.6 L367.1,123.0 L367.6,122.5 L368.1,122.1 L368.6,121.6 L369.1,121.2 L369.6,120.8 L370.1,120.4 L370.6,120.0 L371.1,119.7 L371.6,119.4 L372.1,119.1 L372.6,118.8 L373.1,118.6 L373.6,118.3 L374.1,118.1 L374.6,117.9 L375.1,117.7 L375.6,117.5 L376.1,117.4 L376.6,117.2 L377.1,117.0 L377.6,116.9 L378.1,116.8 L378.6,116.6 L379.1,116.5 L379.6,116.4 L380.1,116.3 L380.6,116.2 L381.1,116.1 L381.6,116.0 L382.1,115.9 L382.6,115.8 L383.1,115.7 L383.6,115.6 L384.1,115.5 L384.6,115.5 L385.1,115.4 L385.6,115.3 L386.1,115.2 L386.6,115.2 L387.1,115.1 L387.6,115.0 L388.1,114.9 L388.6,114.9 L389.1,114.8 L389.6,114.7 L390.1,114.7 L390.6,114.6 L391.1,114.5 L391.6,114.4 L392.1,114.4 L392.6,114.3 L393.1,114.2 L393.6,114.2 L394.1,114.1 L394.6,114.0 L395.1,113.9 L395.6,113.8 L396.1,113.8 L396.6,113.7 L397.1,113.6 L397.6,113.5 L398.1,113.4 L398.6,113.3 L399.1,113.2 L399.6,113.1 L400.1,113.0 L400.6,112.9 L401.1,112.8 L401.6,112.7 L402.1,112.6 L402.6,112.4 L403.1,112.4 L403.6,112.3 L404.1,112.2 L404.6,112.1 L405.1,112.0 L405.6,111.9 L406.1,111.8 L406.6,111.8 L407.1,111.7 L407.6,111.6 L408.1,111.6 L408.6,111.5 L409.1,111.5 L409.6,111.5 L410.1,111.4 L410.6,111.4 L411.1,111.4 L411.6,111.4 L412.1,111.4 L412.6,111.4 L413.1,111.4 L413.6,111.5 L414.1,111.5 L414.6,111.5 L415.1,111.5 L415.6,111.5 L416.1,111.6 L416.6,111.6 L417.1,111.6 L417.6,111.6 L418.1,111.7 L418.6,111.7 L419.1,111.7 L419.6,111.8 L420.1,111.8 L420.6,111.9 L421.1,111.9 L421.6,111.9 L422.1,112.0 L422.6,112.0 L423.1,112.1 L423.6,112.1 L424.1,112.1 L424.6,112.2 L425.1,112.2 L425.6,112.3 L426.1,112.3 L426.6,112.3 L427.1,112.4 L427.6,112.4 L428.1,112.4 L428.6,112.5 L429.1,112.5 L429.6,112.5 L430.1,112.6 L430.6,112.6 L431.1,112.6 L431.6,112.6 L432.1,112.6 L432.6,112.7 L433.1,112.7 L433.6,112.7 L434.1,112.7 L434.6,112.7 L435.1,112.7 L435.6,112.7 L436.1,112.7 L436.6,112.7 L437.1,112.7 L437.6,112.7 L438.1,112.7 L438.6,112.6 L439.1,112.6 L439.6,112.6 L440.1,112.6 L440.6,112.6 L441.1,112.6 L441.6,112.5 L442.1,112.5 L442.6,112.5 L443.1,112.5 L443.6,112.4 L444.1,112.4 L444.6,112.4 L445.1,112.3 L445.6,112.3 L446.1,112.3 L446.6,112.2 L447.1,112.2 L447.6,112.1 L448.1,112.1 L448.6,112.1 L449.1,112.0 L449.6,112.0 L450.1,111.9 L450.6,111.9 L451.1,111.8 L451.6,111.8 L452.1,111.7 L452.6,111.6 L453.1,111.6 L453.6,111.5 L454.1,111.4 L454.6,111.3 L455.1,111.2 L455.6,111.1 L456.1,111.0 L456.6,110.8 L457.1,110.5 L457.6,110.2 L458.1,109.8 L458.6,109.2 L459.1,108.5 L459.6,107.7 L460.1,106.7 L460.6,105.7 L461.1,104.7 L461.6,103.6 L462.1,102.5 L462.6,101.4 L463.1,100.3 L463.6,99.2 L464.1,98.1 L464.6,97.0 L465.1,95.9 L465.6,94.8 L466.1,93.6 L466.6,92.5 L467.1,91.4 L467.6,90.4 L468.1,89.3 L468.6,88.2 L469.1,87.2 L469.6,86.2 L470.1,85.2 L470.6,84.2 L471.1,83.3 L471.6,82.4 L472.1,81.5 L472.6,80.8 L473.1,80.1 L473.6,79.4 L474.1,78.9 L474.6,78.3 L475.1,77.9 L475.6,77.4 L476.1,77.0 L476.6,76.6 L477.1,76.3 L477.6,76.0 L478.1,75.7 L478.6,75.5 L479.1,75.3 L479.6,75.1 L480.1,74.9 L480.6,74.8 L481.1,74.7 L481.6,74.6 L482.1,74.5 L482.6,74.4 L483.1,74.3 L483.6,74.3 L484.1,74.3 L484.6,74.3 L485.1,74.3 L485.6,74.3 L486.1,74.4 L486.6,74.4 L487.1,74.5 L487.6,74.6 L488.1,74.7 L488.6,74.8 L489.1,75.0 L489.6,75.1 L490.1,75.2 L490.6,75.4 L491.1,75.6 L491.6,75.8 L492.1,76.0 L492.6,76.2 L493.1,76.4 L493.6,76.6 L494.1,76.8 L494.6,77.0 L495.1,77.3 L495.6,77.5 L496.1,77.8 L496.6,78.1 L497.1,78.3 L497.6,78.6 L498.1,78.9 L498.6,79.1 L499.1,79.4 L499.6,79.7 L500.1,80.0 L500.6,80.3 L501.1,80.5 L501.6,80.8 L502.1,81.1 L502.6,81.4 L503.1,81.7 L503.6,82.0 L504.1,82.3 L504.6,82.5 L505.1,82.8 L505.6,83.1 L506.1,83.3 L506.6,83.6 L507.1,83.9 L507.6,84.1 L508.1,84.4 L508.6,84.6 L509.1,84.9 L509.6,85.1 L510.1,85.4 L510.6,85.6 L511.1,85.8 L511.6,86.0 L512.1,86.2 L512.6,86.4 L513.1,86.6 L513.6,86.8 L514.1,87.0 L514.6,87.2 L515.1,87.4 L515.6,87.5 L516.1,87.7 L516.6,87.9 L517.1,88.0 L517.6,88.2 L518.1,88.3 L518.6,88.4 L519.1,88.6 L519.6,88.7 L520.1,88.8 L520.6,88.9 L521.1,89.0 L521.6,89.1 L522.1,89.2 L522.6,89.3 L523.1,89.4 L523.6,89.5 L524.1,89.6 L524.6,89.7 L525.1,89.7 L525.6,89.8 L526.1,89.9 L526.6,89.9 L527.1,90.0 L527.6,90.0 L528.1,90.1 L528.6,90.1 L529.1,90.2 L529.6,90.2 L530.1,90.3 L530.6,90.3 L531.1,90.4 L531.6,90.4 L532.1,90.4 L532.6,90.4 L533.1,90.5 L533.6,90.5 L534.1,90.5 L534.6,90.5 L535.1,90.6 L535.6,90.6 L536.1,90.6 L536.6,90.6 L537.1,90.6 L537.6,90.6 L538.1,90.7 L538.6,90.7 L539.1,90.7 L539.6,90.7 L540.1,90.7 L540.6,90.7 L541.1,90.7 L541.6,90.7 L542.1,90.7 L542.6,90.7 L543.1,90.7 L543.6,90.7 L544.1,90.8 L544.6,90.8 L545.1,90.8 L545.6,90.8 L546.1,90.8 L546.6,90.8 L547.1,90.8 L547.6,90.8 L548.1,90.8 L548.6,90.8 L549.1,90.8 L549.6,90.8 L550.1,90.8 L550.6,90.8 L551.1,90.8 L551.6,90.8 L552.1,90.8 L552.6,90.8 L553.1,90.8 L553.6,90.8 L554.1,90.8 L554.6,90.8 L555.1,90.8 L555.6,90.8 L556.1,90.8 L556.6,90.8 L557.1,90.8 L557.6,90.8 L558.1,90.8 L558.6,90.8 L559.1,90.8 L559.6,90.8 L560.1,90.8 L560.6,90.8 L561.1,90.8 L561.6,90.7 L562.1,90.7 L562.6,90.7 L563.1,90.7 L563.6,90.6 L564.1,90.6 L564.6,90.6 L565.1,90.5 L565.6,90.5 L566.1,90.5 L566.6,90.4 L567.1,90.4 L567.6,90.3 L568.1,90.3 L568.6,90.3 L569.1,90.2 L569.6,90.2 L570.1,90.1 L570.6,90.1 L571.1,90.0 L571.6,90.0 L572.1,89.9 L572.6,89.8 L573.1,89.8 L573.6,89.7 L574.1,89.7 L574.6,89.6 L575.1,89.6 L575.6,89.5 L576.1,89.4 L576.6,89.4 L577.1,89.3 L577.6,89.3 L578.1,89.2 L578.6,89.1 L579.1,89.1 L579.6,89.0 L580.1,88.9 L580.6,88.9 L581.1,88.8 L581.6,88.7 L582.1,88.6 L582.6,88.6 L583.1,88.5 L583.6,88.4 L584.1,88.4 L584.6,88.3 L585.1,88.2 L585.6,88.1 L586.1,88.1 L586.6,88.0 L587.1,87.9 L587.6,87.8 L588.1,87.7 L588.6,87.7 L589.1,87.6 L589.6,87.5 L590.1,87.4 L590.6,87.3 L591.1,87.3 L591.6,87.2 L592.1,87.1 L592.6,87.0 L593.1,86.9 L593.6,86.8 L594.1,86.8 L594.6,86.7 L595.1,86.6 L595.6,86.5 L596.1,86.4 L596.6,86.3 L597.1,86.2 L597.6,86.1 L598.1,86.0 L598.6,86.0 L599.1,85.9 L599.6,85.8 L600.1,85.7 L600.6,85.6 L601.1,85.5 L601.6,85.4 L602.1,85.3 L602.6,85.2 L603.1,85.1 L603.6,85.0 L604.1,84.9 L604.6,84.8 L605.1,84.7 L605.6,84.6 L606.1,84.5 L606.6,84.4 L607.1,84.3 L607.6,84.2 L608.1,84.1 L608.6,84.0 L609.1,83.9 L609.6,83.8 L610.1,83.7 L610.6,83.6 L611.1,83.5 L611.6,83.4 L612.1,83.3 L612.6,83.2 L613.1,83.1 L613.6,83.0 L614.1,82.9 L614.6,82.8 L615.1,82.7 L615.6,82.6 L616.1,82.5 L616.6,82.3 L617.1,82.2 L617.6,82.1 L618.1,82.0 L618.6,81.9 L619.1,81.8 L619.6,81.7 L620.1,81.6 L620.6,81.5 L621.1,81.4 L621.6,81.2 L622.1,81.1 L622.6,81.0 L623.1,80.9 L623.6,80.8 L624.1,80.7 L624.6,80.6 L625.1,80.4 L625.6,80.3 L626.1,80.2 L626.6,80.1"/>
<path stroke="#800000" d="M627.0,85.8 L622.5,87.7 L617.9,89.6 L613.3,91.5 L608.7,93.4 L604.3,95.2 L600.0,96.8 L596.6,98.2 L593.4,99.4 L590.3,100.6 L587.1,101.7 L583.7,102.9 L580.0,104.2 L574.0,106.0 L567.2,108.0 L560.0,110.0 L552.8,112.0 L546.0,113.8 L540.0,115.4 L536.3,116.4 L532.8,117.3 L529.6,118.1 L526.4,118.9 L523.3,119.7 L520.0,120.6 L516.6,121.5 L513.1,122.4 L509.6,123.3 L506.2,124.3 L502.9,125.2 L500.0,126.0 L498.1,126.5 L496.4,127.1 L494.8,127.6 L493.2,128.0 L491.6,128.5 L490.0,129.1 L488.3,129.6 L486.7,130.2 L485.0,130.7 L483.3,131.3 L481.7,131.9 L480.0,132.5 L478.4,133.1 L476.7,133.6 L475.1,134.2 L473.5,134.8 L471.8,135.5 L470.0,136.3 L467.4,137.3 L464.6,138.5 L461.7,139.7 L458.8,141.1 L456.1,142.5 L453.8,144.0 L452.2,145.3 L450.7,146.6 L449.3,148.0 L448.1,149.4 L446.9,150.9 L445.7,152.4 L444.7,153.7 L443.8,155.1 L443.0,156.5 L442.2,157.9 L441.4,159.3 L440.6,160.7 L440.0,162.0 L439.4,163.3 L438.8,164.6 L438.2,165.9 L437.6,167.1 L437.1,168.4 L436.5,169.7 L435.9,171.0 L435.3,172.3 L434.7,173.6 L434.2,174.9 L433.6,176.2 L433.2,177.3 L432.7,178.4 L432.3,179.4 L431.8,180.5 L431.4,181.6 L431.0,182.6 L430.7,183.5 L430.3,184.4 L430.0,185.2 L429.7,186.1 L429.4,186.9 L429.1,187.7 L428.8,188.5 L428.6,189.3 L428.3,190.0 L428.1,190.8 L427.8,191.5 L427.5,192.2 L427.1,193.0 L426.6,193.8 L426.1,194.5 L425.6,195.2 L425.1,195.9 L424.5,196.6 L424.0,197.2 L423.5,197.8 L423.0,198.3 L422.4,198.8 L421.9,199.3 L421.3,199.6 L420.8,199.9 L420.3,200.1 L419.7,200.3 L419.2,200.5 L418.6,200.6 L418.1,200.6 L417.7,200.6 L417.3,200.5 L416.8,200.4 L416.4,200.3 L416.0,200.1 L415.5,199.9 L414.5,199.6 L413.5,199.1 L412.3,198.6 L411.1,198.1 L409.9,197.4 L408.7,196.8 L407.3,195.8 L405.9,194.7 L404.4,193.6 L402.9,192.3 L401.4,191.1 L399.9,190.0 L398.2,188.8 L396.5,187.5 L394.8,186.3 L393.1,185.1 L391.3,184.0 L389.4,183.0 L387.4,182.1 L385.2,181.3 L383.0,180.5 L380.8,179.9 L378.5,179.4 L376.4,178.9 L374.6,178.6 L372.7,178.3 L370.8,178.2 L369.0,178.1 L367.4,178.0 L366.0,178.0 L365.3,178.0 L364.8,178.0 L364.2,178.1 L363.7,178.1 L363.2,178.2 L362.7,178.4 L362.0,178.6 L361.3,178.8 L360.7,179.0 L360.0,179.3 L359.4,179.6 L358.7,180.0 L358.1,180.4 L357.6,180.8 L357.0,181.3 L356.5,181.8 L355.9,182.4 L355.4,182.9 L354.9,183.6 L354.5,184.3 L354.0,185.0 L353.6,185.7 L353.1,186.5 L352.8,187.2 L352.5,187.8 L352.2,188.4 L352.0,189.0 L351.7,189.7 L351.5,190.4 L351.2,191.2 L350.5,193.5 L349.6,196.4 L348.8,199.7 L347.8,203.2 L346.9,206.6 L346.0,209.7 L345.3,212.3 L344.5,214.9 L343.7,217.5 L342.9,220.0 L342.2,222.5 L341.5,225.1 L340.9,227.6 L340.3,230.2 L339.8,232.7 L339.3,235.3 L338.8,237.9 L338.3,240.4 L337.9,243.0 L337.5,245.5 L337.1,248.1 L336.7,250.7 L336.4,253.2 L336.0,255.8 L335.6,258.3 L335.2,260.9 L334.9,263.5 L334.5,266.0 L334.1,268.6 L333.7,271.1 L333.3,273.7 L332.9,276.3 L332.6,278.8 L332.2,281.4 L331.8,283.9 L331.4,286.5 L331.1,289.1 L330.7,291.6 L330.4,294.2 L330.0,296.8 L329.7,299.3 L329.3,301.9 L329.0,304.4 L328.6,307.0 L328.3,309.6 L327.9,312.1 L327.5,314.7 L327.2,317.2 L326.9,319.9 L326.6,322.5 L326.3,325.2 L326.0,327.8 L325.6,330.3 L325.3,332.6 L325.0,334.2 L324.6,335.7 L324.3,337.1 L324.0,338.5 L323.6,339.8 L323.3,341.1 L323.0,342.2 L322.7,343.2 L322.3,344.3 L322.0,345.3 L321.7,346.2 L321.4,347.1 L321.2,347.8 L320.9,348.4 L320.7,349.0 L320.5,349.5 L320.2,350.1 L319.9,350.6 L319.5,351.1 L319.1,351.7 L318.7,352.2 L318.2,352.7 L317.8,353.0 L317.4,353.1 L317.0,353.0 L316.7,352.6 L316.3,352.2 L316.0,351.7 L315.7,351.1 L315.4,350.6 L315.2,350.1 L315.0,349.5 L314.8,349.0 L314.7,348.4 L314.5,347.8 L314.4,347.1 L314.2,346.2 L313.9,345.3 L313.7,344.3 L313.5,343.2 L313.3,342.2 L313.1,341.1 L312.9,339.8 L312.7,338.5 L312.5,337.2 L312.2,335.8 L312.0,334.2 L311.8,332.6 L311.4,329.8 L311.1,326.6 L310.7,323.1 L310.3,319.6 L309.9,316.0 L309.6,312.6 L309.2,309.3 L308.8,305.9 L308.4,302.6 L308.1,299.2 L307.7,295.9 L307.3,292.6 L306.9,289.2 L306.6,285.9 L306.2,282.6 L305.8,279.2 L305.4,275.9 L305.1,272.6 L304.7,269.2 L304.3,265.9 L303.9,262.6 L303.6,259.2 L303.2,255.9 L302.8,252.6 L302.4,249.2 L302.1,245.9 L301.7,242.5 L301.3,239.2 L300.9,235.9 L300.6,232.5 L300.2,229.1 L299.8,225.4 L299.4,221.8 L299.0,218.3 L298.7,215.2 L298.3,212.5 L298.1,211.3 L298.0,210.3 L297.9,209.4 L297.7,208.5 L297.5,207.6 L297.3,206.6 L297.0,205.5 L296.7,204.4 L296.4,203.3 L296.0,202.2 L295.6,201.1 L295.1,200.1 L294.7,199.1 L294.2,198.2 L293.7,197.4 L293.2,196.5 L292.6,195.7 L292.0,194.9 L291.4,194.2 L290.7,193.6 L290.0,192.9 L289.3,192.3 L288.6,191.8 L287.8,191.3 L287.2,190.9 L286.6,190.5 L286.0,190.2 L285.3,190.0 L284.7,189.7 L284.1,189.5 L283.6,189.3 L283.2,189.2 L282.8,189.1 L282.4,189.0 L281.9,188.9 L281.3,188.7 L279.5,188.4 L277.0,187.9 L274.3,187.4 L271.8,186.9 L270.0,186.6 L269.3,186.5 L269.3,186.5 L269.5,186.5 L269.6,186.5 L269.8,186.6 L269.9,186.6 L270.0,186.6 L269.0,186.4 L266.3,185.9 L262.5,185.2 L258.1,184.3 L253.8,183.5 L250.0,182.8 L246.7,182.1 L243.4,181.4 L240.1,180.7 L236.8,180.0 L233.4,179.4 L230.0,179.0 L226.4,178.8 L222.8,178.7 L219.1,178.7 L215.4,178.9 L211.7,179.0 L208.0,179.0 L204.3,179.0 L200.6,179.0 L197.0,179.0 L193.3,179.0 L189.6,179.0 L186.0,179.0 L182.4,179.0 L178.8,179.0 L175.2,179.0 L171.6,179.0 L168.2,179.0 L165.0,179.0 L162.6,179.0 L160.3,179.0 L158.2,179.0 L156.0,179.0 L154.0,179.0 L152.0,179.0 L150.4,179.0 L148.9,179.0 L147.4,179.0 L145.9,179.0 L143.9,179.1 L142.9,178.4 L142.9,177.4 L143.6,177.7 L144.1,176.7 L144.6,175.9 L145.1,175.2 L145.6,174.6 L146.1,174.0 L146.6,173.6 L147.1,173.1 L147.6,172.7 L148.1,172.4 L148.6,172.1 L149.1,171.8 L149.6,171.5 L150.1,171.3 L150.6,171.0 L151.1,170.8 L151.6,170.6 L152.1,170.4 L152.6,170.2 L153.1,170.0 L153.6,169.8 L154.1,169.7 L154.6,169.5 L155.1,169.3 L155.6,169.2 L156.1,169.0 L156.6,168.8 L157.1,168.7 L157.6,168.5 L158.1,168.4 L158.6,168.2 L159.1,168.1 L159.6,167.9 L160.1,167.8 L160.6,167.7 L161.1,167.5 L161.6,167.4 L162.1,167.2 L162.6,167.1 L163.1,167.0 L163.6,166.8 L164.1,166.7 L164.6,166.6 L165.1,166.5 L165.6,166.3 L166.1,166.2 L166.6,166.1 L167.1,166.0 L167.6,165.8 L168.1,165.7 L168.6,165.6 L169.1,165.5 L169.6,165.4 L170.1,165.2 L170.6,165.1 L171.1,165.0 L171.6,164.9 L172.1,164.8 L172.6,164.7 L173.1,164.6 L173.6,164.4 L174.1,164.3 L174.6,164.2 L175.1,164.1 L175.6,164.0 L176.1,163.9 L176.6,163.8 L177.1,163.7 L177.6,163.6 L178.1,163.5 L178.6,163.4 L179.1,163.3 L179.6,163.2 L180.1,163.1 L180.6,163.0 L181.1,162.9 L181.6,162.8 L182.1,162.7 L182.6,162.6 L183.1,162.5 L183.6,162.4 L184.1,162.3 L184.6,162.3 L185.1,162.2 L185.6,162.1 L186.1,162.0 L186.6,161.9 L187.1,161.8 L187.6,161.7 L188.1,161.6 L188.6,161.6 L189.1,161.5 L189.6,161.4 L190.1,161.3 L190.6,161.2 L191.1,161.1 L191.6,161.1 L192.1,161.0 L192.6,160.9 L193.1,160.8 L193.6,160.7 L194.1,160.7 L194.6,160.6 L195.1,160.5 L195.6,160.4 L196.1,160.4 L196.6,160.3 L197.1,160.2 L197.6,160.1 L198.1,160.1 L198.6,160.0 L199.1,159.9 L199.6,159.8 L200.1,159.8 L200.6,159.7 L201.1,159.6 L201.6,159.6 L202.1,159.5 L202.6,159.4 L203.1,159.4 L203.6,159.3 L204.1,159.2 L204.6,159.2 L205.1,159.1 L205.6,159.0 L206.1,159.0 L206.6,158.9 L207.1,158.8 L207.6,158.8 L208.1,158.7 L208.6,158.6 L209.1,158.6 L209.6,158.5 L210.1,158.5 L210.6,158.4 L211.1,158.3 L211.6,158.3 L212.1,158.2 L212.6,158.2 L213.1,158.1 L213.6,158.0 L214.1,158.0 L214.6,157.9 L215.1,157.9 L215.6,157.8 L216.1,157.8 L216.6,157.7 L217.1,157.6 L217.6,157.6 L218.1,157.5 L218.6,157.5 L219.1,157.4 L219.6,157.4 L220.1,157.3 L220.6,157.3 L221.1,157.2 L221.6,157.2 L222.1,157.1 L222.6,157.1 L223.1,157.0 L223.6,156.9 L224.1,156.9 L224.6,156.8 L225.1,156.8 L225.6,156.7 L226.1,156.7 L226.6,156.6 L227.1,156.6 L227.6,156.6 L228.1,156.5 L228.6,156.5 L229.1,156.4 L229.6,156.4 L230.1,156.3 L230.6,156.3 L231.1,156.2 L231.6,156.2 L232.1,156.1 L232.6,156.1 L233.1,156.0 L233.6,156.0 L234.1,155.9 L234.6,155.9 L235.1,155.9 L235.6,155.8 L236.1,155.8 L236.6,155.7 L237.1,155.7 L237.6,155.6 L238.1,155.6 L238.6,155.6 L239.1,155.5 L239.6,155.5 L240.1,155.4 L240.6,155.4 L241.1,155.4 L241.6,155.3 L242.1,155.3 L242.6,155.2 L243.1,155.2 L243.6,155.2 L244.1,155.1 L244.6,155.1 L245.1,155.1 L245.6,155.0 L246.1,155.0 L246.6,154.9 L247.1,154.9 L247.6,154.8 L248.1,154.8 L248.6,154.8 L249.1,154.7 L249.6,154.7 L250.1,154.6 L250.6,154.5 L251.1,154.5 L251.6,154.4 L252.1,154.4 L252.6,154.3 L253.1,154.2 L253.6,154.2 L254.1,154.1 L254.6,154.0 L255.1,154.0 L255.6,153.9 L256.1,153.8 L256.6,153.8 L257.1,153.7 L257.6,153.6 L258.1,153.5 L258.6,153.5 L259.1,153.4 L259.6,153.3 L260.1,153.2 L260.6,153.2 L261.1,153.1 L261.6,153.0 L262.1,152.9 L262.6,152.9 L263.1,152.8 L263.6,152.7 L264.1,152.6 L264.6,152.5 L265.1,152.5 L265.6,152.4 L266.1,152.3 L266.6,152.2 L267.1,152.1 L267.6,152.0 L268.1,151.9 L268.6,151.8 L269.1,151.7 L269.6,151.6 L270.1,151.5 L270.6,151.4 L271.1,151.3 L271.6,151.1 L272.1,151.0 L272.6,150.9 L273.1,150.7 L273.6,150.6 L274.1,150.4 L274.6,150.3 L275.1,150.1 L275.6,149.9 L276.1,149.8 L276.6,149.6 L277.1,149.5 L277.6,149.3 L278.1,149.1 L278.6,148.9 L279.1,148.8 L279.6,148.6 L280.1,148.4 L280.6,148.2 L281.1,148.0 L281.6,147.8 L282.1,147.6 L282.6,147.4 L283.1,147.2 L283.6,147.0 L284.1,146.8 L284.6,146.6 L285.1,146.4 L285.6,146.2 L286.1,146.0 L286.6,145.8 L287.1,145.6 L287.6,145.4 L288.1,145.2 L288.6,145.0 L289.1,144.8 L289.6,144.7 L290.1,144.5 L290.6,144.3 L291.1,144.2 L291.6,144.0 L292.1,143.9 L292.6,143.8 L293.1,143.6 L293.6,143.5 L294.1,143.4 L294.6,143.2 L295.1,143.1 L295.6,143.0 L296.1,142.9 L296.6,142.7 L297.1,142.6 L297.6,142.5 L298.1,142.4 L298.6,142.3 L299.1,142.2 L299.6,142.0 L300.1,141.9 L300.6,141.8 L301.1,141.7 L301.6,141.6 L302.1,141.5 L302.6,141.4 L303.1,141.3 L303.6,141.2 L304.1,141.1 L304.6,141.0 L305.1,140.9 L305.6,140.8 L306.1,140.8 L306.6,140.7 L307.1,140.6 L307.6,140.5 L308.1,140.4 L308.6,140.3 L309.1,140.2 L309.6,140.1 L310.1,140.1 L310.6,140.0 L311.1,139.9 L311.6,139.8 L312.1,139.7 L312.6,139.6 L313.1,139.5 L313.6,139.5 L314.1,139.4 L314.6,139.3 L315.1,139.2 L315.6,139.1 L316.1,139.1 L316.6,139.0 L317.1,138.9 L317.6,138.9 L318.1,138.8 L318.6,138.7 L319.1,138.6 L319.6,138.6 L320.1,138.5 L320.6,138.5 L321.1,138.4 L321.6,138.3 L322.1,138.3 L322.6,138.2 L323.1,138.2 L323.6,138.1 L324.1,138.1 L324.6,138.0 L325.1,137.9 L325.6,137.9 L326.1,137.8 L326.6,137.8 L327.1,137.7 L327.6,137.7 L328.1,137.7 L328.6,137.6 L329.1,137.6 L329.6,137.5 L330.1,137.5 L330.6,137.5 L331.1,137.4 L331.6,137.4 L332.1,137.4 L332.6,137.3 L333.1,137.3 L333.6,137.3 L334.1,137.3 L334.6,137.2 L335.1,137.2 L335.6,137.2 L336.1,137.2 L336.6,137.2 L337.1,137.1 L337.6,137.1 L338.1,137.1 L338.6,137.1 L339.1,137.1 L339.6,137.1 L340.1,137.0 L340.6,137.0 L341.1,137.0 L341.6,137.0 L342.1,137.0 L342.6,137.0 L343.1,136.9 L343.6,136.9 L344.1,136.9 L344.6,136.9 L345.1,136.8 L345.6,136.8 L346.1,136.8 L346.6,136.8 L347.1,136.7 L347.6,136.7 L348.1,136.7 L348.6,136.6 L349.1,136.6 L349.6,136.5 L350.1,136.5 L350.6,136.4 L351.1,136.4 L351.6,136.3 L352.1,136.2 L352.6,136.1 L353.1,136.0 L353.6,135.8 L354.1,135.7 L354.6,135.5 L355.1,135.2 L355.6,135.0 L356.1,134.7 L356.6,134.4 L357.1,134.1 L357.6,133.7 L358.1,133.3 L358.6,132.8 L359.1,132.3 L359.6,131.7 L360.1,131.1 L360.6,130.4 L361.1,129.8 L361.6,129.1 L362.1,128.4 L362.6,127.7 L363.1,127.0 L363.6,126.3 L364.1,125.6 L364.6,124.9 L365.1,124.3 L365.6,123.7 L366.1,123.1 L366.6,122.5 L367.1,122.0 L367.6,121.5 L368.1,121.0 L368.6,120.5 L369.1,120.1 L369.6,119.7 L370.1,119.3 L370.6,119.0 L371.1,118.7 L371.6,118.4 L372.1,118.1 L372.6,117.8 L373.1,117.6 L373.6,117.3 L374.1,117.1 L374.6,116.9 L375.1,116.7 L375.6,116.5 L376.1,116.4 L376.6,116.2 L377.1,116.1 L377.6,115.9 L378.1,115.8 L378.6,115.7 L379.1,115.5 L379.6,115.4 L380.1,115.3 L380.6,115.2 L381.1,115.1 L381.6,114.9 L382.1,114.8 L382.6,114.7 L383.1,114.5 L383.6,114.4 L384.1,114.3 L384.6,114.1 L385.1,114.0 L385.6,113.9 L386.1,113.7 L386.6,113.6 L387.1,113.4 L387.6,113.3 L388.1,113.2 L388.6,113.0 L389.1,112.9 L389.6,112.7 L390.1,112.6 L390.6,112.5 L391.1,112.3 L391.6,112.2 L392.1,112.0 L392.6,111.9 L393.1,111.8 L393.6,111.6 L394.1,111.5 L394.6,111.4 L395.1,111.2 L395.6,111.1 L396.1,110.9 L396.6,110.8 L397.1,110.6 L397.6,110.4 L398.1,110.3 L398.6,110.1 L399.1,109.9 L399.6,109.8 L400.1,109.6 L400.6,109.4 L401.1,109.2 L401.6,109.1 L402.1,108.9 L402.6,108.7 L403.1,108.6 L403.6,108.4 L404.1,108.3 L404.6,108.1 L405.1,108.0 L405.6,107.8 L406.1,107.7 L406.6,107.6 L407.1,107.5 L407.6,107.4 L408.1,107.3 L408.6,107.2 L409.1,107.2 L409.6,107.1 L410.1,107.1 L410.6,107.0 L411.1,107.0 L411.6,107.0 L412.1,107.0 L412.6,107.0 L413.1,107.1 L413.6,107.1 L414.1,107.1 L414.6,107.1 L415.1,107.2 L415.6,107.2 L416.1,107.2 L416.6,107.3 L417.1,107.3 L417.6,107.4 L418.1,107.4 L418.6,107.5 L419.1,107.5 L419.6,107.6 L420.1,107.6 L420.6,107.7 L421.1,107.7 L421.6,107.8 L422.1,107.9 L422.6,107.9 L423.1,108.0 L423.6,108.0 L424.1,108.1 L424.6,108.2 L425.1,108.2 L425.6,108.3 L426.1,108.3 L426.6,108.4 L427.1,108.4 L427.6,108.5 L428.1,108.6 L428.6,108.6 L429.1,108.6 L429.6,108.7 L430.1,108.7 L430.6,108.8 L431.1,108.8 L431.6,108.8 L432.1,108.9 L432.6,108.9 L433.1,108.9 L433.6,108.9 L434.1,108.9 L434.6,108.9 L435.1,108.9 L435.6,108.9 L436.1,108.9 L436.6,108.9 L437.1,108.9 L437.6,108.9 L438.1,108.9 L438.6,108.9 L439.1,108.9 L439.6,108.9 L440.1,108.9 L440.6,108.9 L441.1,108.9 L441.6,108.9 L442.1,108.9 L442.6,108.9 L443.1,108.9 L443.6,108.9 L444.1,108.9 L444.6,108.8 L445.1,108.8 L445.6,108.8 L446.1,108.8 L446.6,108.8 L447.1,108.8 L447.6,108.7 L448.1,108.7 L448.6,108.7 L449.1,108.7 L449.6,108.7 L450.1,108.6 L450.6,108.6 L451.1,108.6 L451.6,108.5 L452.1,108.5 L452.6,108.5 L453.1,108.4 L453.6,108.4 L454.1,108.3 L454.6,108.2 L455.1,108.1 L455.6,108.0 L456.1,107.9 L456.6,107.7 L457.1,107.5 L457.6,107.2 L458.1,106.8 L458.6,106.2 L459.1,105.6 L459.6,104.8 L460.1,103.9 L460.6,102.9 L461.1,101.9 L461.6,100.8 L462.1,99.7 L462.6,98.6 L463.1,97.5 L463.6,96.4 L464.1,95.3 L464.6,94.2 L465.1,93.1 L465.6,92.0 L466.1,90.9 L466.6,89.8 L467.1,88.7 L467.6,87.6 L468.1,86.5 L468.6,85.5 L469.1,84.4 L469.6,83.4 L470.1,82.3 L470.6,81.3 L471.1,80.4 L471.6,79.4 L472.1,78.5 L472.6,77.7 L473.1,76.9 L473.6,76.2 L474.1,75.6 L474.6,75.0 L475.1,74.5 L475.6,74.0 L476.1,73.5 L476.6,73.1 L477.1,72.7 L477.6,72.4 L478.1,72.1 L478.6,71.8 L479.1,71.5 L479.6,71.3 L480.1,71.1 L480.6,71.0 L481.1,70.8 L481.6,70.7 L482.1,70.5 L482.6,70.4 L483.1,70.3 L483.6,70.3 L484.1,70.2 L484.6,70.2 L485.1,70.2 L485.6,70.2 L486.1,70.2 L486.6,70.2 L487.1,70.3 L487.6,70.3 L488.1,70.4 L488.6,70.5 L489.1,70.6 L489.6,70.7 L490.1,70.8 L490.6,71.0 L491.1,71.1 L491.6,71.2 L492.1,71.4 L492.6,71.6 L493.1,71.8 L493.6,71.9 L494.1,72.1 L494.6,72.4 L495.1,72.6 L495.6,72.8 L496.1,73.0 L496.6,73.3 L497.1,73.5 L497.6,73.7 L498.1,74.0 L498.6,74.2 L499.1,74.5 L499.6,74.8 L500.1,75.0 L500.6,75.3 L501.1,75.6 L501.6,75.9 L502.1,76.1 L502.6,76.4 L503.1,76.7 L503.6,77.0 L504.1,77.2 L504.6,77.5 L505.1,77.8 L505.6,78.1 L506.1,78.4 L506.6,78.6 L507.1,78.9 L507.6,79.2 L508.1,79.4 L508.6,79.7 L509.1,79.9 L509.6,80.2 L510.1,80.5 L510.6,80.7 L511.1,80.9 L511.6,81.2 L512.1,81.4 L512.6,81.6 L513.1,81.9 L513.6,82.1 L514.1,82.3 L514.6,82.5 L515.1,82.7 L515.6,82.9 L516.1,83.1 L516.6,83.3 L517.1,83.5 L517.6,83.6 L518.1,83.8 L518.6,84.0 L519.1,84.1 L519.6,84.3 L520.1,84.4 L520.6,84.6 L521.1,84.7 L521.6,84.8 L522.1,85.0 L522.6,85.1 L523.1,85.2 L523.6,85.3 L524.1,85.4 L524.6,85.5 L525.1,85.6 L525.6,85.7 L526.1,85.8 L526.6,85.9 L527.1,86.0 L527.6,86.1 L528.1,86.1 L528.6,86.2 L529.1,86.3 L529.6,86.3 L530.1,86.4 L530.6,86.5 L531.1,86.5 L531.6,86.6 L532.1,86.6 L532.6,86.7 L533.1,86.7 L533.6,86.7 L534.1,86.8 L534.6,86.8 L535.1,86.8 L535.6,86.9 L536.1,86.9 L536.6,86.9 L537.1,87.0 L537.6,87.0 L538.1,87.0 L538.6,87.0 L539.1,87.1 L539.6,87.1 L540.1,87.1 L540.6,87.1 L541.1,87.1 L541.6,87.1 L542.1,87.1 L542.6,87.2 L543.1,87.2 L543.6,87.2 L544.1,87.2 L544.6,87.2 L545.1,87.2 L545.6,87.2 L546.1,87.2 L546.6,87.2 L547.1,87.2 L547.6,87.2 L548.1,87.2 L548.6,87.3 L549.1,87.3 L549.6,87.3 L550.1,87.3 L550.6,87.3 L551.1,87.3 L551.6,87.3 L552.1,87.3 L552.6,87.3 L553.1,87.3 L553.6,87.3 L554.1,87.3 L554.6,87.3 L555.1,87.3 L555.6,87.3 L556.1,87.3 L556.6,87.3 L557.1,87.3 L557.6,87.3 L558.1,87.3 L558.6,87.3 L559.1,87.3 L559.6,87.3 L560.1,87.3 L560.6,87.3 L561.1,87.3 L561.6,87.3 L562.1,87.2 L562.6,87.2 L563.1,87.2 L563.6,87.2 L564.1,87.2 L564.6,87.1 L565.1,87.1 L565.6,87.1 L566.1,87.0 L566.6,87.0 L567.1,87.0 L567.6,86.9 L568.1,86.9 L568.6,86.9 L569.1,86.8 L569.6,86.8 L570.1,86.7 L570.6,86.7 L571.1,86.7 L571.6,86.6 L572.1,86.6 L572.6,86.5 L573.1,86.5 L573.6,86.4 L574.1,86.4 L574.6,86.3 L575.1,86.3 L575.6,86.2 L576.1,86.2 L576.6,86.1 L577.1,86.1 L577.6,86.0 L578.1,86.0 L578.6,85.9 L579.1,85.8 L579.6,85.8 L580.1,85.7 L580.6,85.7 L581.1,85.6 L581.6,85.5 L582.1,85.5 L582.6,85.4 L583.1,85.3 L583.6,85.3 L584.1,85.2 L584.6,85.2 L585.1,85.1 L585.6,85.0 L586.1,85.0 L586.6,84.9 L587.1,84.8 L587.6,84.7 L588.1,84.7 L588.6,84.6 L589.1,84.5 L589.6,84.5 L590.1,84.4 L590.6,84.3 L591.1,84.2 L591.6,84.2 L592.1,84.1 L592.6,84.0 L593.1,83.9 L593.6,83.9 L594.1,83.8 L594.6,83.7 L595.1,83.6 L595.6,83.5 L596.1,83.5 L596.6,83.4 L597.1,83.3 L597.6,83.2 L598.1,83.1 L598.6,83.1 L599.1,83.0 L599.6,82.9 L600.1,82.8 L600.6,82.7 L601.1,82.6 L601.6,82.5 L602.1,82.5 L602.6,82.4 L603.1,82.3 L603.6,82.2 L604.1,82.1 L604.6,82.0 L605.1,81.9 L605.6,81.8 L606.1,81.7 L606.6,81.6 L607.1,81.6 L607.6,81.5 L608.1,81.4 L608.6,81.3 L609.1,81.2 L609.6,81.1 L610.1,81.0 L610.6,80.9 L611.1,80.8 L611.6,80.7 L612.1,80.6 L612.6,80.5 L613.1,80.4 L613.6,80.3 L614.1,80.2 L614.6,80.1 L615.1,80.0 L615.6,79.9 L616.1,79.8 L616.6,79.7 L617.1,79.6 L617.6,79.5 L618.1,79.4 L618.6,79.3 L619.1,79.2 L619.6,79.1 L620.1,79.0 L620.6,78.9 L621.1,78.8 L621.6,78.7 L622.1,78.6 L622.6,78.5 L623.1,78.4 L623.6,78.2 L624.1,78.1 L624.6,78.0 L625.1,77.9 L625.6,77.8 L626.1,77.7 L626.6,77.6"/>
<path stroke="#ff0080" d="M627.0,85.2 L622.5,87.1 L617.9,89.1 L613.3,91.0 L608.7,93.0 L604.3,94.8 L600.0,96.6 L596.6,97.9 L593.4,99.3 L590.3,100.5 L587.1,101.7 L583.7,103.0 L580.0,104.3 L574.0,106.2 L567.2,108.2 L560.0,110.2 L552.8,112.2 L546.0,114.0 L540.0,115.6 L536.3,116.6 L532.8,117.5 L529.6,118.3 L526.4,119.1 L523.3,119.9 L520.0,120.7 L516.6,121.6 L513.1,122.6 L509.6,123.5 L506.2,124.4 L502.9,125.3 L500.0,126.2 L498.1,126.7 L496.4,127.2 L494.8,127.7 L493.2,128.2 L491.6,128.7 L490.0,129.2 L488.3,129.8 L486.7,130.4 L485.0,130.9 L483.3,131.5 L481.7,132.1 L480.0,132.7 L478.4,133.3 L476.7,133.9 L475.1,134.5 L473.5,135.1 L471.8,135.7 L470.0,136.5 L467.4,137.6 L464.5,138.8 L461.5,140.0 L458.6,141.4 L455.8,142.9 L453.5,144.4 L451.8,145.7 L450.3,147.1 L449.0,148.6 L447.7,150.1 L446.6,151.6 L445.4,153.1 L444.5,154.5 L443.6,155.9 L442.7,157.3 L441.9,158.8 L441.2,160.2 L440.4,161.7 L439.7,163.0 L439.1,164.3 L438.5,165.7 L437.9,167.0 L437.4,168.3 L436.8,169.6 L436.2,171.0 L435.6,172.3 L435.0,173.7 L434.4,175.0 L433.8,176.3 L433.3,177.6 L432.8,178.7 L432.3,179.9 L431.9,181.0 L431.4,182.1 L431.0,183.2 L430.6,184.2 L430.3,185.2 L429.9,186.1 L429.6,186.9 L429.3,187.8 L429.0,188.7 L428.7,189.5 L428.4,190.3 L428.2,191.1 L427.9,191.9 L427.6,192.7 L427.3,193.4 L427.0,194.2 L426.6,195.0 L426.1,195.8 L425.5,196.6 L425.0,197.4 L424.4,198.1 L423.8,198.8 L423.3,199.4 L422.7,200.0 L422.2,200.5 L421.6,201.0 L421.0,201.5 L420.4,201.8 L419.9,202.1 L419.3,202.3 L418.7,202.5 L418.1,202.7 L417.5,202.8 L417.0,202.8 L416.6,202.8 L416.1,202.7 L415.7,202.6 L415.3,202.5 L414.9,202.3 L414.4,202.1 L413.5,201.8 L412.4,201.4 L411.2,200.9 L410.0,200.4 L408.8,199.8 L407.6,199.1 L406.2,198.2 L404.8,197.1 L403.3,196.0 L401.8,194.8 L400.3,193.7 L398.8,192.6 L397.1,191.4 L395.5,190.2 L393.8,189.0 L392.1,187.8 L390.3,186.7 L388.4,185.8 L386.3,184.9 L384.2,184.1 L382.0,183.4 L379.7,182.8 L377.5,182.3 L375.4,181.9 L373.5,181.6 L371.6,181.3 L369.7,181.2 L367.9,181.1 L366.3,181.0 L365.0,181.0 L364.4,181.0 L363.9,181.0 L363.5,181.1 L363.1,181.1 L362.7,181.2 L362.2,181.3 L361.7,181.5 L361.1,181.7 L360.5,181.9 L360.0,182.2 L359.4,182.5 L358.9,182.8 L358.4,183.2 L357.9,183.6 L357.5,184.0 L357.0,184.5 L356.6,185.0 L356.1,185.5 L355.7,186.1 L355.3,186.7 L354.9,187.4 L354.5,188.0 L354.2,188.7 L353.8,189.4 L353.6,190.0 L353.3,190.5 L353.1,191.0 L352.9,191.6 L352.7,192.3 L352.4,193.1 L351.7,195.2 L351.0,198.0 L350.1,201.1 L349.2,204.4 L348.3,207.6 L347.4,210.6 L346.7,213.1 L345.9,215.6 L345.2,218.1 L344.5,220.5 L343.8,222.9 L343.2,225.4 L342.6,227.8 L342.0,230.2 L341.5,232.7 L341.0,235.2 L340.6,237.6 L340.1,240.1 L339.6,242.5 L339.2,245.0 L338.8,247.4 L338.4,249.9 L338.0,252.4 L337.6,254.8 L337.2,257.3 L336.8,259.7 L336.4,262.2 L336.0,264.6 L335.6,267.1 L335.2,269.5 L334.8,272.0 L334.3,274.5 L333.9,276.9 L333.5,279.4 L333.1,281.8 L332.7,284.3 L332.3,286.7 L331.9,289.2 L331.6,291.6 L331.2,294.1 L330.8,296.6 L330.5,299.0 L330.1,301.5 L329.7,303.9 L329.4,306.4 L329.0,308.8 L328.7,311.3 L328.4,313.7 L328.1,316.2 L327.7,318.6 L327.4,321.1 L327.2,323.6 L326.9,326.0 L326.6,328.5 L326.3,331.0 L326.0,333.5 L325.8,336.1 L325.5,338.6 L325.2,341.0 L324.9,343.2 L324.6,344.8 L324.2,346.3 L323.9,347.7 L323.5,349.1 L323.2,350.4 L322.8,351.7 L322.5,352.8 L322.2,353.8 L321.8,354.9 L321.5,355.9 L321.2,356.8 L320.9,357.7 L320.6,358.4 L320.4,359.0 L320.1,359.6 L319.9,360.1 L319.6,360.7 L319.3,361.2 L318.9,361.7 L318.5,362.3 L318.0,362.8 L317.6,363.3 L317.1,363.6 L316.7,363.7 L316.3,363.6 L316.0,363.2 L315.6,362.8 L315.3,362.3 L315.0,361.7 L314.7,361.2 L314.4,360.7 L314.2,360.1 L314.1,359.6 L313.9,359.0 L313.8,358.4 L313.6,357.7 L313.4,356.8 L313.1,355.9 L312.9,354.9 L312.7,353.8 L312.5,352.8 L312.3,351.7 L312.1,350.4 L311.8,349.1 L311.6,347.8 L311.4,346.4 L311.2,344.9 L310.9,343.2 L310.6,340.2 L310.2,336.9 L309.8,333.2 L309.4,329.5 L309.0,325.7 L308.5,322.0 L308.1,318.5 L307.7,315.0 L307.3,311.5 L306.9,307.9 L306.5,304.4 L306.1,300.9 L305.7,297.4 L305.3,293.8 L304.9,290.3 L304.5,286.8 L304.1,283.3 L303.7,279.7 L303.3,276.2 L302.9,272.7 L302.5,269.2 L302.1,265.6 L301.7,262.1 L301.3,258.6 L300.9,255.1 L300.5,251.5 L300.1,248.0 L299.7,244.5 L299.3,241.0 L298.9,237.4 L298.5,233.8 L298.1,229.9 L297.7,226.1 L297.3,222.4 L296.9,219.1 L296.5,216.3 L296.4,215.0 L296.2,214.0 L296.1,213.0 L295.9,212.0 L295.7,211.1 L295.5,210.1 L295.2,209.0 L294.9,207.8 L294.5,206.6 L294.1,205.4 L293.7,204.3 L293.2,203.2 L292.8,202.2 L292.3,201.2 L291.7,200.3 L291.2,199.4 L290.6,198.6 L290.0,197.7 L289.3,197.0 L288.6,196.3 L287.9,195.6 L287.2,194.9 L286.4,194.3 L285.7,193.8 L285.0,193.4 L284.4,193.0 L283.7,192.7 L283.1,192.3 L282.4,192.1 L281.8,191.8 L281.3,191.6 L280.9,191.5 L280.5,191.4 L280.0,191.2 L279.5,191.1 L278.9,191.0 L277.1,190.5 L274.6,190.0 L271.9,189.4 L269.4,188.9 L267.6,188.5 L266.9,188.3 L267.1,188.4 L267.7,188.5 L268.5,188.7 L269.2,188.8 L269.8,188.9 L270.0,189.0 L269.0,188.8 L266.3,188.2 L262.5,187.3 L258.1,186.4 L253.8,185.4 L250.0,184.6 L246.7,183.8 L243.4,183.0 L240.1,182.1 L236.8,181.3 L233.4,180.7 L230.0,180.2 L226.4,179.9 L222.8,179.9 L219.1,179.9 L215.4,180.1 L211.7,180.2 L208.0,180.3 L204.3,180.3 L200.6,180.3 L197.0,180.3 L193.3,180.3 L189.6,180.3 L186.0,180.4 L182.4,180.4 L178.8,180.4 L175.2,180.4 L171.6,180.4 L168.2,180.5 L165.0,180.5 L162.6,180.5 L160.3,180.5 L158.2,180.5 L156.0,180.5 L154.0,180.5 L152.0,180.5 L150.4,180.6 L148.9,180.6 L147.4,180.6 L145.9,180.6 L143.9,180.7 L142.9,180.0 L142.9,179.0 L143.6,179.2 L144.1,178.2 L144.6,177.3 L145.1,176.5 L145.6,175.8 L146.1,175.3 L146.6,174.8 L147.1,174.3 L147.6,173.9 L148.1,173.5 L148.6,173.2 L149.1,172.9 L149.6,172.6 L150.1,172.3 L150.6,172.1 L151.1,171.8 L151.6,171.6 L152.1,171.4 L152.6,171.2 L153.1,171.0 L153.6,170.8 L154.1,170.6 L154.6,170.4 L155.1,170.2 L155.6,170.1 L156.1,169.9 L156.6,169.7 L157.1,169.5 L157.6,169.4 L158.1,169.2 L158.6,169.1 L159.1,168.9 L159.6,168.8 L160.1,168.6 L160.6,168.5 L161.1,168.3 L161.6,168.2 L162.1,168.0 L162.6,167.9 L163.1,167.7 L163.6,167.6 L164.1,167.5 L164.6,167.3 L165.1,167.2 L165.6,167.0 L166.1,166.9 L166.6,166.8 L167.1,166.6 L167.6,166.5 L168.1,166.4 L168.6,166.3 L169.1,166.1 L169.6,166.0 L170.1,165.9 L170.6,165.8 L171.1,165.6 L171.6,165.5 L172.1,165.4 L172.6,165.3 L173.1,165.2 L173.6,165.0 L174.1,164.9 L174.6,164.8 L175.1,164.7 L175.6,164.6 L176.1,164.5 L176.6,164.4 L177.1,164.3 L177.6,164.1 L178.1,164.0 L178.6,163.9 L179.1,163.8 L179.6,163.7 L180.1,163.6 L180.6,163.5 L181.1,163.4 L181.6,163.3 L182.1,163.2 L182.6,163.1 L183.1,163.0 L183.6,162.9 L184.1,162.8 L184.6,162.7 L185.1,162.6 L185.6,162.5 L186.1,162.4 L186.6,162.3 L187.1,162.3 L187.6,162.2 L188.1,162.1 L188.6,162.0 L189.1,161.9 L189.6,161.8 L190.1,161.7 L190.6,161.6 L191.1,161.5 L191.6,161.5 L192.1,161.4 L192.6,161.3 L193.1,161.2 L193.6,161.1 L194.1,161.0 L194.6,161.0 L195.1,160.9 L195.6,160.8 L196.1,160.7 L196.6,160.6 L197.1,160.6 L197.6,160.5 L198.1,160.4 L198.6,160.3 L199.1,160.3 L199.6,160.2 L200.1,160.1 L200.6,160.0 L201.1,160.0 L201.6,159.9 L202.1,159.8 L202.6,159.7 L203.1,159.7 L203.6,159.6 L204.1,159.5 L204.6,159.5 L205.1,159.4 L205.6,159.3 L206.1,159.3 L206.6,159.2 L207.1,159.1 L207.6,159.1 L208.1,159.0 L208.6,158.9 L209.1,158.9 L209.6,158.8 L210.1,158.7 L210.6,158.7 L211.1,158.6 L211.6,158.5 L212.1,158.5 L212.6,158.4 L213.1,158.3 L213.6,158.3 L214.1,158.2 L214.6,158.2 L215.1,158.1 L215.6,158.0 L216.1,158.0 L216.6,157.9 L217.1,157.9 L217.6,157.8 L218.1,157.8 L218.6,157.7 L219.1,157.6 L219.6,157.6 L220.1,157.5 L220.6,157.5 L221.1,157.4 L221.6,157.4 L222.1,157.3 L222.6,157.3 L223.1,157.2 L223.6,157.1 L224.1,157.1 L224.6,157.0 L225.1,157.0 L225.6,156.9 L226.1,156.9 L226.6,156.8 L227.1,156.8 L227.6,156.7 L228.1,156.7 L228.6,156.6 L229.1,156.6 L229.6,156.5 L230.1,156.5 L230.6,156.4 L231.1,156.4 L231.6,156.3 L232.1,156.3 L232.6,156.2 L233.1,156.2 L233.6,156.1 L234.1,156.1 L234.6,156.0 L235.1,156.0 L235.6,156.0 L236.1,155.9 L236.6,155.9 L237.1,155.8 L237.6,155.8 L238.1,155.7 L238.6,155.7 L239.1,155.7 L239.6,155.6 L240.1,155.6 L240.6,155.5 L241.1,155.5 L241.6,155.5 L242.1,155.4 L242.6,155.4 L243.1,155.3 L243.6,155.3 L244.1,155.3 L244.6,155.2 L245.1,155.2 L245.6,155.1 L246.1,155.1 L246.6,155.1 L247.1,155.0 L247.6,155.0 L248.1,154.9 L248.6,154.9 L249.1,154.8 L249.6,154.8 L250.1,154.7 L250.6,154.6 L251.1,154.6 L251.6,154.5 L252.1,154.5 L252.6,154.4 L253.1,154.3 L253.6,154.3 L254.1,154.2 L254.6,154.1 L255.1,154.0 L255.6,154.0 L256.1,153.9 L256.6,153.8 L257.1,153.7 L257.6,153.6 L258.1,153.6 L258.6,153.5 L259.1,153.4 L259.6,153.3 L260.1,153.2 L260.6,153.1 L261.1,153.1 L261.6,153.0 L262.1,152.9 L262.6,152.8 L263.1,152.7 L263.6,152.6 L264.1,152.6 L264.6,152.5 L265.1,152.4 L265.6,152.3 L266.1,152.2 L266.6,152.1 L267.1,152.0 L267.6,151.9 L268.1,151.8 L268.6,151.7 L269.1,151.6 L269.6,151.5 L270.1,151.3 L270.6,151.2 L271.1,151.1 L271.6,151.0 L272.1,150.8 L272.6,150.7 L273.1,150.5 L273.6,150.3 L274.1,150.2 L274.6,150.0 L275.1,149.8 L275.6,149.7 L276.1,149.5 L276.6,149.3 L277.1,149.1 L277.6,149.0 L278.1,148.8 L278.6,148.6 L279.1,148.4 L279.6,148.2 L280.1,148.0 L280.6,147.8 L281.1,147.6 L281.6,147.4 L282.1,147.2 L282.6,147.0 L283.1,146.7 L283.6,146.5 L284.1,146.3 L284.6,146.1 L285.1,145.8 L285.6,145.6 L286.1,145.4 L286.6,145.2 L287.1,144.9 L287.6,144.7 L288.1,144.5 L288.6,144.3 L289.1,144.1 L289.6,144.0 L290.1,143.8 L290.6,143.6 L291.1,143.4 L291.6,143.3 L292.1,143.1 L292.6,143.0 L293.1,142.8 L293.6,142.7 L294.1,142.5 L294.6,142.4 L295.1,142.3 L295.6,142.1 L296.1,142.0 L296.6,141.9 L297.1,141.7 L297.6,141.6 L298.1,141.5 L298.6,141.4 L299.1,141.2 L299.6,141.1 L300.1,141.0 L300.6,140.9 L301.1,140.8 L301.6,140.7 L302.1,140.5 L302.6,140.4 L303.1,140.3 L303.6,140.2 L304.1,140.1 L304.6,140.0 L305.1,139.9 L305.6,139.8 L306.1,139.7 L306.6,139.6 L307.1,139.5 L307.6,139.4 L308.1,139.3 L308.6,139.2 L309.1,139.1 L309.6,139.1 L310.1,139.0 L310.6,138.9 L311.1,138.8 L311.6,138.7 L312.1,138.6 L312.6,138.5 L313.1,138.4 L313.6,138.3 L314.1,138.2 L314.6,138.2 L315.1,138.1 L315.6,138.0 L316.1,137.9 L316.6,137.8 L317.1,137.7 L317.6,137.7 L318.1,137.6 L318.6,137.5 L319.1,137.4 L319.6,137.4 L320.1,137.3 L320.6,137.2 L321.1,137.2 L321.6,137.1 L322.1,137.0 L322.6,137.0 L323.1,136.9 L323.6,136.9 L324.1,136.8 L324.6,136.7 L325.1,136.7 L325.6,136.6 L326.1,136.6 L326.6,136.5 L327.1,136.5 L327.6,136.4 L328.1,136.4 L328.6,136.3 L329.1,136.3 L329.6,136.2 L330.1,136.2 L330.6,136.2 L331.1,136.1 L331.6,136.1 L332.1,136.1 L332.6,136.0 L333.1,136.0 L333.6,136.0 L334.1,136.0 L334.6,135.9 L335.1,135.9 L335.6,135.9 L336.1,135.9 L336.6,135.9 L337.1,135.8 L337.6,135.8 L338.1,135.8 L338.6,135.8 L339.1,135.8 L339.6,135.8 L340.1,135.7 L340.6,135.7 L341.1,135.7 L341.6,135.7 L342.1,135.7 L342.6,135.6 L343.1,135.6 L343.6,135.6 L344.1,135.6 L344.6,135.6 L345.1,135.5 L345.6,135.5 L346.1,135.5 L346.6,135.5 L347.1,135.4 L347.6,135.4 L348.1,135.4 L348.6,135.3 L349.1,135.3 L349.6,135.2 L350.1,135.2 L350.6,135.1 L351.1,135.1 L351.6,135.0 L352.1,134.9 L352.6,134.8 L353.1,134.7 L353.6,134.6 L354.1,134.4 L354.6,134.2 L355.1,134.0 L355.6,133.7 L356.1,133.4 L356.6,133.1 L357.1,132.8 L357.6,132.4 L358.1,132.0 L358.6,131.6 L359.1,131.1 L359.6,130.5 L360.1,129.9 L360.6,129.3 L361.1,128.6 L361.6,127.9 L362.1,127.2 L362.6,126.5 L363.1,125.9 L363.6,125.2 L364.1,124.5 L364.6,123.8 L365.1,123.2 L365.6,122.6 L366.1,122.0 L366.6,121.5 L367.1,121.0 L367.6,120.5 L368.1,120.0 L368.6,119.6 L369.1,119.1 L369.6,118.7 L370.1,118.4 L370.6,118.0 L371.1,117.7 L371.6,117.4 L372.1,117.1 L372.6,116.9 L373.1,116.6 L373.6,116.4 L374.1,116.2 L374.6,116.0 L375.1,115.8 L375.6,115.6 L376.1,115.4 L376.6,115.3 L377.1,115.1 L377.6,115.0 L378.1,114.9 L378.6,114.8 L379.1,114.6 L379.6,114.5 L380.1,114.4 L380.6,114.3 L381.1,114.2 L381.6,114.0 L382.1,113.9 L382.6,113.8 L383.1,113.6 L383.6,113.5 L384.1,113.3 L384.6,113.2 L385.1,113.0 L385.6,112.9 L386.1,112.7 L386.6,112.6 L387.1,112.4 L387.6,112.3 L388.1,112.1 L388.6,111.9 L389.1,111.8 L389.6,111.6 L390.1,111.5 L390.6,111.3 L391.1,111.2 L391.6,111.0 L392.1,110.8 L392.6,110.7 L393.1,110.5 L393.6,110.4 L394.1,110.2 L394.6,110.1 L395.1,109.9 L395.6,109.7 L396.1,109.6 L396.6,109.4 L397.1,109.2 L397.6,109.1 L398.1,108.9 L398.6,108.7 L399.1,108.5 L399.6,108.3 L400.1,108.1 L400.6,107.9 L401.1,107.7 L401.6,107.6 L402.1,107.4 L402.6,107.2 L403.1,107.0 L403.6,106.8 L404.1,106.7 L404.6,106.5 L405.1,106.3 L405.6,106.2 L406.1,106.1 L406.6,105.9 L407.1,105.8 L407.6,105.7 L408.1,105.6 L408.6,105.5 L409.1,105.5 L409.6,105.4 L410.1,105.4 L410.6,105.3 L411.1,105.3 L411.6,105.3 L412.1,105.3 L412.6,105.3 L413.1,105.3 L413.6,105.4 L414.1,105.4 L414.6,105.4 L415.1,105.4 L415.6,105.5 L416.1,105.5 L416.6,105.5 L417.1,105.6 L417.6,105.6 L418.1,105.7 L418.6,105.7 L419.1,105.7 L419.6,105.8 L420.1,105.8 L420.6,105.9 L421.1,105.9 L421.6,106.0 L422.1,106.0 L422.6,106.1 L423.1,106.1 L423.6,106.2 L424.1,106.2 L424.6,106.3 L425.1,106.3 L425.6,106.4 L426.1,106.4 L426.6,106.5 L427.1,106.5 L427.6,106.6 L428.1,106.6 L428.6,106.7 L429.1,106.7 L429.6,106.7 L430.1,106.8 L430.6,106.8 L431.1,106.8 L431.6,106.8 L432.1,106.9 L432.6,106.9 L433.1,106.9 L433.6,106.9 L434.1,106.9 L434.6,106.9 L435.1,106.9 L435.6,106.9 L436.1,106.9 L436.6,106.9 L437.1,106.9 L437.6,106.9 L438.1,106.9 L438.6,106.9 L439.1,106.9 L439.6,106.9 L440.1,106.9 L440.6,106.9 L441.1,106.9 L441.6,106.9 L442.1,106.8 L442.6,106.8 L443.1,106.8 L443.6,106.8 L444.1,106.8 L444.6,106.7 L445.1,106.7 L445.6,106.7 L446.1,106.7 L446.6,106.6 L447.1,106.6 L447.6,106.6 L448.1,106.6 L448.6,106.5 L449.1,106.5 L449.6,106.5 L450.1,106.4 L450.6,106.4 L451.1,106.3 L451.6,106.3 L452.1,106.3 L452.6,106.2 L453.1,106.1 L453.6,106.1 L454.1,106.0 L454.6,105.9 L455.1,105.8 L455.6,105.7 L456.1,105.6 L456.6,105.5 L457.1,105.2 L457.6,104.9 L458.1,104.6 L458.6,104.0 L459.1,103.4 L459.6,102.7 L460.1,101.8 L460.6,100.8 L461.1,99.8 L461.6,98.7 L462.1,97.6 L462.6,96.5 L463.1,95.4 L463.6,94.3 L464.1,93.2 L464.6,92.1 L465.1,91.0 L465.6,89.9 L466.1,88.8 L466.6,87.6 L467.1,86.5 L467.6,85.4 L468.1,84.3 L468.6,83.3 L469.1,82.2 L469.6,81.1 L470.1,80.1 L470.6,79.1 L471.1,78.1 L471.6,77.1 L472.1,76.1 L472.6,75.2 L473.1,74.4 L473.6,73.6 L474.1,72.9 L474.6,72.3 L475.1,71.7 L475.6,71.1 L476.1,70.7 L476.6,70.2 L477.1,69.8 L477.6,69.4 L478.1,69.0 L478.6,68.7 L479.1,68.4 L479.6,68.2 L480.1,67.9 L480.6,67.7 L481.1,67.5 L481.6,67.4 L482.1,67.2 L482.6,67.1 L483.1,67.0 L483.6,66.9 L484.1,66.8 L484.6,66.7 L485.1,66.7 L485.6,66.7 L486.1,66.7 L486.6,66.7 L487.1,66.7 L487.6,66.7 L488.1,66.8 L488.6,66.8 L489.1,66.9 L489.6,67.0 L490.1,67.1 L490.6,67.2 L491.1,67.3 L491.6,67.4 L492.1,67.5 L492.6,67.7 L493.1,67.8 L493.6,68.0 L494.1,68.2 L494.6,68.3 L495.1,68.5 L495.6,68.7 L496.1,68.9 L496.6,69.1 L497.1,69.3 L497.6,69.5 L498.1,69.7 L498.6,70.0 L499.1,70.2 L499.6,70.4 L500.1,70.7 L500.6,70.9 L501.1,71.2 L501.6,71.4 L502.1,71.7 L502.6,71.9 L503.1,72.2 L503.6,72.5 L504.1,72.7 L504.6,73.0 L505.1,73.3 L505.6,73.5 L506.1,73.8 L506.6,74.0 L507.1,74.3 L507.6,74.6 L508.1,74.8 L508.6,75.1 L509.1,75.3 L509.6,75.6 L510.1,75.8 L510.6,76.1 L511.1,76.3 L511.6,76.6 L512.1,76.8 L512.6,77.0 L513.1,77.3 L513.6,77.5 L514.1,77.7 L514.6,78.0 L515.1,78.2 L515.6,78.4 L516.1,78.6 L516.6,78.8 L517.1,79.0 L517.6,79.2 L518.1,79.4 L518.6,79.5 L519.1,79.7 L519.6,79.9 L520.1,80.1 L520.6,80.2 L521.1,80.4 L521.6,80.5 L522.1,80.7 L522.6,80.8 L523.1,81.0 L523.6,81.1 L524.1,81.2 L524.6,81.4 L525.1,81.5 L525.6,81.6 L526.1,81.7 L526.6,81.8 L527.1,81.9 L527.6,82.0 L528.1,82.1 L528.6,82.2 L529.1,82.3 L529.6,82.4 L530.1,82.4 L530.6,82.5 L531.1,82.6 L531.6,82.7 L532.1,82.7 L532.6,82.8 L533.1,82.8 L533.6,82.9 L534.1,83.0 L534.6,83.0 L535.1,83.1 L535.6,83.1 L536.1,83.1 L536.6,83.2 L537.1,83.2 L537.6,83.3 L538.1,83.3 L538.6,83.3 L539.1,83.4 L539.6,83.4 L540.1,83.4 L540.6,83.4 L541.1,83.5 L541.6,83.5 L542.1,83.5 L542.6,83.5 L543.1,83.6 L543.6,83.6 L544.1,83.6 L544.6,83.6 L545.1,83.6 L545.6,83.6 L546.1,83.6 L546.6,83.7 L547.1,83.7 L547.6,83.7 L548.1,83.7 L548.6,83.7 L549.1,83.7 L549.6,83.7 L550.1,83.7 L550.6,83.7 L551.1,83.7 L551.6,83.7 L552.1,83.7 L552.6,83.7 L553.1,83.7 L553.6,83.8 L554.1,83.8 L554.6,83.8 L555.1,83.8 L555.6,83.8 L556.1,83.8 L556.6,83.8 L557.1,83.8 L557.6,83.8 L558.1,83.8 L558.6,83.8 L559.1,83.8 L559.6,83.8 L560.1,83.8 L560.6,83.8 L561.1,83.8 L561.6,83.8 L562.1,83.7 L562.6,83.7 L563.1,83.7 L563.6,83.7 L564.1,83.7 L564.6,83.7 L565.1,83.6 L565.6,83.6 L566.1,83.6 L566.6,83.6 L567.1,83.5 L567.6,83.5 L568.1,83.5 L568.6,83.4 L569.1,83.4 L569.6,83.4 L570.1,83.4 L570.6,83.3 L571.1,83.3 L571.6,83.2 L572.1,83.2 L572.6,83.2 L573.1,83.1 L573.6,83.1 L574.1,83.0 L574.6,83.0 L575.1,83.0 L575.6,82.9 L576.1,82.9 L576.6,82.8 L577.1,82.8 L577.6,82.7 L578.1,82.7 L578.6,82.6 L579.1,82.6 L579.6,82.5 L580.1,82.5 L580.6,82.4 L581.1,82.4 L581.6,82.3 L582.1,82.3 L582.6,82.2 L583.1,82.2 L583.6,82.1 L584.1,82.0 L584.6,82.0 L585.1,81.9 L585.6,81.9 L586.1,81.8 L586.6,81.7 L587.1,81.7 L587.6,81.6 L588.1,81.6 L588.6,81.5 L589.1,81.4 L589.6,81.4 L590.1,81.3 L590.6,81.2 L591.1,81.2 L591.6,81.1 L592.1,81.0 L592.6,81.0 L593.1,80.9 L593.6,80.8 L594.1,80.8 L594.6,80.7 L595.1,80.6 L595.6,80.6 L596.1,80.5 L596.6,80.4 L597.1,80.3 L597.6,80.3 L598.1,80.2 L598.6,80.1 L599.1,80.0 L599.6,80.0 L600.1,79.9 L600.6,79.8 L601.1,79.7 L601.6,79.6 L602.1,79.6 L602.6,79.5 L603.1,79.4 L603.6,79.3 L604.1,79.2 L604.6,79.2 L605.1,79.1 L605.6,79.0 L606.1,78.9 L606.6,78.8 L607.1,78.8 L607.6,78.7 L608.1,78.6 L608.6,78.5 L609.1,78.4 L609.6,78.3 L610.1,78.2 L610.6,78.1 L611.1,78.1 L611.6,78.0 L612.1,77.9 L612.6,77.8 L613.1,77.7 L613.6,77.6 L614.1,77.5 L614.6,77.4 L615.1,77.3 L615.6,77.2 L616.1,77.1 L616.6,77.1 L617.1,77.0 L617.6,76.9 L618.1,76.8 L618.6,76.7 L619.1,76.6 L619.6,76.5 L620.1,76.4 L620.6,76.3 L621.1,76.2 L621.6,76.1 L622.1,76.0 L622.6,75.9 L623.1,75.8 L623.6,75.7 L624.1,75.6 L624.6,75.5 L625.1,75.4 L625.6,75.3 L626.1,75.2 L626.6,75.1"/>
<path stroke="#008000" d="M627.0,86.6 L622.5,88.6 L617.9,90.6 L613.3,92.6 L608.7,94.5 L604.3,96.4 L600.0,98.3 L596.6,99.8 L593.4,101.2 L590.3,102.6 L587.1,104.0 L583.7,105.3 L580.0,106.7 L574.0,108.7 L567.2,110.7 L560.0,112.7 L552.9,114.7 L546.0,116.5 L540.0,118.1 L536.3,119.1 L532.8,120.0 L529.6,120.8 L526.4,121.6 L523.3,122.4 L520.0,123.2 L516.6,124.1 L513.1,125.1 L509.6,126.0 L506.2,126.9 L502.9,127.8 L500.0,128.6 L498.1,129.2 L496.4,129.7 L494.8,130.2 L493.2,130.7 L491.6,131.2 L490.0,131.7 L488.3,132.3 L486.7,132.9 L485.0,133.5 L483.3,134.0 L481.7,134.7 L480.0,135.3 L478.4,135.8 L476.8,136.4 L475.2,137.0 L473.6,137.6 L471.9,138.2 L470.0,139.0 L466.9,140.2 L463.3,141.5 L459.5,143.0 L455.8,144.6 L452.5,146.3 L449.7,148.2 L448.1,149.7 L446.7,151.3 L445.5,153.0 L444.4,154.7 L443.4,156.4 L442.5,158.2 L441.5,159.8 L440.7,161.5 L439.9,163.1 L439.2,164.8 L438.4,166.5 L437.7,168.1 L437.0,169.7 L436.3,171.2 L435.6,172.8 L434.9,174.3 L434.3,175.8 L433.6,177.3 L433.0,178.9 L432.4,180.4 L431.7,182.0 L431.1,183.5 L430.6,185.1 L430.0,186.5 L429.5,187.9 L429.0,189.2 L428.6,190.5 L428.1,191.8 L427.7,193.0 L427.2,194.2 L426.8,195.3 L426.4,196.3 L426.0,197.4 L425.6,198.4 L425.2,199.4 L424.8,200.4 L424.4,201.3 L424.1,202.2 L423.7,203.1 L423.4,204.0 L423.0,204.8 L422.5,205.7 L421.9,206.8 L421.3,207.8 L420.6,208.9 L419.9,209.9 L419.2,210.8 L418.5,211.7 L418.0,212.3 L417.4,212.9 L416.8,213.4 L416.2,213.9 L415.6,214.4 L415.0,214.7 L414.4,215.0 L413.8,215.3 L413.2,215.4 L412.6,215.6 L412.0,215.7 L411.5,215.7 L411.1,215.7 L410.7,215.6 L410.3,215.5 L410.0,215.3 L409.6,215.1 L409.1,214.9 L408.3,214.5 L407.3,214.1 L406.2,213.5 L405.1,212.9 L404.0,212.2 L402.9,211.4 L401.6,210.4 L400.3,209.2 L399.0,207.8 L397.6,206.5 L396.3,205.1 L394.9,203.9 L393.4,202.5 L391.9,201.1 L390.3,199.7 L388.7,198.4 L387.1,197.2 L385.4,196.0 L383.5,195.0 L381.5,194.1 L379.5,193.3 L377.5,192.6 L375.4,192.0 L373.5,191.5 L371.8,191.2 L370.1,190.9 L368.3,190.7 L366.7,190.6 L365.2,190.5 L364.0,190.5 L363.5,190.5 L363.0,190.5 L362.6,190.6 L362.2,190.6 L361.8,190.7 L361.3,190.8 L360.8,191.0 L360.3,191.1 L359.8,191.3 L359.2,191.6 L358.7,191.9 L358.2,192.1 L357.7,192.5 L357.3,192.8 L356.8,193.2 L356.4,193.7 L356.0,194.1 L355.6,194.6 L355.2,195.1 L354.8,195.7 L354.4,196.3 L354.1,196.9 L353.7,197.5 L353.4,198.1 L353.2,198.6 L353.0,199.1 L352.8,199.6 L352.6,200.1 L352.4,200.7 L352.1,201.4 L351.4,203.5 L350.5,206.2 L349.4,209.3 L348.4,212.6 L347.4,215.9 L346.5,218.9 L345.8,221.4 L345.2,223.9 L344.7,226.4 L344.1,228.8 L343.6,231.3 L343.1,233.8 L342.6,236.3 L342.1,238.8 L341.6,241.2 L341.1,243.7 L340.7,246.2 L340.2,248.7 L339.7,251.2 L339.3,253.7 L338.8,256.2 L338.4,258.7 L337.9,261.2 L337.5,263.6 L337.0,266.1 L336.6,268.6 L336.1,271.1 L335.6,273.6 L335.2,276.1 L334.7,278.6 L334.3,281.0 L333.8,283.5 L333.3,286.0 L332.9,288.5 L332.5,291.0 L332.0,293.5 L331.6,296.0 L331.2,298.5 L330.9,300.9 L330.5,303.4 L330.1,305.9 L329.8,308.4 L329.4,310.9 L329.1,313.4 L328.8,315.9 L328.5,318.4 L328.1,320.8 L327.8,323.3 L327.5,325.8 L327.2,328.3 L326.9,330.8 L326.6,333.3 L326.3,335.8 L326.0,338.3 L325.7,340.7 L325.4,343.2 L325.1,345.7 L324.8,348.2 L324.5,350.7 L324.2,353.2 L323.9,355.7 L323.7,358.3 L323.4,360.9 L323.2,363.4 L322.8,365.9 L322.5,368.1 L322.2,369.7 L321.8,371.2 L321.5,372.6 L321.1,374.0 L320.7,375.3 L320.3,376.6 L320.0,377.7 L319.7,378.7 L319.3,379.8 L319.0,380.8 L318.7,381.7 L318.3,382.6 L318.1,383.3 L317.8,383.9 L317.6,384.5 L317.3,385.0 L317.0,385.6 L316.7,386.1 L316.3,386.6 L315.9,387.2 L315.4,387.7 L314.9,388.2 L314.5,388.5 L314.0,388.6 L313.5,388.5 L313.1,388.2 L312.6,387.7 L312.2,387.2 L311.7,386.6 L311.4,386.1 L311.1,385.6 L310.8,385.0 L310.6,384.5 L310.4,383.9 L310.2,383.3 L309.9,382.6 L309.6,381.7 L309.4,380.8 L309.1,379.8 L308.8,378.7 L308.5,377.7 L308.3,376.6 L307.9,375.3 L307.6,374.0 L307.3,372.7 L307.0,371.3 L306.8,369.7 L306.5,368.1 L306.1,365.3 L305.8,362.0 L305.5,358.6 L305.2,355.0 L305.0,351.5 L304.7,348.0 L304.4,344.7 L304.0,341.3 L303.7,338.0 L303.4,334.6 L303.1,331.3 L302.8,328.0 L302.5,324.6 L302.2,321.3 L301.9,317.9 L301.6,314.6 L301.3,311.2 L301.0,307.9 L300.7,304.5 L300.4,301.2 L300.1,297.9 L299.7,294.5 L299.4,291.2 L299.1,287.8 L298.8,284.5 L298.5,281.1 L298.2,277.8 L297.9,274.4 L297.6,271.1 L297.3,267.7 L297.0,264.4 L296.7,261.1 L296.4,257.7 L296.1,254.4 L295.8,251.0 L295.5,247.7 L295.1,244.2 L294.8,240.6 L294.5,236.9 L294.2,233.5 L293.9,230.3 L293.6,227.6 L293.5,226.3 L293.3,225.2 L293.2,224.2 L293.1,223.2 L292.9,222.2 L292.7,221.1 L292.4,219.9 L292.1,218.7 L291.7,217.4 L291.4,216.2 L290.9,215.0 L290.5,213.8 L290.0,212.8 L289.5,211.7 L289.0,210.8 L288.4,209.8 L287.9,208.9 L287.2,208.0 L286.6,207.2 L285.9,206.4 L285.1,205.6 L284.4,204.9 L283.6,204.3 L282.9,203.7 L282.2,203.2 L281.6,202.8 L280.9,202.4 L280.2,202.0 L279.6,201.7 L278.9,201.4 L278.4,201.2 L278.0,201.0 L277.5,200.9 L277.1,200.7 L276.6,200.6 L275.9,200.4 L274.4,200.0 L272.6,199.5 L270.5,198.9 L268.3,198.3 L266.1,197.7 L263.9,197.2 L261.7,196.6 L259.5,196.0 L257.2,195.3 L254.9,194.7 L252.5,194.1 L250.0,193.4 L246.9,192.5 L243.6,191.5 L240.3,190.5 L236.9,189.5 L233.5,188.6 L230.0,188.0 L226.4,187.6 L222.8,187.4 L219.1,187.4 L215.4,187.5 L211.7,187.5 L208.0,187.4 L204.3,187.3 L200.6,187.2 L197.0,187.0 L193.3,186.9 L189.6,186.7 L186.0,186.6 L182.4,186.4 L178.8,186.3 L175.2,186.1 L171.6,186.0 L168.2,185.8 L165.0,185.7 L162.6,185.6 L160.3,185.5 L158.2,185.3 L156.0,185.2 L154.0,185.1 L152.0,185.0 L150.4,185.0 L148.9,184.9 L147.4,184.8 L145.9,184.7 L143.9,184.7 L142.9,184.0 L142.9,183.0 L143.6,182.9 L144.1,181.7 L144.6,180.7 L145.1,179.8 L145.6,179.0 L146.1,178.4 L146.6,177.8 L147.1,177.2 L147.6,176.7 L148.1,176.3 L148.6,175.9 L149.1,175.5 L149.6,175.2 L150.1,174.9 L150.6,174.6 L151.1,174.3 L151.6,174.1 L152.1,173.8 L152.6,173.6 L153.1,173.3 L153.6,173.1 L154.1,172.9 L154.6,172.7 L155.1,172.5 L155.6,172.3 L156.1,172.1 L156.6,171.9 L157.1,171.7 L157.6,171.5 L158.1,171.3 L158.6,171.1 L159.1,171.0 L159.6,170.8 L160.1,170.6 L160.6,170.4 L161.1,170.3 L161.6,170.1 L162.1,169.9 L162.6,169.8 L163.1,169.6 L163.6,169.5 L164.1,169.3 L164.6,169.1 L165.1,169.0 L165.6,168.8 L166.1,168.7 L166.6,168.5 L167.1,168.4 L167.6,168.2 L168.1,168.1 L168.6,167.9 L169.1,167.8 L169.6,167.6 L170.1,167.5 L170.6,167.3 L171.1,167.2 L171.6,167.1 L172.1,166.9 L172.6,166.8 L173.1,166.7 L173.6,166.5 L174.1,166.4 L174.6,166.3 L175.1,166.1 L175.6,166.0 L176.1,165.9 L176.6,165.8 L177.1,165.6 L177.6,165.5 L178.1,165.4 L178.6,165.3 L179.1,165.1 L179.6,165.0 L180.1,164.9 L180.6,164.8 L181.1,164.7 L181.6,164.6 L182.1,164.4 L182.6,164.3 L183.1,164.2 L183.6,164.1 L184.1,164.0 L184.6,163.9 L185.1,163.8 L185.6,163.7 L186.1,163.6 L186.6,163.5 L187.1,163.4 L187.6,163.3 L188.1,163.2 L188.6,163.1 L189.1,162.9 L189.6,162.8 L190.1,162.7 L190.6,162.7 L191.1,162.6 L191.6,162.5 L192.1,162.4 L192.6,162.3 L193.1,162.2 L193.6,162.1 L194.1,162.0 L194.6,161.9 L195.1,161.8 L195.6,161.7 L196.1,161.6 L196.6,161.5 L197.1,161.4 L197.6,161.4 L198.1,161.3 L198.6,161.2 L199.1,161.1 L199.6,161.0 L200.1,160.9 L200.6,160.8 L201.1,160.8 L201.6,160.7 L202.1,160.6 L202.6,160.5 L203.1,160.4 L203.6,160.4 L204.1,160.3 L204.6,160.2 L205.1,160.1 L205.6,160.1 L206.1,160.0 L206.6,159.9 L207.1,159.8 L207.6,159.8 L208.1,159.7 L208.6,159.6 L209.1,159.5 L209.6,159.5 L210.1,159.4 L210.6,159.3 L211.1,159.2 L211.6,159.2 L212.1,159.1 L212.6,159.0 L213.1,159.0 L213.6,158.9 L214.1,158.8 L214.6,158.8 L215.1,158.7 L215.6,158.6 L216.1,158.6 L216.6,158.5 L217.1,158.4 L217.6,158.4 L218.1,158.3 L218.6,158.2 L219.1,158.2 L219.6,158.1 L220.1,158.1 L220.6,158.0 L221.1,157.9 L221.6,157.9 L222.1,157.8 L222.6,157.8 L223.1,157.7 L223.6,157.6 L224.1,157.6 L224.6,157.5 L225.1,157.5 L225.6,157.4 L226.1,157.3 L226.6,157.3 L227.1,157.2 L227.6,157.2 L228.1,157.1 L228.6,157.1 L229.1,157.0 L229.6,157.0 L230.1,156.9 L230.6,156.9 L231.1,156.8 L231.6,156.7 L232.1,156.7 L232.6,156.6 L233.1,156.6 L233.6,156.5 L234.1,156.5 L234.6,156.4 L235.1,156.4 L235.6,156.3 L236.1,156.3 L236.6,156.2 L237.1,156.2 L237.6,156.1 L238.1,156.1 L238.6,156.0 L239.1,156.0 L239.6,156.0 L240.1,155.9 L240.6,155.9 L241.1,155.8 L241.6,155.8 L242.1,155.8 L242.6,155.7 L243.1,155.7 L243.6,155.6 L244.1,155.6 L244.6,155.5 L245.1,155.5 L245.6,155.5 L246.1,155.4 L246.6,155.4 L247.1,155.3 L247.6,155.3 L248.1,155.2 L248.6,155.2 L249.1,155.1 L249.6,155.0 L250.1,155.0 L250.6,154.9 L251.1,154.8 L251.6,154.8 L252.1,154.7 L252.6,154.6 L253.1,154.5 L253.6,154.5 L254.1,154.4 L254.6,154.3 L255.1,154.2 L255.6,154.1 L256.1,154.0 L256.6,153.9 L257.1,153.9 L257.6,153.8 L258.1,153.7 L258.6,153.6 L259.1,153.5 L259.6,153.4 L260.1,153.3 L260.6,153.2 L261.1,153.1 L261.6,153.0 L262.1,152.9 L262.6,152.8 L263.1,152.7 L263.6,152.6 L264.1,152.5 L264.6,152.4 L265.1,152.3 L265.6,152.2 L266.1,152.1 L266.6,152.0 L267.1,151.9 L267.6,151.8 L268.1,151.7 L268.6,151.5 L269.1,151.4 L269.6,151.3 L270.1,151.2 L270.6,151.0 L271.1,150.9 L271.6,150.7 L272.1,150.5 L272.6,150.4 L273.1,150.2 L273.6,150.0 L274.1,149.8 L274.6,149.6 L275.1,149.4 L275.6,149.2 L276.1,149.0 L276.6,148.8 L277.1,148.6 L277.6,148.4 L278.1,148.2 L278.6,148.0 L279.1,147.8 L279.6,147.6 L280.1,147.3 L280.6,147.1 L281.1,146.9 L281.6,146.6 L282.1,146.4 L282.6,146.2 L283.1,145.9 L283.6,145.7 L284.1,145.4 L284.6,145.1 L285.1,144.9 L285.6,144.6 L286.1,144.4 L286.6,144.1 L287.1,143.9 L287.6,143.6 L288.1,143.4 L288.6,143.2 L289.1,142.9 L289.6,142.7 L290.1,142.5 L290.6,142.3 L291.1,142.2 L291.6,142.0 L292.1,141.8 L292.6,141.6 L293.1,141.4 L293.6,141.3 L294.1,141.1 L294.6,141.0 L295.1,140.8 L295.6,140.6 L296.1,140.5 L296.6,140.3 L297.1,140.2 L297.6,140.1 L298.1,139.9 L298.6,139.8 L299.1,139.6 L299.6,139.5 L300.1,139.4 L300.6,139.2 L301.1,139.1 L301.6,139.0 L302.1,138.8 L302.6,138.7 L303.1,138.6 L303.6,138.5 L304.1,138.4 L304.6,138.2 L305.1,138.1 L305.6,138.0 L306.1,137.9 L306.6,137.8 L307.1,137.7 L307.6,137.6 L308.1,137.5 L308.6,137.4 L309.1,137.3 L309.6,137.2 L310.1,137.0 L310.6,136.9 L311.1,136.8 L311.6,136.7 L312.1,136.6 L312.6,136.5 L313.1,136.4 L313.6,136.3 L314.1,136.2 L314.6,136.1 L315.1,136.0 L315.6,135.9 L316.1,135.8 L316.6,135.7 L317.1,135.7 L317.6,135.6 L318.1,135.5 L318.6,135.4 L319.1,135.3 L319.6,135.2 L320.1,135.2 L320.6,135.1 L321.1,135.0 L321.6,134.9 L322.1,134.9 L322.6,134.8 L323.1,134.7 L323.6,134.6 L324.1,134.6 L324.6,134.5 L325.1,134.4 L325.6,134.4 L326.1,134.3 L326.6,134.2 L327.1,134.2 L327.6,134.1 L328.1,134.1 L328.6,134.0 L329.1,134.0 L329.6,133.9 L330.1,133.9 L330.6,133.9 L331.1,133.8 L331.6,133.8 L332.1,133.8 L332.6,133.7 L333.1,133.7 L333.6,133.7 L334.1,133.6 L334.6,133.6 L335.1,133.6 L335.6,133.6 L336.1,133.6 L336.6,133.5 L337.1,133.5 L337.6,133.5 L338.1,133.5 L338.6,133.5 L339.1,133.5 L339.6,133.4 L340.1,133.4 L340.6,133.4 L341.1,133.4 L341.6,133.4 L342.1,133.4 L342.6,133.3 L343.1,133.3 L343.6,133.3 L344.1,133.3 L344.6,133.3 L345.1,133.2 L345.6,133.2 L346.1,133.2 L346.6,133.1 L347.1,133.1 L347.6,133.1 L348.1,133.0 L348.6,133.0 L349.1,133.0 L349.6,132.9 L350.1,132.9 L350.6,132.8 L351.1,132.8 L351.6,132.7 L352.1,132.6 L352.6,132.5 L353.1,132.4 L353.6,132.3 L354.1,132.1 L354.6,131.9 L355.1,131.7 L355.6,131.4 L356.1,131.2 L356.6,130.9 L357.1,130.5 L357.6,130.2 L358.1,129.8 L358.6,129.3 L359.1,128.8 L359.6,128.3 L360.1,127.7 L360.6,127.0 L361.1,126.4 L361.6,125.7 L362.1,125.0 L362.6,124.4 L363.1,123.7 L363.6,123.0 L364.1,122.4 L364.6,121.7 L365.1,121.1 L365.6,120.5 L366.1,119.9 L366.6,119.4 L367.1,118.9 L367.6,118.4 L368.1,117.9 L368.6,117.5 L369.1,117.1 L369.6,116.7 L370.1,116.3 L370.6,116.0 L371.1,115.7 L371.6,115.4 L372.1,115.1 L372.6,114.8 L373.1,114.6 L373.6,114.4 L374.1,114.1 L374.6,113.9 L375.1,113.8 L375.6,113.6 L376.1,113.4 L376.6,113.3 L377.1,113.1 L377.6,113.0 L378.1,112.9 L378.6,112.8 L379.1,112.7 L379.6,112.5 L380.1,112.4 L380.6,112.3 L381.1,112.1 L381.6,112.0 L382.1,111.8 L382.6,111.7 L383.1,111.5 L383.6,111.3 L384.1,111.1 L384.6,110.9 L385.1,110.7 L385.6,110.5 L386.1,110.3 L386.6,110.1 L387.1,109.8 L387.6,109.6 L388.1,109.4 L388.6,109.2 L389.1,108.9 L389.6,108.7 L390.1,108.5 L390.6,108.2 L391.1,108.0 L391.6,107.8 L392.1,107.6 L392.6,107.3 L393.1,107.1 L393.6,106.9 L394.1,106.7 L394.6,106.5 L395.1,106.2 L395.6,106.0 L396.1,105.8 L396.6,105.6 L397.1,105.3 L397.6,105.1 L398.1,104.8 L398.6,104.6 L399.1,104.3 L399.6,104.1 L400.1,103.8 L400.6,103.6 L401.1,103.3 L401.6,103.1 L402.1,102.8 L402.6,102.6 L403.1,102.3 L403.6,102.1 L404.1,101.8 L404.6,101.6 L405.1,101.4 L405.6,101.2 L406.1,101.0 L406.6,100.9 L407.1,100.7 L407.6,100.6 L408.1,100.4 L408.6,100.3 L409.1,100.2 L409.6,100.2 L410.1,100.1 L410.6,100.1 L411.1,100.0 L411.6,100.0 L412.1,100.0 L412.6,100.0 L413.1,100.0 L413.6,100.0 L414.1,100.0 L414.6,100.0 L415.1,100.0 L415.6,100.1 L416.1,100.1 L416.6,100.1 L417.1,100.1 L417.6,100.1 L418.1,100.1 L418.6,100.1 L419.1,100.1 L419.6,100.1 L420.1,100.2 L420.6,100.2 L421.1,100.2 L421.6,100.2 L422.1,100.2 L422.6,100.2 L423.1,100.3 L423.6,100.3 L424.1,100.3 L424.6,100.3 L425.1,100.3 L425.6,100.3 L426.1,100.3 L426.6,100.4 L427.1,100.4 L427.6,100.4 L428.1,100.4 L428.6,100.4 L429.1,100.4 L429.6,100.4 L430.1,100.4 L430.6,100.5 L431.1,100.5 L431.6,100.5 L432.1,100.5 L432.6,100.5 L433.1,100.5 L433.6,100.5 L434.1,100.5 L434.6,100.5 L435.1,100.5 L435.6,100.5 L436.1,100.5 L436.6,100.5 L437.1,100.5 L437.6,100.4 L438.1,100.4 L438.6,100.4 L439.1,100.4 L439.6,100.3 L440.1,100.3 L440.6,100.3 L441.1,100.2 L441.6,100.2 L442.1,100.1 L442.6,100.1 L443.1,100.1 L443.6,100.0 L444.1,100.0 L444.6,99.9 L445.1,99.8 L445.6,99.8 L446.1,99.7 L446.6,99.7 L447.1,99.6 L447.6,99.5 L448.1,99.5 L448.6,99.4 L449.1,99.3 L449.6,99.2 L450.1,99.2 L450.6,99.1 L451.1,99.0 L451.6,98.9 L452.1,98.8 L452.6,98.8 L453.1,98.7 L453.6,98.6 L454.1,98.5 L454.6,98.4 L455.1,98.3 L455.6,98.2 L456.1,98.1 L456.6,97.9 L457.1,97.7 L457.6,97.5 L458.1,97.2 L458.6,96.7 L459.1,96.2 L459.6,95.5 L460.1,94.8 L460.6,93.9 L461.1,92.9 L461.6,91.9 L462.1,90.8 L462.6,89.8 L463.1,88.7 L463.6,87.6 L464.1,86.6 L464.6,85.5 L465.1,84.4 L465.6,83.3 L466.1,82.3 L466.6,81.2 L467.1,80.1 L467.6,79.0 L468.1,77.9 L468.6,76.9 L469.1,75.8 L469.6,74.8 L470.1,73.7 L470.6,72.7 L471.1,71.7 L471.6,70.7 L472.1,69.7 L472.6,68.8 L473.1,67.8 L473.6,67.0 L474.1,66.1 L474.6,65.4 L475.1,64.7 L475.6,64.0 L476.1,63.4 L476.6,62.9 L477.1,62.4 L477.6,61.9 L478.1,61.5 L478.6,61.1 L479.1,60.7 L479.6,60.4 L480.1,60.1 L480.6,59.8 L481.1,59.6 L481.6,59.3 L482.1,59.2 L482.6,59.0 L483.1,58.8 L483.6,58.7 L484.1,58.5 L484.6,58.4 L485.1,58.3 L485.6,58.2 L486.1,58.2 L486.6,58.1 L487.1,58.1 L487.6,58.1 L488.1,58.1 L488.6,58.1 L489.1,58.1 L489.6,58.1 L490.1,58.2 L490.6,58.3 L491.1,58.3 L491.6,58.4 L492.1,58.5 L492.6,58.6 L493.1,58.8 L493.6,58.9 L494.1,59.0 L494.6,59.2 L495.1,59.3 L495.6,59.5 L496.1,59.7 L496.6,59.9 L497.1,60.1 L497.6,60.3 L498.1,60.5 L498.6,60.7 L499.1,60.9 L499.6,61.1 L500.1,61.4 L500.6,61.6 L501.1,61.9 L501.6,62.1 L502.1,62.4 L502.6,62.6 L503.1,62.9 L503.6,63.2 L504.1,63.4 L504.6,63.7 L505.1,64.0 L505.6,64.3 L506.1,64.5 L506.6,64.8 L507.1,65.1 L507.6,65.4 L508.1,65.7 L508.6,66.0 L509.1,66.3 L509.6,66.5 L510.1,66.8 L510.6,67.1 L511.1,67.4 L511.6,67.7 L512.1,67.9 L512.6,68.2 L513.1,68.5 L513.6,68.8 L514.1,69.0 L514.6,69.3 L515.1,69.6 L515.6,69.8 L516.1,70.1 L516.6,70.3 L517.1,70.6 L517.6,70.8 L518.1,71.0 L518.6,71.3 L519.1,71.5 L519.6,71.7 L520.1,71.9 L520.6,72.2 L521.1,72.4 L521.6,72.6 L522.1,72.8 L522.6,73.0 L523.1,73.2 L523.6,73.3 L524.1,73.5 L524.6,73.7 L525.1,73.9 L525.6,74.0 L526.1,74.2 L526.6,74.3 L527.1,74.5 L527.6,74.6 L528.1,74.8 L528.6,74.9 L529.1,75.0 L529.6,75.2 L530.1,75.3 L530.6,75.4 L531.1,75.5 L531.6,75.6 L532.1,75.7 L532.6,75.8 L533.1,75.9 L533.6,76.0 L534.1,76.1 L534.6,76.2 L535.1,76.3 L535.6,76.3 L536.1,76.4 L536.6,76.5 L537.1,76.5 L537.6,76.6 L538.1,76.7 L538.6,76.7 L539.1,76.8 L539.6,76.8 L540.1,76.9 L540.6,76.9 L541.1,77.0 L541.6,77.0 L542.1,77.1 L542.6,77.1 L543.1,77.1 L543.6,77.2 L544.1,77.2 L544.6,77.2 L545.1,77.3 L545.6,77.3 L546.1,77.3 L546.6,77.3 L547.1,77.4 L547.6,77.4 L548.1,77.4 L548.6,77.4 L549.1,77.5 L549.6,77.5 L550.1,77.5 L550.6,77.5 L551.1,77.5 L551.6,77.5 L552.1,77.5 L552.6,77.6 L553.1,77.6 L553.6,77.6 L554.1,77.6 L554.6,77.6 L555.1,77.6 L555.6,77.6 L556.1,77.6 L556.6,77.6 L557.1,77.6 L557.6,77.6 L558.1,77.6 L558.6,77.6 L559.1,77.6 L559.6,77.6 L560.1,77.6 L560.6,77.6 L561.1,77.6 L561.6,77.6 L562.1,77.6 L562.6,77.6 L563.1,77.6 L563.6,77.6 L564.1,77.6 L564.6,77.6 L565.1,77.6 L565.6,77.5 L566.1,77.5 L566.6,77.5 L567.1,77.5 L567.6,77.5 L568.1,77.4 L568.6,77.4 L569.1,77.4 L569.6,77.3 L570.1,77.3 L570.6,77.3 L571.1,77.3 L571.6,77.2 L572.1,77.2 L572.6,77.2 L573.1,77.1 L573.6,77.1 L574.1,77.1 L574.6,77.0 L575.1,77.0 L575.6,76.9 L576.1,76.9 L576.6,76.9 L577.1,76.8 L577.6,76.8 L578.1,76.7 L578.6,76.7 L579.1,76.6 L579.6,76.6 L580.1,76.6 L580.6,76.5 L581.1,76.5 L581.6,76.4 L582.1,76.4 L582.6,76.3 L583.1,76.3 L583.6,76.2 L584.1,76.2 L584.6,76.1 L585.1,76.1 L585.6,76.0 L586.1,75.9 L586.6,75.9 L587.1,75.8 L587.6,75.8 L588.1,75.7 L588.6,75.7 L589.1,75.6 L589.6,75.5 L590.1,75.5 L590.6,75.4 L591.1,75.4 L591.6,75.3 L592.1,75.2 L592.6,75.2 L593.1,75.1 L593.6,75.1 L594.1,75.0 L594.6,74.9 L595.1,74.9 L595.6,74.8 L596.1,74.7 L596.6,74.7 L597.1,74.6 L597.6,74.5 L598.1,74.4 L598.6,74.4 L599.1,74.3 L599.6,74.2 L600.1,74.2 L600.6,74.1 L601.1,74.0 L601.6,73.9 L602.1,73.9 L602.6,73.8 L603.1,73.7 L603.6,73.6 L604.1,73.6 L604.6,73.5 L605.1,73.4 L605.6,73.3 L606.1,73.3 L606.6,73.2 L607.1,73.1 L607.6,73.0 L608.1,72.9 L608.6,72.9 L609.1,72.8 L609.6,72.7 L610.1,72.6 L610.6,72.5 L611.1,72.4 L611.6,72.4 L612.1,72.3 L612.6,72.2 L613.1,72.1 L613.6,72.0 L614.1,71.9 L614.6,71.8 L615.1,71.7 L615.6,71.7 L616.1,71.6 L616.6,71.5 L617.1,71.4 L617.6,71.3 L618.1,71.2 L618.6,71.1 L619.1,71.0 L619.6,70.9 L620.1,70.8 L620.6,70.7 L621.1,70.6 L621.6,70.6 L622.1,70.5 L622.6,70.4 L623.1,70.3 L623.6,70.2 L624.1,70.1 L624.6,70.0 L625.1,69.9 L625.6,69.8 L626.1,69.7 L626.6,69.6"/>
<path stroke="#0000a0" d="M627.0,84.0 L622.5,86.0 L617.9,88.1 L613.3,90.1 L608.7,92.2 L604.3,94.1 L600.0,96.0 L596.6,97.5 L593.4,99.0 L590.3,100.4 L587.1,101.7 L583.7,103.1 L580.0,104.5 L574.0,106.5 L567.2,108.5 L560.0,110.6 L552.9,112.5 L546.0,114.4 L540.0,116.0 L536.3,117.0 L532.8,117.9 L529.6,118.7 L526.4,119.5 L523.3,120.3 L520.0,121.1 L516.6,122.0 L513.1,122.9 L509.6,123.9 L506.2,124.8 L502.9,125.7 L500.0,126.5 L498.1,127.0 L496.4,127.6 L494.8,128.1 L493.2,128.6 L491.6,129.1 L490.0,129.6 L488.3,130.2 L486.7,130.8 L485.0,131.4 L483.3,132.0 L481.7,132.6 L480.0,133.2 L478.4,133.8 L476.8,134.3 L475.2,134.9 L473.5,135.5 L471.8,136.1 L470.0,136.9 L467.1,138.2 L463.8,139.7 L460.4,141.3 L457.0,143.0 L453.9,144.9 L451.3,146.8 L449.5,148.4 L448.0,150.2 L446.6,152.0 L445.4,153.8 L444.2,155.7 L443.0,157.6 L442.0,159.3 L441.1,161.1 L440.3,162.9 L439.5,164.7 L438.7,166.5 L437.9,168.3 L437.1,170.0 L436.4,171.6 L435.6,173.3 L434.9,174.9 L434.2,176.5 L433.5,178.2 L432.8,179.9 L432.2,181.5 L431.5,183.2 L430.9,184.9 L430.3,186.5 L429.7,188.1 L429.1,189.5 L428.6,191.0 L428.1,192.3 L427.6,193.7 L427.1,195.1 L426.6,196.4 L426.2,197.5 L425.7,198.7 L425.3,199.8 L424.8,200.8 L424.4,201.9 L423.9,203.0 L423.5,204.0 L423.2,204.9 L422.8,205.9 L422.4,206.8 L421.9,207.8 L421.5,208.8 L420.8,209.9 L420.1,211.1 L419.4,212.3 L418.6,213.5 L417.8,214.6 L417.1,215.5 L416.5,216.1 L415.9,216.7 L415.3,217.3 L414.7,217.7 L414.0,218.2 L413.4,218.5 L412.8,218.8 L412.1,219.1 L411.5,219.3 L410.9,219.4 L410.3,219.5 L409.7,219.5 L409.3,219.5 L408.9,219.4 L408.6,219.3 L408.3,219.1 L407.9,219.0 L407.5,218.8 L406.6,218.4 L405.7,217.9 L404.7,217.4 L403.7,216.8 L402.7,216.1 L401.7,215.4 L400.4,214.4 L399.2,213.2 L397.9,212.0 L396.7,210.7 L395.4,209.4 L394.1,208.1 L392.6,206.8 L391.2,205.5 L389.8,204.2 L388.3,202.9 L386.7,201.7 L385.1,200.6 L383.4,199.7 L381.5,198.8 L379.6,198.0 L377.7,197.3 L375.8,196.8 L373.9,196.3 L372.4,195.9 L370.7,195.7 L369.1,195.5 L367.6,195.4 L366.2,195.3 L365.0,195.3 L364.4,195.3 L364.0,195.3 L363.5,195.4 L363.1,195.4 L362.7,195.5 L362.2,195.6 L361.7,195.7 L361.1,195.9 L360.6,196.1 L360.0,196.3 L359.5,196.5 L359.0,196.8 L358.5,197.1 L358.0,197.4 L357.5,197.7 L357.1,198.1 L356.7,198.5 L356.3,198.9 L355.8,199.4 L355.5,199.9 L355.1,200.4 L354.7,201.0 L354.4,201.5 L354.1,202.1 L353.8,202.5 L353.6,202.9 L353.4,203.4 L353.2,203.8 L353.0,204.4 L352.8,205.0 L352.1,207.0 L351.2,209.6 L350.2,212.6 L349.2,215.7 L348.3,218.9 L347.5,221.8 L346.8,224.2 L346.3,226.6 L345.8,229.0 L345.3,231.4 L344.8,233.8 L344.3,236.2 L343.8,238.6 L343.3,241.0 L342.8,243.4 L342.3,245.9 L341.9,248.3 L341.4,250.7 L340.9,253.1 L340.4,255.5 L339.9,257.9 L339.5,260.3 L339.0,262.7 L338.5,265.1 L338.0,267.5 L337.5,270.0 L337.0,272.4 L336.5,274.8 L336.0,277.2 L335.6,279.6 L335.1,282.0 L334.6,284.4 L334.1,286.8 L333.6,289.2 L333.2,291.6 L332.7,294.1 L332.3,296.5 L331.9,298.9 L331.5,301.3 L331.2,303.7 L330.8,306.1 L330.4,308.5 L330.1,310.9 L329.8,313.3 L329.5,315.7 L329.2,318.1 L328.9,320.6 L328.6,323.0 L328.3,325.4 L328.0,327.8 L327.7,330.2 L327.4,332.6 L327.1,335.0 L326.8,337.4 L326.5,339.8 L326.2,342.2 L325.9,344.7 L325.7,347.1 L325.4,349.5 L325.1,351.9 L324.8,354.3 L324.5,356.7 L324.2,359.1 L324.0,361.5 L323.7,363.9 L323.4,366.3 L323.2,368.8 L322.9,371.3 L322.7,373.8 L322.4,376.3 L322.2,378.6 L321.8,380.8 L321.5,382.4 L321.1,383.9 L320.7,385.3 L320.4,386.7 L320.0,388.0 L319.6,389.3 L319.2,390.4 L318.9,391.4 L318.5,392.5 L318.2,393.5 L317.8,394.4 L317.5,395.3 L317.2,396.0 L317.0,396.6 L316.7,397.2 L316.4,397.7 L316.1,398.3 L315.8,398.8 L315.4,399.3 L314.9,399.9 L314.4,400.4 L314.0,400.9 L313.5,401.2 L313.0,401.3 L312.5,401.2 L312.1,400.9 L311.6,400.4 L311.1,399.9 L310.7,399.3 L310.3,398.8 L310.0,398.3 L309.7,397.7 L309.5,397.2 L309.3,396.6 L309.1,396.0 L308.8,395.3 L308.5,394.4 L308.2,393.5 L307.9,392.5 L307.7,391.4 L307.4,390.4 L307.1,389.3 L306.8,388.0 L306.5,386.7 L306.2,385.4 L305.9,384.0 L305.6,382.5 L305.3,380.8 L304.9,377.8 L304.6,374.5 L304.3,370.8 L304.0,367.0 L303.7,363.3 L303.4,359.6 L303.1,356.1 L302.7,352.6 L302.4,349.1 L302.1,345.5 L301.8,342.0 L301.5,338.5 L301.1,335.0 L300.8,331.4 L300.5,327.9 L300.2,324.4 L299.8,320.8 L299.5,317.3 L299.2,313.8 L298.9,310.3 L298.6,306.7 L298.2,303.2 L297.9,299.7 L297.6,296.2 L297.3,292.6 L297.0,289.1 L296.6,285.6 L296.3,282.1 L296.0,278.5 L295.7,275.0 L295.4,271.5 L295.0,268.0 L294.7,264.4 L294.4,260.9 L294.1,257.4 L293.8,253.8 L293.4,250.2 L293.1,246.4 L292.8,242.5 L292.5,238.9 L292.1,235.5 L291.8,232.7 L291.7,231.3 L291.5,230.2 L291.4,229.1 L291.3,228.1 L291.1,227.0 L290.9,225.9 L290.6,224.6 L290.3,223.3 L289.9,222.0 L289.5,220.7 L289.1,219.4 L288.6,218.2 L288.1,217.1 L287.6,216.0 L287.1,214.9 L286.5,213.9 L285.9,212.9 L285.3,211.9 L284.6,211.1 L283.9,210.2 L283.1,209.4 L282.3,208.6 L281.6,207.9 L280.8,207.2 L280.1,206.7 L279.4,206.2 L278.7,205.8 L278.1,205.4 L277.4,205.0 L276.7,204.6 L276.2,204.4 L275.8,204.2 L275.3,204.0 L274.8,203.8 L274.3,203.6 L273.7,203.4 L272.1,202.9 L270.2,202.2 L268.1,201.5 L265.9,200.8 L263.7,200.1 L261.7,199.4 L259.7,198.8 L257.9,198.2 L256.0,197.6 L254.1,197.0 L252.1,196.3 L250.0,195.6 L247.0,194.5 L243.8,193.3 L240.4,192.0 L237.0,190.8 L233.5,189.8 L230.0,189.0 L226.4,188.6 L222.8,188.4 L219.1,188.5 L215.4,188.6 L211.7,188.7 L208.0,188.8 L204.3,188.7 L200.6,188.7 L197.0,188.6 L193.3,188.6 L189.6,188.5 L186.0,188.5 L182.4,188.4 L178.8,188.3 L175.2,188.3 L171.6,188.2 L168.2,188.2 L165.0,188.1 L162.6,188.1 L160.3,188.0 L158.2,188.0 L156.0,187.9 L154.0,187.9 L152.0,187.9 L150.4,187.8 L148.9,187.8 L147.4,187.8 L145.9,187.8 L143.9,187.8 L142.9,187.1 L142.9,186.1 L143.6,185.8 L144.1,184.5 L144.6,183.4 L145.1,182.4 L145.6,181.5 L146.1,180.7 L146.6,180.1 L147.1,179.5 L147.6,178.9 L148.1,178.5 L148.6,178.0 L149.1,177.6 L149.6,177.2 L150.1,176.9 L150.6,176.6 L151.1,176.3 L151.6,176.0 L152.1,175.7 L152.6,175.4 L153.1,175.2 L153.6,174.9 L154.1,174.7 L154.6,174.5 L155.1,174.2 L155.6,174.0 L156.1,173.8 L156.6,173.6 L157.1,173.4 L157.6,173.2 L158.1,173.0 L158.6,172.8 L159.1,172.6 L159.6,172.4 L160.1,172.2 L160.6,172.0 L161.1,171.8 L161.6,171.6 L162.1,171.4 L162.6,171.3 L163.1,171.1 L163.6,170.9 L164.1,170.7 L164.6,170.5 L165.1,170.4 L165.6,170.2 L166.1,170.0 L166.6,169.9 L167.1,169.7 L167.6,169.5 L168.1,169.4 L168.6,169.2 L169.1,169.0 L169.6,168.9 L170.1,168.7 L170.6,168.6 L171.1,168.4 L171.6,168.3 L172.1,168.1 L172.6,168.0 L173.1,167.8 L173.6,167.7 L174.1,167.5 L174.6,167.4 L175.1,167.3 L175.6,167.1 L176.1,167.0 L176.6,166.8 L177.1,166.7 L177.6,166.6 L178.1,166.4 L178.6,166.3 L179.1,166.2 L179.6,166.0 L180.1,165.9 L180.6,165.8 L181.1,165.7 L181.6,165.5 L182.1,165.4 L182.6,165.3 L183.1,165.2 L183.6,165.0 L184.1,164.9 L184.6,164.8 L185.1,164.7 L185.6,164.6 L186.1,164.4 L186.6,164.3 L187.1,164.2 L187.6,164.1 L188.1,164.0 L188.6,163.9 L189.1,163.8 L189.6,163.7 L190.1,163.6 L190.6,163.4 L191.1,163.3 L191.6,163.2 L192.1,163.1 L192.6,163.0 L193.1,162.9 L193.6,162.8 L194.1,162.7 L194.6,162.6 L195.1,162.5 L195.6,162.4 L196.1,162.3 L196.6,162.2 L197.1,162.1 L197.6,162.0 L198.1,161.9 L198.6,161.8 L199.1,161.8 L199.6,161.7 L200.1,161.6 L200.6,161.5 L201.1,161.4 L201.6,161.3 L202.1,161.2 L202.6,161.1 L203.1,161.0 L203.6,161.0 L204.1,160.9 L204.6,160.8 L205.1,160.7 L205.6,160.6 L206.1,160.5 L206.6,160.5 L207.1,160.4 L207.6,160.3 L208.1,160.2 L208.6,160.1 L209.1,160.1 L209.6,160.0 L210.1,159.9 L210.6,159.8 L211.1,159.7 L211.6,159.7 L212.1,159.6 L212.6,159.5 L213.1,159.4 L213.6,159.4 L214.1,159.3 L214.6,159.2 L215.1,159.2 L215.6,159.1 L216.1,159.0 L216.6,158.9 L217.1,158.9 L217.6,158.8 L218.1,158.7 L218.6,158.7 L219.1,158.6 L219.6,158.5 L220.1,158.5 L220.6,158.4 L221.1,158.3 L221.6,158.3 L222.1,158.2 L222.6,158.1 L223.1,158.1 L223.6,158.0 L224.1,158.0 L224.6,157.9 L225.1,157.8 L225.6,157.8 L226.1,157.7 L226.6,157.6 L227.1,157.6 L227.6,157.5 L228.1,157.5 L228.6,157.4 L229.1,157.4 L229.6,157.3 L230.1,157.2 L230.6,157.2 L231.1,157.1 L231.6,157.1 L232.1,157.0 L232.6,157.0 L233.1,156.9 L233.6,156.8 L234.1,156.8 L234.6,156.7 L235.1,156.7 L235.6,156.6 L236.1,156.6 L236.6,156.5 L237.1,156.5 L237.6,156.4 L238.1,156.4 L238.6,156.3 L239.1,156.3 L239.6,156.2 L240.1,156.2 L240.6,156.1 L241.1,156.1 L241.6,156.1 L242.1,156.0 L242.6,156.0 L243.1,155.9 L243.6,155.9 L244.1,155.8 L244.6,155.8 L245.1,155.7 L245.6,155.7 L246.1,155.6 L246.6,155.6 L247.1,155.5 L247.6,155.5 L248.1,155.4 L248.6,155.4 L249.1,155.3 L249.6,155.3 L250.1,155.2 L250.6,155.1 L251.1,155.0 L251.6,155.0 L252.1,154.9 L252.6,154.8 L253.1,154.7 L253.6,154.6 L254.1,154.5 L254.6,154.4 L255.1,154.3 L255.6,154.2 L256.1,154.1 L256.6,154.0 L257.1,153.9 L257.6,153.8 L258.1,153.7 L258.6,153.6 L259.1,153.5 L259.6,153.4 L260.1,153.3 L260.6,153.2 L261.1,153.1 L261.6,153.0 L262.1,152.9 L262.6,152.7 L263.1,152.6 L263.6,152.5 L264.1,152.4 L264.6,152.3 L265.1,152.2 L265.6,152.1 L266.1,152.0 L266.6,151.8 L267.1,151.7 L267.6,151.6 L268.1,151.4 L268.6,151.3 L269.1,151.2 L269.6,151.0 L270.1,150.9 L270.6,150.7 L271.1,150.5 L271.6,150.3 L272.1,150.2 L272.6,150.0 L273.1,149.8 L273.6,149.6 L274.1,149.4 L274.6,149.1 L275.1,148.9 L275.6,148.7 L276.1,148.5 L276.6,148.2 L277.1,148.0 L277.6,147.8 L278.1,147.5 L278.6,147.3 L279.1,147.0 L279.6,146.8 L280.1,146.5 L280.6,146.3 L281.1,146.0 L281.6,145.7 L282.1,145.5 L282.6,145.2 L283.1,144.9 L283.6,144.6 L284.1,144.3 L284.6,144.0 L285.1,143.7 L285.6,143.4 L286.1,143.2 L286.6,142.9 L287.1,142.6 L287.6,142.3 L288.1,142.1 L288.6,141.8 L289.1,141.6 L289.6,141.3 L290.1,141.1 L290.6,140.9 L291.1,140.7 L291.6,140.4 L292.1,140.2 L292.6,140.0 L293.1,139.9 L293.6,139.7 L294.1,139.5 L294.6,139.3 L295.1,139.1 L295.6,138.9 L296.1,138.8 L296.6,138.6 L297.1,138.4 L297.6,138.3 L298.1,138.1 L298.6,138.0 L299.1,137.8 L299.6,137.6 L300.1,137.5 L300.6,137.3 L301.1,137.2 L301.6,137.1 L302.1,136.9 L302.6,136.8 L303.1,136.6 L303.6,136.5 L304.1,136.4 L304.6,136.2 L305.1,136.1 L305.6,136.0 L306.1,135.8 L306.6,135.7 L307.1,135.6 L307.6,135.5 L308.1,135.3 L308.6,135.2 L309.1,135.1 L309.6,135.0 L310.1,134.9 L310.6,134.7 L311.1,134.6 L311.6,134.5 L312.1,134.4 L312.6,134.3 L313.1,134.2 L313.6,134.0 L314.1,133.9 L314.6,133.8 L315.1,133.7 L315.6,133.6 L316.1,133.5 L316.6,133.4 L317.1,133.3 L317.6,133.2 L318.1,133.1 L318.6,133.0 L319.1,132.9 L319.6,132.8 L320.1,132.7 L320.6,132.6 L321.1,132.5 L321.6,132.5 L322.1,132.4 L322.6,132.3 L323.1,132.2 L323.6,132.1 L324.1,132.1 L324.6,132.0 L325.1,131.9 L325.6,131.8 L326.1,131.8 L326.6,131.7 L327.1,131.6 L327.6,131.6 L328.1,131.5 L328.6,131.4 L329.1,131.4 L329.6,131.3 L330.1,131.3 L330.6,131.3 L331.1,131.2 L331.6,131.2 L332.1,131.2 L332.6,131.1 L333.1,131.1 L333.6,131.1 L334.1,131.0 L334.6,131.0 L335.1,131.0 L335.6,131.0 L336.1,131.0 L336.6,130.9 L337.1,130.9 L337.6,130.9 L338.1,130.9 L338.6,130.9 L339.1,130.8 L339.6,130.8 L340.1,130.8 L340.6,130.8 L341.1,130.8 L341.6,130.8 L342.1,130.7 L342.6,130.7 L343.1,130.7 L343.6,130.7 L344.1,130.7 L344.6,130.6 L345.1,130.6 L345.6,130.6 L346.1,130.6 L346.6,130.5 L347.1,130.5 L347.6,130.5 L348.1,130.4 L348.6,130.4 L349.1,130.4 L349.6,130.3 L350.1,130.3 L350.6,130.2 L351.1,130.2 L351.6,130.1 L352.1,130.0 L352.6,129.9 L353.1,129.8 L353.6,129.7 L354.1,129.5 L354.6,129.3 L355.1,129.1 L355.6,128.8 L356.1,128.5 L356.6,128.2 L357.1,127.9 L357.6,127.5 L358.1,127.1 L358.6,126.7 L359.1,126.2 L359.6,125.6 L360.1,125.0 L360.6,124.4 L361.1,123.7 L361.6,123.0 L362.1,122.3 L362.6,121.6 L363.1,121.0 L363.6,120.3 L364.1,119.6 L364.6,118.9 L365.1,118.3 L365.6,117.7 L366.1,117.1 L366.6,116.6 L367.1,116.1 L367.6,115.6 L368.1,115.1 L368.6,114.7 L369.1,114.2 L369.6,113.8 L370.1,113.5 L370.6,113.1 L371.1,112.8 L371.6,112.5 L372.1,112.2 L372.6,112.0 L373.1,111.7 L373.6,111.5 L374.1,111.3 L374.6,111.1 L375.1,110.9 L375.6,110.7 L376.1,110.5 L376.6,110.4 L377.1,110.2 L377.6,110.1 L378.1,110.0 L378.6,109.9 L379.1,109.8 L379.6,109.6 L380.1,109.5 L380.6,109.4 L381.1,109.2 L381.6,109.1 L382.1,108.9 L382.6,108.8 L383.1,108.6 L383.6,108.4 L384.1,108.2 L384.6,108.0 L385.1,107.8 L385.6,107.6 L386.1,107.4 L386.6,107.2 L387.1,107.0 L387.6,106.8 L388.1,106.6 L388.6,106.3 L389.1,106.1 L389.6,105.9 L390.1,105.7 L390.6,105.4 L391.1,105.2 L391.6,105.0 L392.1,104.8 L392.6,104.6 L393.1,104.3 L393.6,104.1 L394.1,103.9 L394.6,103.7 L395.1,103.5 L395.6,103.3 L396.1,103.1 L396.6,102.8 L397.1,102.6 L397.6,102.4 L398.1,102.1 L398.6,101.9 L399.1,101.6 L399.6,101.4 L400.1,101.1 L400.6,100.9 L401.1,100.6 L401.6,100.4 L402.1,100.1 L402.6,99.9 L403.1,99.7 L403.6,99.4 L404.1,99.2 L404.6,99.0 L405.1,98.8 L405.6,98.6 L406.1,98.4 L406.6,98.2 L407.1,98.1 L407.6,97.9 L408.1,97.8 L408.6,97.7 L409.1,97.6 L409.6,97.6 L410.1,97.5 L410.6,97.5 L411.1,97.4 L411.6,97.4 L412.1,97.4 L412.6,97.4 L413.1,97.4 L413.6,97.4 L414.1,97.4 L414.6,97.4 L415.1,97.4 L415.6,97.4 L416.1,97.4 L416.6,97.4 L417.1,97.4 L417.6,97.4 L418.1,97.5 L418.6,97.5 L419.1,97.5 L419.6,97.5 L420.1,97.5 L420.6,97.5 L421.1,97.5 L421.6,97.5 L422.1,97.5 L422.6,97.5 L423.1,97.5 L423.6,97.5 L424.1,97.5 L424.6,97.5 L425.1,97.6 L425.6,97.6 L426.1,97.6 L426.6,97.6 L427.1,97.6 L427.6,97.6 L428.1,97.6 L428.6,97.6 L429.1,97.6 L429.6,97.6 L430.1,97.6 L430.6,97.6 L431.1,97.6 L431.6,97.6 L432.1,97.6 L432.6,97.6 L433.1,97.6 L433.6,97.6 L434.1,97.6 L434.6,97.6 L435.1,97.6 L435.6,97.6 L436.1,97.6 L436.6,97.6 L437.1,97.6 L437.6,97.6 L438.1,97.6 L438.6,97.5 L439.1,97.5 L439.6,97.5 L440.1,97.4 L440.6,97.4 L441.1,97.3 L441.6,97.3 L442.1,97.2 L442.6,97.2 L443.1,97.1 L443.6,97.1 L444.1,97.0 L444.6,97.0 L445.1,96.9 L445.6,96.8 L446.1,96.8 L446.6,96.7 L447.1,96.6 L447.6,96.5 L448.1,96.5 L448.6,96.4 L449.1,96.3 L449.6,96.2 L450.1,96.1 L450.6,96.1 L451.1,96.0 L451.6,95.9 L452.1,95.8 L452.6,95.7 L453.1,95.6 L453.6,95.5 L454.1,95.4 L454.6,95.3 L455.1,95.2 L455.6,95.1 L456.1,95.0 L456.6,94.8 L457.1,94.7 L457.6,94.5 L458.1,94.2 L458.6,93.8 L459.1,93.3 L459.6,92.7 L460.1,92.0 L460.6,91.2 L461.1,90.3 L461.6,89.3 L462.1,88.3 L462.6,87.2 L463.1,86.1 L463.6,85.0 L464.1,83.9 L464.6,82.8 L465.1,81.8 L465.6,80.7 L466.1,79.6 L466.6,78.5 L467.1,77.4 L467.6,76.3 L468.1,75.2 L468.6,74.1 L469.1,73.0 L469.6,71.9 L470.1,70.9 L470.6,69.8 L471.1,68.8 L471.6,67.8 L472.1,66.7 L472.6,65.7 L473.1,64.7 L473.6,63.8 L474.1,62.8 L474.6,61.9 L475.1,61.1 L475.6,60.3 L476.1,59.6 L476.6,58.9 L477.1,58.3 L477.6,57.7 L478.1,57.2 L478.6,56.7 L479.1,56.3 L479.6,55.8 L480.1,55.5 L480.6,55.1 L481.1,54.8 L481.6,54.5 L482.1,54.2 L482.6,53.9 L483.1,53.7 L483.6,53.5 L484.1,53.3 L484.6,53.2 L485.1,53.0 L485.6,52.9 L486.1,52.8 L486.6,52.7 L487.1,52.6 L487.6,52.5 L488.1,52.4 L488.6,52.4 L489.1,52.4 L489.6,52.4 L490.1,52.4 L490.6,52.4 L491.1,52.4 L491.6,52.5 L492.1,52.5 L492.6,52.6 L493.1,52.7 L493.6,52.7 L494.1,52.8 L494.6,52.9 L495.1,53.0 L495.6,53.2 L496.1,53.3 L496.6,53.4 L497.1,53.6 L497.6,53.8 L498.1,53.9 L498.6,54.1 L499.1,54.3 L499.6,54.5 L500.1,54.7 L500.6,54.9 L501.1,55.1 L501.6,55.3 L502.1,55.5 L502.6,55.7 L503.1,56.0 L503.6,56.2 L504.1,56.5 L504.6,56.7 L505.1,57.0 L505.6,57.2 L506.1,57.5 L506.6,57.7 L507.1,58.0 L507.6,58.3 L508.1,58.5 L508.6,58.8 L509.1,59.1 L509.6,59.4 L510.1,59.6 L510.6,59.9 L511.1,60.2 L511.6,60.5 L512.1,60.8 L512.6,61.0 L513.1,61.3 L513.6,61.6 L514.1,61.9 L514.6,62.1 L515.1,62.4 L515.6,62.7 L516.1,62.9 L516.6,63.2 L517.1,63.4 L517.6,63.7 L518.1,64.0 L518.6,64.2 L519.1,64.5 L519.6,64.7 L520.1,64.9 L520.6,65.2 L521.1,65.4 L521.6,65.6 L522.1,65.9 L522.6,66.1 L523.1,66.3 L523.6,66.5 L524.1,66.7 L524.6,66.9 L525.1,67.1 L525.6,67.3 L526.1,67.5 L526.6,67.7 L527.1,67.9 L527.6,68.1 L528.1,68.2 L528.6,68.4 L529.1,68.5 L529.6,68.7 L530.1,68.9 L530.6,69.0 L531.1,69.1 L531.6,69.3 L532.1,69.4 L532.6,69.6 L533.1,69.7 L533.6,69.8 L534.1,69.9 L534.6,70.0 L535.1,70.1 L535.6,70.2 L536.1,70.3 L536.6,70.4 L537.1,70.5 L537.6,70.6 L538.1,70.7 L538.6,70.8 L539.1,70.9 L539.6,71.0 L540.1,71.0 L540.6,71.1 L541.1,71.2 L541.6,71.2 L542.1,71.3 L542.6,71.4 L543.1,71.4 L543.6,71.5 L544.1,71.5 L544.6,71.6 L545.1,71.6 L545.6,71.7 L546.1,71.7 L546.6,71.7 L547.1,71.8 L547.6,71.8 L548.1,71.9 L548.6,71.9 L549.1,71.9 L549.6,71.9 L550.1,72.0 L550.6,72.0 L551.1,72.0 L551.6,72.0 L552.1,72.1 L552.6,72.1 L553.1,72.1 L553.6,72.1 L554.1,72.1 L554.6,72.2 L555.1,72.2 L555.6,72.2 L556.1,72.2 L556.6,72.2 L557.1,72.2 L557.6,72.2 L558.1,72.3 L558.6,72.3 L559.1,72.3 L559.6,72.3 L560.1,72.3 L560.6,72.3 L561.1,72.3 L561.6,72.3 L562.1,72.3 L562.6,72.3 L563.1,72.3 L563.6,72.3 L564.1,72.3 L564.6,72.3 L565.1,72.2 L565.6,72.2 L566.1,72.2 L566.6,72.2 L567.1,72.2 L567.6,72.2 L568.1,72.2 L568.6,72.1 L569.1,72.1 L569.6,72.1 L570.1,72.1 L570.6,72.0 L571.1,72.0 L571.6,72.0 L572.1,72.0 L572.6,71.9 L573.1,71.9 L573.6,71.9 L574.1,71.8 L574.6,71.8 L575.1,71.8 L575.6,71.7 L576.1,71.7 L576.6,71.7 L577.1,71.6 L577.6,71.6 L578.1,71.6 L578.6,71.5 L579.1,71.5 L579.6,71.4 L580.1,71.4 L580.6,71.4 L581.1,71.3 L581.6,71.3 L582.1,71.2 L582.6,71.2 L583.1,71.1 L583.6,71.1 L584.1,71.0 L584.6,71.0 L585.1,70.9 L585.6,70.9 L586.1,70.8 L586.6,70.8 L587.1,70.7 L587.6,70.7 L588.1,70.6 L588.6,70.6 L589.1,70.5 L589.6,70.5 L590.1,70.4 L590.6,70.4 L591.1,70.3 L591.6,70.3 L592.1,70.2 L592.6,70.1 L593.1,70.1 L593.6,70.0 L594.1,70.0 L594.6,69.9 L595.1,69.8 L595.6,69.8 L596.1,69.7 L596.6,69.6 L597.1,69.6 L597.6,69.5 L598.1,69.4 L598.6,69.4 L599.1,69.3 L599.6,69.2 L600.1,69.2 L600.6,69.1 L601.1,69.0 L601.6,69.0 L602.1,68.9 L602.6,68.8 L603.1,68.8 L603.6,68.7 L604.1,68.6 L604.6,68.5 L605.1,68.5 L605.6,68.4 L606.1,68.3 L606.6,68.2 L607.1,68.2 L607.6,68.1 L608.1,68.0 L608.6,67.9 L609.1,67.9 L609.6,67.8 L610.1,67.7 L610.6,67.6 L611.1,67.5 L611.6,67.5 L612.1,67.4 L612.6,67.3 L613.1,67.2 L613.6,67.1 L614.1,67.0 L614.6,67.0 L615.1,66.9 L615.6,66.8 L616.1,66.7 L616.6,66.6 L617.1,66.5 L617.6,66.4 L618.1,66.4 L618.6,66.3 L619.1,66.2 L619.6,66.1 L620.1,66.0 L620.6,65.9 L621.1,65.8 L621.6,65.7 L622.1,65.6 L622.6,65.5 L623.1,65.4 L623.6,65.4 L624.1,65.3 L624.6,65.2 L625.1,65.1 L625.6,65.0 L626.1,64.9 L626.6,64.8"/>
</g>
<g stroke="#000" stroke-width="1.6" fill="none"><path d="M102.75,12.3 V440.4 M102.75,440.4 H653"/><path d="M95,13.1 H102.75"/><path d="M95,87.3 H102.75"/><path d="M95,161.6 H102.75"/><path d="M95,235.9 H102.75"/><path d="M95,310.1 H102.75"/><path d="M95,384.4 H102.75"/><path d="M98.5,50.2 H102.75"/><path d="M98.5,124.5 H102.75"/><path d="M98.5,198.7 H102.75"/><path d="M98.5,273.0 H102.75"/><path d="M98.5,347.2 H102.75"/><path d="M98.5,421.5 H102.75"/><path d="M142.94,440.4 V447.6"/><path d="M223.62,440.4 V447.6"/><path d="M304.30,440.4 V447.6"/><path d="M384.98,440.4 V447.6"/><path d="M465.66,440.4 V447.6"/><path d="M546.34,440.4 V447.6"/><path d="M627.02,440.4 V447.6"/><path d="M102.60,440.4 V444.4"/><path d="M183.28,440.4 V444.4"/><path d="M263.96,440.4 V444.4"/><path d="M344.64,440.4 V444.4"/><path d="M425.32,440.4 V444.4"/><path d="M506.00,440.4 V444.4"/><path d="M586.68,440.4 V444.4"/></g>
<g font-family="'Liberation Sans', sans-serif" font-weight="bold" font-size="22" fill="#000"><text transform="translate(91.8,19.48) scale(1,1.066)" text-anchor="end">200</text><text transform="translate(91.8,93.74) scale(1,1.066)" text-anchor="end">100</text><text transform="translate(91.8,168.00) scale(1,1.066)" text-anchor="end">0</text><text transform="translate(91.8,242.26) scale(1,1.066)" text-anchor="end">-100</text><text transform="translate(91.8,316.52) scale(1,1.066)" text-anchor="end">-200</text><text transform="translate(91.8,390.78) scale(1,1.066)" text-anchor="end">-300</text><text transform="translate(142.94,469.3) scale(1,1.07)" text-anchor="middle">0.0</text><text transform="translate(223.62,469.3) scale(1,1.07)" text-anchor="middle">-0.2</text><text transform="translate(304.30,469.3) scale(1,1.07)" text-anchor="middle">-0.4</text><text transform="translate(384.98,469.3) scale(1,1.07)" text-anchor="middle">-0.6</text><text transform="translate(465.66,469.3) scale(1,1.07)" text-anchor="middle">-0.8</text><text transform="translate(546.34,469.3) scale(1,1.07)" text-anchor="middle">-1.0</text><text transform="translate(627.02,469.3) scale(1,1.07)" text-anchor="middle">-1.2</text><text transform="translate(385.3,505.5) scale(0.965,1.03)" text-anchor="middle">E(V) vs Ag/AgCl</text><text transform="translate(19,234.1) rotate(-90)" text-anchor="middle">I/<tspan font-weight="normal" font-size="20">&#181;</tspan><tspan dx="1.5">A</tspan></text></g><g font-family="'Liberation Sans', sans-serif" font-weight="bold" font-size="20" fill="#000"><text x="236.8" y="215.3" text-anchor="middle" font-size="19.5">a</text><text x="237.5" y="393" text-anchor="middle">k</text><text x="315.8" y="427.3" text-anchor="middle">Pb</text><text x="403.8" y="246.6" text-anchor="middle">Cd</text></g>
<g stroke="#000" stroke-width="2.3" fill="#000"><path d="M236.2,213.3 V358" fill="none"/><path d="M232.3,357.2 L240.3,357.2 L236.2,371.4 Z" stroke-width="1.2" stroke-linejoin="round"/><path d="M621.2,104.8 L505,151" fill="none"/><path d="M496.8,155 L508.2,145.9 L511.5,153.1 Z" stroke-width="1" stroke-linejoin="round"/></g>
</svg></body></html>
